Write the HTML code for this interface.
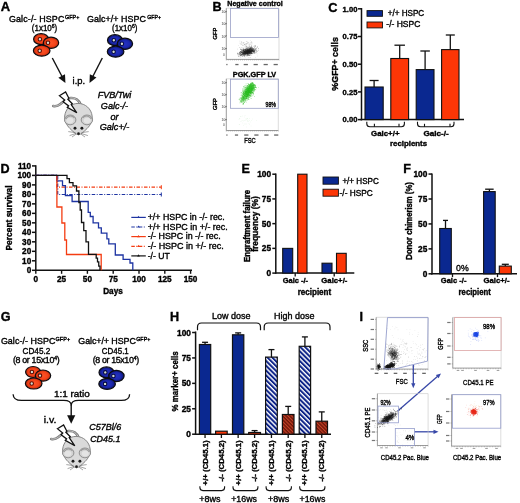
<!DOCTYPE html>
<html><head><meta charset="utf-8"><style>
html,body{margin:0;padding:0;background:#fff;}
svg{display:block;filter:blur(0.4px);}
text{font-family:"Liberation Sans", sans-serif;} text:not([fill]){fill:#000;} text:not([stroke]){stroke:#000;stroke-width:0.36px;}
</style></head><body>
<svg width="520" height="503" viewBox="0 0 520 503">
<rect width="520" height="503" fill="#fff"/>
<defs><radialGradient id="gr" cx="0.5" cy="0.5" r="0.5"><stop offset="0" stop-color="#fb5428"/><stop offset="0.6" stop-color="#f4441a"/><stop offset="1" stop-color="#c42c0c"/></radialGradient><radialGradient id="gb" cx="0.5" cy="0.5" r="0.5"><stop offset="0" stop-color="#2532c0"/><stop offset="0.6" stop-color="#1c28b0"/><stop offset="1" stop-color="#0c1468"/></radialGradient></defs>
<text x="0.8" y="10.6" font-size="13" font-weight="bold">A</text>
<text x="9" y="22" font-size="8.9" textLength="55.3">Galc-/- HSPC</text>
<text x="65.0" y="18.6" font-size="5.6" textLength="14.4" lengthAdjust="spacingAndGlyphs">GFP+</text>
<text x="31.8" y="31.4" font-size="8.9" textLength="25.5" lengthAdjust="spacingAndGlyphs">(1x10<tspan font-size="5.6" dy="-3">6</tspan><tspan dy="3">)</tspan></text>
<text x="87" y="22" font-size="8.9" textLength="59">Galc+/+ HSPC</text>
<text x="147.2" y="18.6" font-size="5.6" textLength="14" lengthAdjust="spacingAndGlyphs">GFP+</text>
<text x="112" y="31.4" font-size="8.9" textLength="25.4" lengthAdjust="spacingAndGlyphs">(1x10<tspan font-size="5.6" dy="-3">6</tspan><tspan dy="3">)</tspan></text>
<g><ellipse cx="41.1" cy="39.2" rx="7.5" ry="5.5" fill="url(#gr)" stroke="#0c0c10" stroke-width="1.2"/><circle cx="39.9" cy="39.2" r="1.75" fill="#d4dcd0" stroke="#5a0a00" stroke-width="1.1"/><ellipse cx="51.0" cy="42.8" rx="7.7" ry="5.6" fill="url(#gr)" stroke="#0c0c10" stroke-width="1.2"/><circle cx="48.0" cy="42.8" r="1.75" fill="#d4dcd0" stroke="#5a0a00" stroke-width="1.1"/><ellipse cx="41.7" cy="50.7" rx="8.3" ry="5.5" fill="url(#gr)" stroke="#0c0c10" stroke-width="1.2"/><circle cx="39.7" cy="50.7" r="1.75" fill="#d4dcd0" stroke="#5a0a00" stroke-width="1.1"/></g>
<g><ellipse cx="115.0" cy="40.2" rx="7.5" ry="5.5" fill="url(#gb)" stroke="#0c0c10" stroke-width="1.2"/><circle cx="113.8" cy="40.2" r="1.75" fill="#d4dcd0" stroke="#060a40" stroke-width="1.1"/><ellipse cx="124.9" cy="43.8" rx="7.7" ry="5.6" fill="url(#gb)" stroke="#0c0c10" stroke-width="1.2"/><circle cx="121.9" cy="43.8" r="1.75" fill="#d4dcd0" stroke="#060a40" stroke-width="1.1"/><ellipse cx="115.6" cy="51.7" rx="8.3" ry="5.5" fill="url(#gb)" stroke="#0c0c10" stroke-width="1.2"/><circle cx="113.6" cy="51.7" r="1.75" fill="#d4dcd0" stroke="#060a40" stroke-width="1.1"/></g>
<line x1="52.3" y1="58" x2="62.15" y2="76.80" stroke="#111" stroke-width="1.4"/>
<path d="M65.4,83 L58.37,77.65 L65.01,74.17 Z" fill="#111"/>
<line x1="102.3" y1="58" x2="92.69" y2="76.77" stroke="#111" stroke-width="1.4"/>
<path d="M89.5,83 L89.81,74.17 L96.48,77.59 Z" fill="#111"/>
<text x="72.6" y="83.9" font-size="9.8" textLength="12.5" lengthAdjust="spacingAndGlyphs">i.p.</text>
<g transform="translate(0 0)"><path d="M80.5,104.5 C79,100 75,97.5 70.5,98 C66.5,98.5 63.5,101.5 60.5,104 C58.5,105.6 56,106.6 53.2,106" fill="none" stroke="#7c7c7c" stroke-width="2.6" stroke-linecap="round"/><path d="M80.5,104.5 C79,100 75,97.5 70.5,98 C66.5,98.5 63.5,101.5 60.5,104 C58.5,105.6 56,106.6 53.2,106" fill="none" stroke="#c4c4c4" stroke-width="1.0" stroke-linecap="round"/><path d="M78,103.4 C85.5,103.4 91.4,109 92.1,116 C92.8,121 90.5,125 87,128.6 C84,131.6 81,134.4 78.5,134.9 C76,134.4 73,131.6 70,128.6 C66.5,125 64.2,121 64.7,116 C65.5,109 70.8,103.4 78,103.4 Z" fill="#dadada" stroke="#848484" stroke-width="1"/><ellipse cx="70.2" cy="119.9" rx="5.7" ry="4.9" fill="#d2d2d2" stroke="#888" stroke-width="0.9"/><path d="M74.5,117.8 Q70.2,113.6 65.6,119" fill="none" stroke="#9a9a9a" stroke-width="1.2"/><ellipse cx="69.9" cy="120.6" rx="3.5" ry="2.8" fill="#e4e4e4"/><ellipse cx="86.9" cy="119.9" rx="5.7" ry="4.9" fill="#d2d2d2" stroke="#888" stroke-width="0.9"/><path d="M82.6,117.8 Q86.9,113.6 91.5,119" fill="none" stroke="#9a9a9a" stroke-width="1.2"/><ellipse cx="87.2" cy="120.6" rx="3.5" ry="2.8" fill="#e4e4e4"/><circle cx="75" cy="128.3" r="1.45" fill="#1a1a1a"/><circle cx="81.9" cy="128.3" r="1.45" fill="#1a1a1a"/><circle cx="78.5" cy="133.6" r="1.3" fill="#1a1a1a"/><path d="M75.5,132.6 L68.3,131.6 M75.5,133.6 L69.6,135.6 M76,134.2 L72,137 M81.5,132.6 L88.7,131.6 M81.5,133.6 L87.9,135.6 M81,134.2 L85,137" stroke="#6a6a6a" stroke-width="0.6" fill="none"/><path d="M59.4,95.7 L65.6,91.9 L68.9,98.3 L67.9,99.2 L72.3,103.7 L71.2,104.7 L76.8,112.8 L67.3,107.3 L68.6,105.9 L63.1,101.7 L64.7,100.1 Z" fill="#fff" stroke="#111" stroke-width="1.3" stroke-linejoin="miter"/></g>
<text x="114.5" y="97.5" font-size="9.1" font-style="italic" text-anchor="middle">FVB/Twi</text>
<text x="114.5" y="108.6" font-size="9.1" font-style="italic" text-anchor="middle">Galc-/-</text>
<text x="114.5" y="119.6" font-size="9.1" font-style="italic" text-anchor="middle">or</text>
<text x="114.5" y="130.2" font-size="9.1" font-style="italic" text-anchor="middle">Galc+/-</text>
<text x="212.6" y="10.6" font-size="12.6" font-weight="bold">B</text>
<text x="227.3" y="6.0" font-size="7.4" font-weight="bold" textLength="55.4" lengthAdjust="spacingAndGlyphs">Negative control</text>
<path d="M226.3,8.2 H279 V59.4" fill="none" stroke="#c4c4c4" stroke-width="0.6"/>
<path d="M226.3,8.2 V59.4 H279" fill="none" stroke="#707070" stroke-width="0.7"/>
<path d="M226.3,59.4 v1.2 M228.3,59.4 v1.2 M230.4,59.4 v1.2 M232.4,59.4 v1.2 M234.4,59.4 v1.2 M236.4,59.4 v1.2 M238.5,59.4 v1.2 M240.5,59.4 v1.2 M242.5,59.4 v1.2 M244.5,59.4 v1.2 M246.6,59.4 v1.2 M248.6,59.4 v1.2 M250.6,59.4 v1.2 M252.7,59.4 v1.2 M254.7,59.4 v1.2 M256.7,59.4 v1.2 M258.7,59.4 v1.2 M260.8,59.4 v1.2 M262.8,59.4 v1.2 M264.8,59.4 v1.2 M266.8,59.4 v1.2 M268.9,59.4 v1.2 M270.9,59.4 v1.2 M272.9,59.4 v1.2 M274.9,59.4 v1.2 M277.0,59.4 v1.2 M279.0,59.4 v1.2 " stroke="#777" stroke-width="0.35"/>
<rect x="230.5" y="8.4" width="48" height="29.1" fill="none" stroke="#9aa0c6" stroke-width="0.8"/>
<text x="221.6" y="13.2" font-size="3.4" fill="#333" stroke="none">10<tspan font-size="2.4" dy="-1.3">5</tspan></text>
<line x1="224.7" y1="12" x2="226.29999999999998" y2="12" stroke="#555" stroke-width="0.5"/>
<text x="221.6" y="25.2" font-size="3.4" fill="#333" stroke="none">10<tspan font-size="2.4" dy="-1.3">5</tspan></text>
<line x1="224.7" y1="24" x2="226.29999999999998" y2="24" stroke="#555" stroke-width="0.5"/>
<text x="221.6" y="37.7" font-size="3.4" fill="#333" stroke="none">10<tspan font-size="2.4" dy="-1.3">5</tspan></text>
<line x1="224.7" y1="36.5" x2="226.29999999999998" y2="36.5" stroke="#555" stroke-width="0.5"/>
<text x="221.6" y="50.0" font-size="3.4" fill="#333" stroke="none">10<tspan font-size="2.4" dy="-1.3">5</tspan></text>
<line x1="224.7" y1="48.8" x2="226.29999999999998" y2="48.8" stroke="#555" stroke-width="0.5"/>
<text x="223" y="55.5" font-size="3.2" fill="#333" stroke="none">0</text>
<rect x="226.30" y="63.9" width="1.2" height="1.3" fill="#666"/>
<rect x="235.30" y="63.9" width="3.2" height="1.3" fill="#666"/>
<rect x="243.70" y="63.9" width="4.2" height="1.3" fill="#666"/>
<rect x="253.60" y="63.9" width="4.2" height="1.3" fill="#666"/>
<rect x="263.60" y="63.9" width="4.2" height="1.3" fill="#666"/>
<rect x="273.60" y="63.9" width="4.2" height="1.3" fill="#666"/>
<text x="217.4" y="33.5" font-size="5.9" text-anchor="middle" textLength="11.9" lengthAdjust="spacingAndGlyphs" transform="rotate(-90 217.4 33.5)">GFP</text>
<path fill="#1a1a1a" fill-opacity="0.55" d="M246.3 52.4h.6v.6h-.6zM241.1 50.0h.6v.6h-.6zM246.0 51.5h.6v.6h-.6zM246.8 50.2h.6v.6h-.6zM243.7 51.3h.6v.6h-.6zM248.1 51.9h.6v.6h-.6zM242.5 55.0h.6v.6h-.6zM242.2 52.3h.6v.6h-.6zM246.6 52.0h.6v.6h-.6zM243.2 52.7h.6v.6h-.6zM250.8 48.7h.6v.6h-.6zM247.8 53.2h.6v.6h-.6zM248.0 52.2h.6v.6h-.6zM244.0 54.6h.6v.6h-.6zM244.5 53.6h.6v.6h-.6zM247.0 53.1h.6v.6h-.6zM253.6 50.0h.6v.6h-.6zM241.6 51.6h.6v.6h-.6zM239.2 51.8h.6v.6h-.6zM254.2 47.0h.6v.6h-.6zM243.5 51.6h.6v.6h-.6zM240.2 54.6h.6v.6h-.6zM253.3 51.6h.6v.6h-.6zM246.0 52.9h.6v.6h-.6zM248.8 49.5h.6v.6h-.6zM252.5 51.3h.6v.6h-.6zM251.7 50.1h.6v.6h-.6zM247.9 51.3h.6v.6h-.6zM253.8 50.8h.6v.6h-.6zM247.3 51.8h.6v.6h-.6zM246.5 51.1h.6v.6h-.6zM246.3 51.1h.6v.6h-.6zM245.4 52.0h.6v.6h-.6zM250.0 52.3h.6v.6h-.6zM249.3 52.1h.6v.6h-.6zM244.8 53.2h.6v.6h-.6zM241.8 50.0h.6v.6h-.6zM245.5 54.3h.6v.6h-.6zM245.3 52.1h.6v.6h-.6zM249.9 51.3h.6v.6h-.6zM252.7 50.7h.6v.6h-.6zM252.6 49.3h.6v.6h-.6zM248.2 51.6h.6v.6h-.6zM252.7 49.6h.6v.6h-.6zM248.9 48.5h.6v.6h-.6zM242.7 49.0h.6v.6h-.6zM250.5 54.1h.6v.6h-.6zM243.0 54.7h.6v.6h-.6zM248.5 51.2h.6v.6h-.6zM251.6 49.3h.6v.6h-.6zM249.9 48.3h.6v.6h-.6zM255.2 46.5h.6v.6h-.6zM248.8 49.9h.6v.6h-.6zM249.1 48.8h.6v.6h-.6zM249.8 49.5h.6v.6h-.6zM250.4 50.8h.6v.6h-.6zM244.7 52.7h.6v.6h-.6zM241.3 54.1h.6v.6h-.6zM239.1 52.7h.6v.6h-.6zM248.2 50.3h.6v.6h-.6zM251.7 50.9h.6v.6h-.6zM252.1 50.6h.6v.6h-.6zM246.2 51.1h.6v.6h-.6zM238.2 53.6h.6v.6h-.6zM247.9 52.4h.6v.6h-.6zM250.4 49.2h.6v.6h-.6zM247.2 50.9h.6v.6h-.6zM248.9 51.9h.6v.6h-.6zM247.3 52.3h.6v.6h-.6zM247.3 54.8h.6v.6h-.6zM248.1 50.3h.6v.6h-.6zM247.3 51.8h.6v.6h-.6zM247.7 51.1h.6v.6h-.6zM240.4 53.5h.6v.6h-.6zM246.1 52.4h.6v.6h-.6zM254.6 47.8h.6v.6h-.6zM245.6 53.3h.6v.6h-.6zM244.0 54.2h.6v.6h-.6zM248.9 52.7h.6v.6h-.6zM244.9 50.8h.6v.6h-.6zM241.3 52.2h.6v.6h-.6zM249.2 50.2h.6v.6h-.6zM254.6 52.2h.6v.6h-.6zM245.7 50.0h.6v.6h-.6zM248.0 48.8h.6v.6h-.6zM244.5 50.9h.6v.6h-.6zM251.0 51.8h.6v.6h-.6zM246.4 52.0h.6v.6h-.6zM245.3 52.5h.6v.6h-.6zM245.4 51.5h.6v.6h-.6zM242.6 53.4h.6v.6h-.6zM245.7 50.7h.6v.6h-.6zM248.8 48.1h.6v.6h-.6zM243.0 52.4h.6v.6h-.6zM252.1 50.7h.6v.6h-.6zM241.1 52.3h.6v.6h-.6zM245.7 53.0h.6v.6h-.6zM243.7 49.8h.6v.6h-.6zM248.4 47.6h.6v.6h-.6zM249.0 51.2h.6v.6h-.6zM247.6 51.5h.6v.6h-.6zM245.6 48.7h.6v.6h-.6zM245.0 54.3h.6v.6h-.6zM242.4 54.3h.6v.6h-.6zM240.4 54.4h.6v.6h-.6zM249.9 47.8h.6v.6h-.6zM243.0 50.8h.6v.6h-.6zM242.4 52.8h.6v.6h-.6zM247.7 50.4h.6v.6h-.6zM251.1 46.8h.6v.6h-.6zM253.8 52.7h.6v.6h-.6zM253.6 48.0h.6v.6h-.6zM249.7 51.7h.6v.6h-.6zM252.3 47.8h.6v.6h-.6zM246.2 49.7h.6v.6h-.6zM254.4 51.0h.6v.6h-.6zM246.8 50.2h.6v.6h-.6zM249.8 53.3h.6v.6h-.6zM246.8 49.9h.6v.6h-.6zM245.8 52.4h.6v.6h-.6zM254.0 51.1h.6v.6h-.6zM246.5 50.6h.6v.6h-.6zM245.6 52.2h.6v.6h-.6zM247.8 49.8h.6v.6h-.6zM244.9 50.8h.6v.6h-.6z"/>
<path fill="#1a1a1a" fill-opacity="0.55" d="M246.4 51.1h.6v.6h-.6zM244.0 51.4h.6v.6h-.6zM249.5 51.3h.6v.6h-.6zM249.0 50.9h.6v.6h-.6zM251.8 47.1h.6v.6h-.6zM252.9 51.1h.6v.6h-.6zM249.2 50.7h.6v.6h-.6zM246.7 51.0h.6v.6h-.6zM249.3 50.9h.6v.6h-.6zM248.6 51.5h.6v.6h-.6zM247.0 53.0h.6v.6h-.6zM246.7 51.8h.6v.6h-.6zM241.7 50.2h.6v.6h-.6zM250.8 50.3h.6v.6h-.6zM247.6 51.5h.6v.6h-.6zM252.6 52.8h.6v.6h-.6zM249.1 52.6h.6v.6h-.6zM250.5 49.8h.6v.6h-.6zM248.2 50.4h.6v.6h-.6zM248.9 54.9h.6v.6h-.6zM250.4 50.8h.6v.6h-.6zM248.4 50.0h.6v.6h-.6zM253.8 51.2h.6v.6h-.6zM247.4 50.0h.6v.6h-.6zM240.4 53.0h.6v.6h-.6zM247.1 52.4h.6v.6h-.6zM247.5 55.5h.6v.6h-.6zM246.3 52.7h.6v.6h-.6zM251.1 49.1h.6v.6h-.6zM249.5 52.0h.6v.6h-.6zM247.0 50.2h.6v.6h-.6zM248.9 52.0h.6v.6h-.6zM249.1 50.3h.6v.6h-.6zM249.0 50.7h.6v.6h-.6zM244.4 54.8h.6v.6h-.6zM247.0 51.9h.6v.6h-.6zM251.4 49.7h.6v.6h-.6zM250.0 50.6h.6v.6h-.6zM247.8 51.9h.6v.6h-.6zM249.0 50.8h.6v.6h-.6zM250.4 49.6h.6v.6h-.6zM243.5 50.0h.6v.6h-.6zM242.5 52.1h.6v.6h-.6zM246.9 51.8h.6v.6h-.6zM244.8 51.9h.6v.6h-.6zM249.4 52.2h.6v.6h-.6zM247.2 51.0h.6v.6h-.6zM248.9 49.5h.6v.6h-.6zM249.6 50.3h.6v.6h-.6zM247.9 51.1h.6v.6h-.6zM244.7 51.1h.6v.6h-.6zM247.1 52.1h.6v.6h-.6zM244.0 51.5h.6v.6h-.6zM248.9 51.0h.6v.6h-.6zM246.8 54.3h.6v.6h-.6zM246.2 50.7h.6v.6h-.6zM244.0 55.8h.6v.6h-.6zM241.0 54.6h.6v.6h-.6zM250.4 51.9h.6v.6h-.6zM247.8 50.2h.6v.6h-.6zM247.2 50.9h.6v.6h-.6zM244.6 52.1h.6v.6h-.6zM246.6 48.8h.6v.6h-.6zM249.1 50.5h.6v.6h-.6zM244.0 52.0h.6v.6h-.6zM240.7 51.3h.6v.6h-.6zM248.4 50.0h.6v.6h-.6zM246.8 51.2h.6v.6h-.6zM251.4 51.8h.6v.6h-.6zM251.5 51.0h.6v.6h-.6zM246.1 52.9h.6v.6h-.6zM244.1 54.4h.6v.6h-.6zM247.0 52.6h.6v.6h-.6zM244.9 48.9h.6v.6h-.6zM248.2 51.3h.6v.6h-.6zM249.1 51.7h.6v.6h-.6zM249.9 51.0h.6v.6h-.6zM244.8 51.7h.6v.6h-.6zM243.3 54.7h.6v.6h-.6zM244.3 53.0h.6v.6h-.6zM247.3 49.1h.6v.6h-.6zM248.3 52.4h.6v.6h-.6zM250.0 51.7h.6v.6h-.6zM244.5 50.7h.6v.6h-.6zM250.5 48.7h.6v.6h-.6zM243.4 48.9h.6v.6h-.6zM241.7 52.0h.6v.6h-.6zM246.6 53.1h.6v.6h-.6zM251.5 52.5h.6v.6h-.6zM248.9 49.7h.6v.6h-.6zM245.4 50.5h.6v.6h-.6zM248.8 51.6h.6v.6h-.6zM249.0 53.3h.6v.6h-.6zM240.2 52.2h.6v.6h-.6zM243.8 48.8h.6v.6h-.6zM248.1 52.8h.6v.6h-.6zM245.7 53.7h.6v.6h-.6zM251.4 49.3h.6v.6h-.6zM245.3 50.6h.6v.6h-.6zM248.9 49.1h.6v.6h-.6zM252.7 50.3h.6v.6h-.6zM247.0 50.8h.6v.6h-.6zM250.8 53.3h.6v.6h-.6zM253.1 49.1h.6v.6h-.6zM243.3 54.0h.6v.6h-.6zM244.6 51.4h.6v.6h-.6zM244.8 52.2h.6v.6h-.6zM248.1 52.2h.6v.6h-.6zM244.5 51.2h.6v.6h-.6zM247.2 51.9h.6v.6h-.6zM247.0 53.5h.6v.6h-.6zM247.8 50.8h.6v.6h-.6zM247.1 52.2h.6v.6h-.6zM249.7 52.2h.6v.6h-.6zM251.7 53.0h.6v.6h-.6zM246.0 50.7h.6v.6h-.6zM247.8 51.2h.6v.6h-.6zM246.6 50.5h.6v.6h-.6zM247.0 50.9h.6v.6h-.6zM243.9 53.7h.6v.6h-.6zM251.2 50.0h.6v.6h-.6zM252.0 50.6h.6v.6h-.6zM241.2 51.0h.6v.6h-.6zM247.4 52.8h.6v.6h-.6zM245.9 51.6h.6v.6h-.6z"/>
<path fill="#1a1a1a" fill-opacity="0.55" d="M243.9 51.8h.6v.6h-.6zM248.3 51.1h.6v.6h-.6zM245.6 50.2h.6v.6h-.6zM241.9 53.9h.6v.6h-.6zM242.0 52.9h.6v.6h-.6zM249.1 51.9h.6v.6h-.6zM248.4 52.2h.6v.6h-.6zM252.3 48.6h.6v.6h-.6zM250.0 51.7h.6v.6h-.6zM245.6 52.8h.6v.6h-.6zM250.3 53.1h.6v.6h-.6zM250.1 51.0h.6v.6h-.6zM249.4 49.4h.6v.6h-.6zM240.1 55.2h.6v.6h-.6zM252.3 49.8h.6v.6h-.6zM244.8 53.3h.6v.6h-.6zM246.5 49.5h.6v.6h-.6zM244.0 50.9h.6v.6h-.6zM250.0 52.0h.6v.6h-.6zM243.9 53.2h.6v.6h-.6zM244.1 50.7h.6v.6h-.6zM252.0 53.2h.6v.6h-.6zM244.1 52.5h.6v.6h-.6zM244.9 51.9h.6v.6h-.6zM243.9 53.3h.6v.6h-.6zM253.2 51.6h.6v.6h-.6zM246.0 53.1h.6v.6h-.6zM243.4 51.2h.6v.6h-.6zM246.5 48.6h.6v.6h-.6zM252.6 52.1h.6v.6h-.6zM249.7 51.4h.6v.6h-.6zM247.1 50.1h.6v.6h-.6zM255.6 49.0h.6v.6h-.6zM249.0 49.3h.6v.6h-.6zM253.2 50.1h.6v.6h-.6zM252.7 52.0h.6v.6h-.6zM247.0 50.9h.6v.6h-.6zM245.5 50.7h.6v.6h-.6zM246.3 52.2h.6v.6h-.6zM242.1 52.5h.6v.6h-.6zM247.1 51.4h.6v.6h-.6zM242.8 52.9h.6v.6h-.6zM245.2 52.6h.6v.6h-.6zM241.8 52.6h.6v.6h-.6zM250.3 50.5h.6v.6h-.6zM249.4 55.1h.6v.6h-.6zM245.4 50.5h.6v.6h-.6zM251.1 51.1h.6v.6h-.6zM247.1 48.0h.6v.6h-.6zM247.6 53.1h.6v.6h-.6zM245.8 53.1h.6v.6h-.6zM250.7 51.7h.6v.6h-.6zM247.0 50.4h.6v.6h-.6zM240.6 53.3h.6v.6h-.6zM248.8 50.8h.6v.6h-.6zM246.3 52.6h.6v.6h-.6zM245.4 53.7h.6v.6h-.6zM245.1 52.1h.6v.6h-.6zM250.4 46.8h.6v.6h-.6zM241.4 54.4h.6v.6h-.6zM248.1 50.5h.6v.6h-.6zM247.7 48.5h.6v.6h-.6zM246.0 51.6h.6v.6h-.6zM249.2 47.4h.6v.6h-.6zM249.4 51.1h.6v.6h-.6zM256.2 52.5h.6v.6h-.6zM240.6 49.3h.6v.6h-.6zM250.6 50.7h.6v.6h-.6zM251.5 48.4h.6v.6h-.6zM245.0 52.5h.6v.6h-.6zM254.4 50.8h.6v.6h-.6zM244.8 49.0h.6v.6h-.6zM246.9 47.6h.6v.6h-.6zM241.9 53.6h.6v.6h-.6zM245.4 49.7h.6v.6h-.6zM247.9 51.5h.6v.6h-.6zM246.0 54.1h.6v.6h-.6zM248.2 50.6h.6v.6h-.6zM246.6 55.4h.6v.6h-.6zM248.4 50.7h.6v.6h-.6zM245.3 53.0h.6v.6h-.6zM245.2 48.9h.6v.6h-.6zM253.6 49.7h.6v.6h-.6zM250.3 52.4h.6v.6h-.6zM244.7 50.6h.6v.6h-.6zM249.3 53.1h.6v.6h-.6zM242.1 52.4h.6v.6h-.6zM250.9 50.7h.6v.6h-.6zM249.1 48.9h.6v.6h-.6zM248.9 50.0h.6v.6h-.6zM253.6 48.6h.6v.6h-.6zM247.8 54.0h.6v.6h-.6zM241.4 52.2h.6v.6h-.6zM254.1 50.0h.6v.6h-.6zM242.3 56.5h.6v.6h-.6zM243.2 53.3h.6v.6h-.6zM243.0 50.2h.6v.6h-.6zM243.4 50.7h.6v.6h-.6zM250.0 48.3h.6v.6h-.6zM250.6 49.8h.6v.6h-.6zM254.0 52.8h.6v.6h-.6zM243.3 50.5h.6v.6h-.6zM245.9 51.7h.6v.6h-.6zM244.5 51.5h.6v.6h-.6zM241.1 50.7h.6v.6h-.6zM251.1 48.2h.6v.6h-.6zM247.0 54.1h.6v.6h-.6zM249.6 53.1h.6v.6h-.6zM246.5 51.5h.6v.6h-.6zM247.9 52.2h.6v.6h-.6zM241.5 49.6h.6v.6h-.6zM248.5 48.7h.6v.6h-.6zM245.0 52.0h.6v.6h-.6zM254.0 52.0h.6v.6h-.6zM246.8 53.1h.6v.6h-.6zM244.3 52.2h.6v.6h-.6zM248.4 49.8h.6v.6h-.6zM248.6 51.4h.6v.6h-.6zM248.4 49.8h.6v.6h-.6zM251.6 50.5h.6v.6h-.6zM242.8 52.2h.6v.6h-.6zM243.3 51.4h.6v.6h-.6zM250.0 52.4h.6v.6h-.6zM237.9 55.2h.6v.6h-.6zM243.3 53.0h.6v.6h-.6z"/>
<path fill="#1a1a1a" fill-opacity="0.55" d="M251.2 51.2h.6v.6h-.6zM249.1 50.0h.6v.6h-.6zM245.3 53.8h.6v.6h-.6zM249.6 52.4h.6v.6h-.6zM252.4 51.2h.6v.6h-.6zM241.6 54.7h.6v.6h-.6zM247.6 53.1h.6v.6h-.6zM251.7 48.4h.6v.6h-.6zM254.4 50.3h.6v.6h-.6zM248.2 50.3h.6v.6h-.6zM241.1 52.2h.6v.6h-.6zM246.9 53.9h.6v.6h-.6zM243.5 49.9h.6v.6h-.6zM246.9 50.5h.6v.6h-.6zM238.9 52.6h.6v.6h-.6zM240.4 51.2h.6v.6h-.6zM245.2 53.6h.6v.6h-.6zM241.7 52.4h.6v.6h-.6zM249.6 51.4h.6v.6h-.6zM254.0 49.7h.6v.6h-.6zM256.8 51.1h.6v.6h-.6zM242.2 51.5h.6v.6h-.6zM239.4 51.9h.6v.6h-.6zM246.8 51.7h.6v.6h-.6zM243.3 48.1h.6v.6h-.6zM250.9 48.8h.6v.6h-.6zM250.7 50.6h.6v.6h-.6zM247.2 49.1h.6v.6h-.6zM250.0 52.3h.6v.6h-.6zM242.5 51.6h.6v.6h-.6zM246.9 50.4h.6v.6h-.6zM246.7 51.4h.6v.6h-.6zM251.2 50.7h.6v.6h-.6zM251.5 48.8h.6v.6h-.6zM248.2 50.5h.6v.6h-.6zM245.3 55.5h.6v.6h-.6zM246.8 49.8h.6v.6h-.6zM243.8 51.6h.6v.6h-.6zM247.4 52.6h.6v.6h-.6zM248.8 50.2h.6v.6h-.6zM240.8 55.1h.6v.6h-.6zM253.3 50.7h.6v.6h-.6zM246.8 51.4h.6v.6h-.6zM244.8 52.5h.6v.6h-.6zM248.3 50.1h.6v.6h-.6zM247.9 51.6h.6v.6h-.6zM244.9 52.9h.6v.6h-.6zM241.6 55.2h.6v.6h-.6zM245.7 52.8h.6v.6h-.6zM255.8 48.4h.6v.6h-.6zM247.5 50.7h.6v.6h-.6zM246.2 49.9h.6v.6h-.6zM247.2 52.6h.6v.6h-.6zM251.5 47.5h.6v.6h-.6zM243.1 51.1h.6v.6h-.6zM248.5 49.2h.6v.6h-.6zM244.9 53.2h.6v.6h-.6zM251.7 50.6h.6v.6h-.6zM247.8 52.1h.6v.6h-.6zM248.3 50.3h.6v.6h-.6zM243.5 51.0h.6v.6h-.6zM245.0 52.1h.6v.6h-.6zM243.7 52.1h.6v.6h-.6zM250.3 51.3h.6v.6h-.6zM251.7 53.6h.6v.6h-.6zM244.7 50.8h.6v.6h-.6zM242.6 51.2h.6v.6h-.6zM249.9 51.7h.6v.6h-.6zM244.9 52.6h.6v.6h-.6zM253.0 51.1h.6v.6h-.6zM248.4 48.7h.6v.6h-.6zM246.5 50.3h.6v.6h-.6zM247.1 50.0h.6v.6h-.6zM244.4 51.4h.6v.6h-.6zM245.3 49.4h.6v.6h-.6zM251.0 48.2h.6v.6h-.6zM245.1 52.9h.6v.6h-.6zM248.1 50.3h.6v.6h-.6zM246.7 52.6h.6v.6h-.6zM247.8 51.0h.6v.6h-.6zM251.1 53.1h.6v.6h-.6zM248.4 51.9h.6v.6h-.6zM246.8 49.8h.6v.6h-.6zM242.3 54.0h.6v.6h-.6zM245.2 53.9h.6v.6h-.6zM247.8 49.7h.6v.6h-.6zM249.3 49.2h.6v.6h-.6zM242.3 53.7h.6v.6h-.6zM242.7 52.8h.6v.6h-.6zM245.2 52.7h.6v.6h-.6zM253.5 51.0h.6v.6h-.6zM246.0 52.4h.6v.6h-.6zM240.3 54.2h.6v.6h-.6zM242.7 52.8h.6v.6h-.6zM243.1 52.2h.6v.6h-.6zM248.6 49.9h.6v.6h-.6zM252.8 50.8h.6v.6h-.6zM245.6 49.7h.6v.6h-.6zM244.6 51.5h.6v.6h-.6zM250.7 50.8h.6v.6h-.6zM253.4 51.7h.6v.6h-.6zM239.1 54.1h.6v.6h-.6zM244.0 53.7h.6v.6h-.6zM256.2 51.0h.6v.6h-.6zM248.2 49.9h.6v.6h-.6zM244.0 48.9h.6v.6h-.6zM248.2 49.5h.6v.6h-.6zM244.2 53.6h.6v.6h-.6zM257.9 50.0h.6v.6h-.6zM248.2 51.4h.6v.6h-.6zM245.5 50.4h.6v.6h-.6zM240.9 49.1h.6v.6h-.6zM247.3 52.3h.6v.6h-.6zM250.0 48.9h.6v.6h-.6zM248.8 52.1h.6v.6h-.6zM247.1 52.5h.6v.6h-.6zM247.3 51.4h.6v.6h-.6zM243.9 50.9h.6v.6h-.6zM251.1 47.8h.6v.6h-.6zM243.1 53.0h.6v.6h-.6zM246.5 51.5h.6v.6h-.6zM246.7 50.8h.6v.6h-.6zM247.2 50.5h.6v.6h-.6zM249.9 47.5h.6v.6h-.6zM249.2 51.1h.6v.6h-.6z"/>
<path fill="#1a1a1a" fill-opacity="0.55" d="M250.9 51.0h.6v.6h-.6zM248.3 51.8h.6v.6h-.6zM244.3 52.4h.6v.6h-.6zM252.4 50.8h.6v.6h-.6zM240.4 48.9h.6v.6h-.6zM250.6 51.5h.6v.6h-.6zM244.8 51.3h.6v.6h-.6zM244.4 53.0h.6v.6h-.6zM245.7 51.1h.6v.6h-.6zM255.9 50.0h.6v.6h-.6zM246.0 52.7h.6v.6h-.6zM251.0 50.1h.6v.6h-.6zM251.8 51.6h.6v.6h-.6zM248.6 51.7h.6v.6h-.6zM240.5 54.2h.6v.6h-.6zM240.1 54.7h.6v.6h-.6zM241.3 51.8h.6v.6h-.6zM243.0 52.9h.6v.6h-.6zM252.0 51.4h.6v.6h-.6zM249.2 52.4h.6v.6h-.6zM249.5 46.7h.6v.6h-.6zM248.2 51.5h.6v.6h-.6zM247.0 52.3h.6v.6h-.6zM247.2 51.7h.6v.6h-.6zM243.5 54.8h.6v.6h-.6zM246.7 52.7h.6v.6h-.6zM243.0 52.6h.6v.6h-.6zM245.6 48.5h.6v.6h-.6zM240.4 52.8h.6v.6h-.6zM243.4 50.5h.6v.6h-.6zM246.6 47.2h.6v.6h-.6zM249.8 51.3h.6v.6h-.6zM251.2 46.7h.6v.6h-.6zM248.1 54.6h.6v.6h-.6zM252.3 49.1h.6v.6h-.6zM247.2 52.7h.6v.6h-.6zM247.3 49.1h.6v.6h-.6zM248.3 52.0h.6v.6h-.6zM240.4 51.5h.6v.6h-.6zM246.8 52.7h.6v.6h-.6zM250.4 47.9h.6v.6h-.6zM248.1 54.8h.6v.6h-.6zM245.9 53.4h.6v.6h-.6zM243.1 49.1h.6v.6h-.6zM248.3 53.8h.6v.6h-.6zM250.5 51.2h.6v.6h-.6zM247.3 51.5h.6v.6h-.6zM248.4 52.6h.6v.6h-.6zM252.0 49.7h.6v.6h-.6zM245.1 52.7h.6v.6h-.6zM249.2 53.5h.6v.6h-.6zM247.6 53.0h.6v.6h-.6zM251.5 53.2h.6v.6h-.6zM250.1 51.1h.6v.6h-.6zM247.9 52.7h.6v.6h-.6zM248.7 51.3h.6v.6h-.6zM255.2 45.6h.6v.6h-.6zM242.2 49.8h.6v.6h-.6zM256.4 47.8h.6v.6h-.6zM247.9 52.8h.6v.6h-.6zM245.1 50.9h.6v.6h-.6zM245.5 51.9h.6v.6h-.6zM249.1 50.7h.6v.6h-.6zM247.3 50.4h.6v.6h-.6zM243.9 49.1h.6v.6h-.6zM248.0 50.0h.6v.6h-.6zM247.1 51.5h.6v.6h-.6zM248.0 53.3h.6v.6h-.6zM252.4 50.4h.6v.6h-.6zM251.7 50.5h.6v.6h-.6zM254.1 50.0h.6v.6h-.6zM243.6 51.6h.6v.6h-.6zM249.5 49.9h.6v.6h-.6zM248.4 53.3h.6v.6h-.6zM251.6 51.3h.6v.6h-.6zM242.7 50.2h.6v.6h-.6zM251.4 50.1h.6v.6h-.6zM249.6 50.9h.6v.6h-.6zM245.9 49.9h.6v.6h-.6zM248.0 52.4h.6v.6h-.6zM244.1 49.8h.6v.6h-.6zM247.2 52.8h.6v.6h-.6zM248.9 53.2h.6v.6h-.6zM250.4 49.8h.6v.6h-.6zM250.3 51.7h.6v.6h-.6zM237.5 53.8h.6v.6h-.6zM239.8 55.1h.6v.6h-.6zM245.5 52.8h.6v.6h-.6zM248.6 55.2h.6v.6h-.6zM245.1 52.3h.6v.6h-.6zM252.4 48.7h.6v.6h-.6zM252.5 48.6h.6v.6h-.6zM244.5 51.6h.6v.6h-.6zM243.7 49.5h.6v.6h-.6zM248.0 51.0h.6v.6h-.6zM248.9 49.6h.6v.6h-.6zM250.6 49.3h.6v.6h-.6zM246.2 50.6h.6v.6h-.6zM246.0 53.3h.6v.6h-.6zM240.1 50.9h.6v.6h-.6zM247.7 51.5h.6v.6h-.6zM247.0 55.6h.6v.6h-.6zM242.2 53.4h.6v.6h-.6zM245.2 49.0h.6v.6h-.6zM250.0 50.8h.6v.6h-.6zM246.3 52.1h.6v.6h-.6zM252.8 51.7h.6v.6h-.6zM243.6 53.3h.6v.6h-.6zM250.0 49.4h.6v.6h-.6zM240.4 51.8h.6v.6h-.6zM245.2 52.1h.6v.6h-.6zM249.1 51.3h.6v.6h-.6zM246.9 51.2h.6v.6h-.6zM244.1 52.5h.6v.6h-.6zM248.9 49.8h.6v.6h-.6zM239.9 56.7h.6v.6h-.6zM249.4 49.2h.6v.6h-.6zM246.8 52.6h.6v.6h-.6zM246.6 51.6h.6v.6h-.6zM251.3 52.2h.6v.6h-.6zM249.7 50.6h.6v.6h-.6zM251.1 48.7h.6v.6h-.6zM251.1 47.2h.6v.6h-.6zM250.0 47.9h.6v.6h-.6zM253.3 49.5h.6v.6h-.6z"/>
<path fill="#1a1a1a" fill-opacity="0.55" d="M248.6 51.4h.6v.6h-.6zM244.8 54.7h.6v.6h-.6zM248.7 48.7h.6v.6h-.6zM247.6 49.2h.6v.6h-.6zM248.5 49.9h.6v.6h-.6zM240.1 52.0h.6v.6h-.6zM251.0 50.6h.6v.6h-.6zM251.3 51.9h.6v.6h-.6zM247.2 52.9h.6v.6h-.6zM245.2 51.7h.6v.6h-.6zM251.1 46.2h.6v.6h-.6zM257.1 47.4h.6v.6h-.6zM252.5 48.7h.6v.6h-.6zM252.6 48.6h.6v.6h-.6zM248.3 50.2h.6v.6h-.6zM242.8 52.4h.6v.6h-.6zM250.8 51.9h.6v.6h-.6zM238.7 53.8h.6v.6h-.6zM248.8 47.7h.6v.6h-.6zM243.9 52.0h.6v.6h-.6zM249.4 51.7h.6v.6h-.6zM245.8 50.2h.6v.6h-.6zM244.6 51.8h.6v.6h-.6zM246.7 49.5h.6v.6h-.6zM245.8 49.5h.6v.6h-.6zM246.1 53.3h.6v.6h-.6zM248.5 52.9h.6v.6h-.6zM244.7 52.9h.6v.6h-.6zM249.5 48.1h.6v.6h-.6zM246.9 51.5h.6v.6h-.6zM243.7 52.2h.6v.6h-.6zM244.6 49.8h.6v.6h-.6zM244.5 52.4h.6v.6h-.6zM246.4 51.6h.6v.6h-.6zM249.6 50.1h.6v.6h-.6zM244.9 51.8h.6v.6h-.6zM246.9 52.0h.6v.6h-.6zM249.2 54.3h.6v.6h-.6zM247.2 49.8h.6v.6h-.6zM244.0 53.1h.6v.6h-.6zM249.9 50.6h.6v.6h-.6zM245.3 50.7h.6v.6h-.6zM252.2 49.7h.6v.6h-.6zM247.3 51.8h.6v.6h-.6zM244.7 55.7h.6v.6h-.6zM253.2 48.1h.6v.6h-.6zM246.6 53.0h.6v.6h-.6zM247.9 51.0h.6v.6h-.6zM246.8 54.0h.6v.6h-.6zM243.4 53.0h.6v.6h-.6zM247.2 52.0h.6v.6h-.6zM243.3 50.6h.6v.6h-.6zM244.4 51.4h.6v.6h-.6zM248.9 51.7h.6v.6h-.6zM248.7 51.9h.6v.6h-.6zM243.6 53.4h.6v.6h-.6zM245.6 52.5h.6v.6h-.6zM251.5 51.6h.6v.6h-.6zM246.0 51.7h.6v.6h-.6zM243.7 52.0h.6v.6h-.6zM243.0 53.3h.6v.6h-.6zM249.8 52.0h.6v.6h-.6zM254.7 45.6h.6v.6h-.6zM249.5 50.1h.6v.6h-.6zM250.3 53.2h.6v.6h-.6zM251.9 50.2h.6v.6h-.6zM249.2 51.1h.6v.6h-.6zM245.1 51.3h.6v.6h-.6zM244.1 51.5h.6v.6h-.6zM249.1 50.7h.6v.6h-.6zM247.1 49.6h.6v.6h-.6zM248.2 49.3h.6v.6h-.6zM247.7 54.8h.6v.6h-.6zM254.2 51.5h.6v.6h-.6zM242.9 54.6h.6v.6h-.6zM245.2 50.9h.6v.6h-.6zM250.2 49.0h.6v.6h-.6zM248.0 46.8h.6v.6h-.6zM251.1 52.0h.6v.6h-.6zM250.7 49.5h.6v.6h-.6zM249.1 52.5h.6v.6h-.6zM245.1 51.7h.6v.6h-.6zM249.1 51.7h.6v.6h-.6zM241.8 51.4h.6v.6h-.6zM248.3 48.7h.6v.6h-.6zM251.6 50.9h.6v.6h-.6zM248.6 53.5h.6v.6h-.6zM248.1 53.8h.6v.6h-.6zM244.1 53.9h.6v.6h-.6zM253.0 50.2h.6v.6h-.6zM251.5 52.8h.6v.6h-.6zM250.9 53.5h.6v.6h-.6zM247.4 52.2h.6v.6h-.6zM244.5 53.2h.6v.6h-.6zM246.2 49.4h.6v.6h-.6zM244.3 52.0h.6v.6h-.6zM250.1 51.2h.6v.6h-.6zM245.2 50.3h.6v.6h-.6zM245.6 53.3h.6v.6h-.6zM251.3 50.3h.6v.6h-.6zM246.7 50.3h.6v.6h-.6zM247.1 51.2h.6v.6h-.6zM251.1 52.8h.6v.6h-.6zM244.8 53.8h.6v.6h-.6zM243.0 53.3h.6v.6h-.6zM241.1 51.8h.6v.6h-.6zM247.6 50.2h.6v.6h-.6zM247.8 51.6h.6v.6h-.6zM244.6 51.5h.6v.6h-.6zM238.8 54.3h.6v.6h-.6zM258.1 47.9h.6v.6h-.6zM247.5 47.6h.6v.6h-.6zM246.7 50.5h.6v.6h-.6zM249.0 49.4h.6v.6h-.6zM249.3 52.6h.6v.6h-.6zM255.4 49.5h.6v.6h-.6zM248.7 52.6h.6v.6h-.6zM242.9 50.7h.6v.6h-.6zM250.7 49.7h.6v.6h-.6zM250.1 47.8h.6v.6h-.6zM247.9 51.9h.6v.6h-.6zM249.0 51.2h.6v.6h-.6zM244.3 53.1h.6v.6h-.6zM251.3 51.1h.6v.6h-.6zM251.9 49.5h.6v.6h-.6z"/>
<path fill="#1a1a1a" fill-opacity="0.55" d="M241.2 54.1h.6v.6h-.6zM249.2 52.9h.6v.6h-.6zM247.4 53.5h.6v.6h-.6zM249.4 49.9h.6v.6h-.6zM243.2 53.9h.6v.6h-.6zM250.2 47.8h.6v.6h-.6zM244.0 53.6h.6v.6h-.6zM248.4 51.4h.6v.6h-.6zM246.0 52.3h.6v.6h-.6zM246.4 51.5h.6v.6h-.6zM251.1 48.2h.6v.6h-.6zM250.5 50.2h.6v.6h-.6zM247.2 49.6h.6v.6h-.6zM251.3 52.9h.6v.6h-.6zM247.2 52.7h.6v.6h-.6zM246.5 51.5h.6v.6h-.6zM247.2 52.7h.6v.6h-.6zM244.9 48.8h.6v.6h-.6zM250.4 52.8h.6v.6h-.6zM248.3 52.5h.6v.6h-.6zM253.3 50.7h.6v.6h-.6zM254.8 51.4h.6v.6h-.6zM248.9 51.6h.6v.6h-.6zM248.7 52.7h.6v.6h-.6zM244.5 52.8h.6v.6h-.6zM249.3 52.4h.6v.6h-.6zM250.0 50.8h.6v.6h-.6zM249.2 50.9h.6v.6h-.6zM240.6 51.2h.6v.6h-.6zM249.0 48.5h.6v.6h-.6zM241.8 52.9h.6v.6h-.6zM245.9 50.5h.6v.6h-.6zM249.4 54.7h.6v.6h-.6zM251.4 50.5h.6v.6h-.6zM244.7 53.1h.6v.6h-.6zM240.9 55.7h.6v.6h-.6zM248.9 50.7h.6v.6h-.6zM244.7 52.0h.6v.6h-.6zM243.4 53.2h.6v.6h-.6zM253.9 49.0h.6v.6h-.6zM248.8 51.6h.6v.6h-.6zM249.1 51.9h.6v.6h-.6zM250.2 49.5h.6v.6h-.6zM245.2 53.3h.6v.6h-.6zM244.9 51.9h.6v.6h-.6zM245.8 46.2h.6v.6h-.6zM249.0 50.8h.6v.6h-.6zM241.6 54.2h.6v.6h-.6zM246.0 52.8h.6v.6h-.6zM249.3 50.5h.6v.6h-.6zM251.7 50.8h.6v.6h-.6zM247.1 48.3h.6v.6h-.6zM238.3 56.4h.6v.6h-.6zM251.9 50.0h.6v.6h-.6zM247.0 53.6h.6v.6h-.6zM246.2 51.1h.6v.6h-.6zM246.9 50.4h.6v.6h-.6zM244.3 53.4h.6v.6h-.6zM250.4 50.0h.6v.6h-.6zM249.1 51.8h.6v.6h-.6zM242.5 53.5h.6v.6h-.6zM250.5 51.6h.6v.6h-.6zM246.5 48.6h.6v.6h-.6zM248.0 50.4h.6v.6h-.6zM250.5 52.0h.6v.6h-.6zM243.3 54.4h.6v.6h-.6zM244.3 50.9h.6v.6h-.6zM244.3 50.8h.6v.6h-.6zM244.8 50.6h.6v.6h-.6zM248.7 53.1h.6v.6h-.6zM247.0 49.7h.6v.6h-.6zM246.7 53.8h.6v.6h-.6zM243.4 50.4h.6v.6h-.6zM247.7 51.6h.6v.6h-.6zM250.4 47.6h.6v.6h-.6zM248.5 51.5h.6v.6h-.6zM250.8 50.9h.6v.6h-.6zM251.4 50.5h.6v.6h-.6zM252.7 51.5h.6v.6h-.6zM241.8 54.9h.6v.6h-.6zM247.9 49.2h.6v.6h-.6zM246.1 52.6h.6v.6h-.6zM246.5 51.8h.6v.6h-.6zM244.9 52.5h.6v.6h-.6zM245.3 50.9h.6v.6h-.6zM250.5 53.0h.6v.6h-.6zM242.4 54.2h.6v.6h-.6zM251.3 49.8h.6v.6h-.6zM250.0 48.1h.6v.6h-.6zM246.7 52.7h.6v.6h-.6zM246.8 51.3h.6v.6h-.6zM242.3 50.7h.6v.6h-.6zM246.0 51.7h.6v.6h-.6zM248.6 50.9h.6v.6h-.6zM243.4 54.9h.6v.6h-.6zM237.4 53.4h.6v.6h-.6zM249.5 50.9h.6v.6h-.6zM247.3 50.6h.6v.6h-.6zM241.9 49.7h.6v.6h-.6zM245.8 52.1h.6v.6h-.6zM247.0 50.4h.6v.6h-.6zM252.4 50.5h.6v.6h-.6zM243.8 53.9h.6v.6h-.6zM253.9 49.5h.6v.6h-.6zM250.2 47.7h.6v.6h-.6zM249.0 53.5h.6v.6h-.6zM240.5 51.3h.6v.6h-.6zM250.7 50.6h.6v.6h-.6zM247.9 49.6h.6v.6h-.6zM248.3 50.8h.6v.6h-.6zM247.4 51.8h.6v.6h-.6zM245.9 50.5h.6v.6h-.6zM255.2 50.4h.6v.6h-.6zM245.8 51.1h.6v.6h-.6zM244.0 55.3h.6v.6h-.6zM249.6 51.6h.6v.6h-.6zM249.3 50.3h.6v.6h-.6zM249.0 49.0h.6v.6h-.6zM249.2 50.1h.6v.6h-.6zM244.8 54.2h.6v.6h-.6zM247.2 54.4h.6v.6h-.6zM243.0 52.4h.6v.6h-.6zM249.5 49.2h.6v.6h-.6zM255.3 48.6h.6v.6h-.6zM249.9 47.7h.6v.6h-.6z"/>
<path fill="#1a1a1a" fill-opacity="0.55" d="M249.0 51.8h.6v.6h-.6zM245.0 50.7h.6v.6h-.6zM239.9 52.5h.6v.6h-.6zM245.6 49.7h.6v.6h-.6zM251.2 50.8h.6v.6h-.6zM246.5 53.2h.6v.6h-.6zM252.5 49.5h.6v.6h-.6zM247.7 52.2h.6v.6h-.6zM253.8 45.8h.6v.6h-.6zM237.4 52.8h.6v.6h-.6zM249.7 48.5h.6v.6h-.6zM247.7 52.4h.6v.6h-.6zM250.0 53.3h.6v.6h-.6zM252.4 49.9h.6v.6h-.6zM247.5 53.5h.6v.6h-.6zM245.1 52.2h.6v.6h-.6zM247.8 49.4h.6v.6h-.6zM249.8 50.4h.6v.6h-.6zM246.1 50.9h.6v.6h-.6zM247.1 51.1h.6v.6h-.6zM247.0 52.3h.6v.6h-.6zM242.9 50.2h.6v.6h-.6zM249.5 51.2h.6v.6h-.6zM248.8 50.7h.6v.6h-.6zM249.0 51.3h.6v.6h-.6zM246.4 55.6h.6v.6h-.6zM250.3 51.6h.6v.6h-.6zM246.4 49.3h.6v.6h-.6zM244.9 49.7h.6v.6h-.6zM242.7 52.4h.6v.6h-.6zM247.7 49.1h.6v.6h-.6zM243.2 52.1h.6v.6h-.6zM248.4 53.2h.6v.6h-.6zM244.3 52.5h.6v.6h-.6zM252.0 50.3h.6v.6h-.6zM252.1 48.4h.6v.6h-.6zM243.9 52.4h.6v.6h-.6zM257.3 46.2h.6v.6h-.6zM244.9 52.9h.6v.6h-.6zM247.7 51.0h.6v.6h-.6zM241.8 52.3h.6v.6h-.6zM243.5 50.3h.6v.6h-.6zM247.5 52.5h.6v.6h-.6zM246.2 50.6h.6v.6h-.6zM247.8 52.9h.6v.6h-.6zM250.1 50.2h.6v.6h-.6zM249.6 50.6h.6v.6h-.6zM247.3 50.9h.6v.6h-.6zM253.2 50.1h.6v.6h-.6zM249.1 48.5h.6v.6h-.6zM242.6 56.4h.6v.6h-.6zM246.3 50.9h.6v.6h-.6zM244.6 51.9h.6v.6h-.6zM250.3 50.0h.6v.6h-.6zM245.8 50.8h.6v.6h-.6zM250.1 52.9h.6v.6h-.6zM254.9 49.8h.6v.6h-.6zM249.0 52.0h.6v.6h-.6zM251.3 49.2h.6v.6h-.6zM246.0 48.3h.6v.6h-.6zM243.5 52.8h.6v.6h-.6zM246.2 51.6h.6v.6h-.6zM250.7 54.9h.6v.6h-.6zM239.1 53.1h.6v.6h-.6zM245.0 50.8h.6v.6h-.6zM245.1 52.2h.6v.6h-.6zM239.6 52.8h.6v.6h-.6zM252.8 53.0h.6v.6h-.6zM252.6 49.2h.6v.6h-.6zM242.0 52.4h.6v.6h-.6zM247.5 52.1h.6v.6h-.6zM249.7 50.6h.6v.6h-.6zM242.1 48.7h.6v.6h-.6zM253.7 52.2h.6v.6h-.6zM253.8 51.2h.6v.6h-.6zM247.3 50.3h.6v.6h-.6zM241.5 53.7h.6v.6h-.6zM240.8 53.0h.6v.6h-.6zM245.1 49.2h.6v.6h-.6zM247.6 53.1h.6v.6h-.6zM250.0 52.0h.6v.6h-.6zM252.9 49.7h.6v.6h-.6zM242.1 54.2h.6v.6h-.6zM245.9 48.4h.6v.6h-.6zM243.7 53.0h.6v.6h-.6zM251.3 49.8h.6v.6h-.6zM254.7 53.0h.6v.6h-.6zM248.5 53.9h.6v.6h-.6zM244.3 52.3h.6v.6h-.6zM245.9 53.4h.6v.6h-.6zM256.0 49.7h.6v.6h-.6zM243.5 49.3h.6v.6h-.6zM245.2 52.0h.6v.6h-.6zM243.9 50.4h.6v.6h-.6zM244.5 53.4h.6v.6h-.6zM243.6 49.9h.6v.6h-.6zM251.5 49.4h.6v.6h-.6zM247.6 51.7h.6v.6h-.6zM251.6 51.1h.6v.6h-.6zM245.7 50.9h.6v.6h-.6zM253.1 50.9h.6v.6h-.6zM247.8 50.7h.6v.6h-.6zM244.6 50.8h.6v.6h-.6zM244.7 51.1h.6v.6h-.6zM253.8 50.7h.6v.6h-.6zM249.6 50.4h.6v.6h-.6zM250.5 49.4h.6v.6h-.6zM251.2 51.9h.6v.6h-.6zM253.0 49.2h.6v.6h-.6zM244.2 51.1h.6v.6h-.6zM247.1 52.9h.6v.6h-.6zM242.1 51.1h.6v.6h-.6zM248.7 54.7h.6v.6h-.6zM247.4 51.9h.6v.6h-.6zM254.7 52.6h.6v.6h-.6zM248.2 50.8h.6v.6h-.6zM245.4 51.4h.6v.6h-.6zM247.6 51.9h.6v.6h-.6zM249.9 53.6h.6v.6h-.6zM242.8 54.2h.6v.6h-.6zM248.8 51.2h.6v.6h-.6zM246.9 52.3h.6v.6h-.6zM240.4 55.2h.6v.6h-.6zM247.2 53.1h.6v.6h-.6zM247.9 51.0h.6v.6h-.6z"/>
<path fill="#1a1a1a" fill-opacity="0.2" d="M247.5 42.2h.6v.6h-.6zM251.5 43.8h.6v.6h-.6zM246.6 44.7h.6v.6h-.6zM250.3 42.1h.6v.6h-.6zM240.9 42.0h.6v.6h-.6zM249.3 45.1h.6v.6h-.6zM245.2 43.5h.6v.6h-.6zM246.8 41.1h.6v.6h-.6zM246.2 47.0h.6v.6h-.6zM246.7 46.2h.6v.6h-.6z"/>
<path fill="#1a1a1a" fill-opacity="0.2" d="M248.0 42.3h.6v.6h-.6zM242.9 43.5h.6v.6h-.6zM242.0 45.1h.6v.6h-.6zM246.5 43.7h.6v.6h-.6zM251.5 45.3h.6v.6h-.6zM250.9 41.3h.6v.6h-.6zM248.5 42.4h.6v.6h-.6zM251.0 42.6h.6v.6h-.6zM246.0 43.9h.6v.6h-.6zM251.6 43.7h.6v.6h-.6z"/>
<path fill="#1a1a1a" fill-opacity="0.2" d="M246.3 46.5h.6v.6h-.6zM246.2 41.5h.6v.6h-.6zM245.3 44.1h.6v.6h-.6zM243.1 46.9h.6v.6h-.6zM241.4 42.7h.6v.6h-.6zM250.4 40.5h.6v.6h-.6zM244.4 44.1h.6v.6h-.6zM250.0 45.9h.6v.6h-.6zM248.1 43.0h.6v.6h-.6zM245.0 44.6h.6v.6h-.6z"/>
<path fill="#1a1a1a" fill-opacity="0.2" d="M247.3 42.1h.6v.6h-.6zM241.0 41.4h.6v.6h-.6zM247.2 43.5h.6v.6h-.6zM243.2 45.5h.6v.6h-.6zM243.9 44.9h.6v.6h-.6zM249.1 44.3h.6v.6h-.6zM244.3 42.6h.6v.6h-.6zM251.5 41.8h.6v.6h-.6zM244.0 44.4h.6v.6h-.6zM252.0 42.7h.6v.6h-.6z"/>
<path fill="#1a1a1a" fill-opacity="0.2" d="M246.0 43.3h.6v.6h-.6zM243.2 43.1h.6v.6h-.6zM243.4 42.1h.6v.6h-.6zM241.5 40.9h.6v.6h-.6zM247.2 46.0h.6v.6h-.6zM245.7 46.8h.6v.6h-.6zM249.3 46.0h.6v.6h-.6zM244.8 46.4h.6v.6h-.6zM243.9 46.7h.6v.6h-.6zM246.1 45.8h.6v.6h-.6z"/>
<path fill="#1a1a1a" fill-opacity="0.2" d="M251.4 42.4h.6v.6h-.6zM243.1 42.1h.6v.6h-.6zM242.3 43.8h.6v.6h-.6zM250.4 43.4h.6v.6h-.6zM249.8 43.9h.6v.6h-.6zM246.6 43.2h.6v.6h-.6zM245.7 43.4h.6v.6h-.6zM239.6 40.8h.6v.6h-.6zM248.0 43.9h.6v.6h-.6zM241.6 42.6h.6v.6h-.6z"/>
<path fill="#1a1a1a" fill-opacity="0.2" d="M243.3 44.7h.6v.6h-.6zM240.6 44.1h.6v.6h-.6zM244.3 44.3h.6v.6h-.6zM240.3 43.0h.6v.6h-.6zM248.7 45.3h.6v.6h-.6zM249.3 46.2h.6v.6h-.6zM241.8 42.5h.6v.6h-.6zM246.6 43.7h.6v.6h-.6zM240.7 42.9h.6v.6h-.6zM251.7 45.9h.6v.6h-.6z"/>
<path fill="#1a1a1a" fill-opacity="0.2" d="M241.0 44.4h.6v.6h-.6zM250.0 44.5h.6v.6h-.6zM239.6 42.8h.6v.6h-.6zM245.0 45.3h.6v.6h-.6zM249.0 43.6h.6v.6h-.6zM247.1 43.0h.6v.6h-.6zM241.3 44.2h.6v.6h-.6zM251.0 45.5h.6v.6h-.6zM244.5 44.1h.6v.6h-.6zM245.9 41.2h.6v.6h-.6z"/>
<path fill="#1a1a1a" fill-opacity="0.22" d="M256.7 53.6h.6v.6h-.6zM251.0 45.5h.6v.6h-.6zM248.7 57.5h.6v.6h-.6zM254.0 49.0h.6v.6h-.6zM246.7 52.8h.6v.6h-.6zM252.8 47.8h.6v.6h-.6zM245.9 45.8h.6v.6h-.6z"/>
<path fill="#1a1a1a" fill-opacity="0.22" d="M255.1 57.4h.6v.6h-.6zM246.1 54.8h.6v.6h-.6zM249.6 50.1h.6v.6h-.6zM252.7 49.4h.6v.6h-.6zM242.5 45.5h.6v.6h-.6zM243.8 55.9h.6v.6h-.6zM239.7 55.3h.6v.6h-.6z"/>
<path fill="#1a1a1a" fill-opacity="0.22" d="M256.5 50.3h.6v.6h-.6zM243.7 53.6h.6v.6h-.6zM239.7 47.0h.6v.6h-.6zM240.7 48.3h.6v.6h-.6zM257.5 55.7h.6v.6h-.6zM247.7 54.9h.6v.6h-.6z"/>
<path fill="#1a1a1a" fill-opacity="0.22" d="M240.4 48.6h.6v.6h-.6zM237.1 48.8h.6v.6h-.6zM253.7 46.3h.6v.6h-.6zM239.2 56.3h.6v.6h-.6zM243.9 56.2h.6v.6h-.6zM242.4 47.2h.6v.6h-.6z"/>
<path fill="#1a1a1a" fill-opacity="0.22" d="M248.3 51.3h.6v.6h-.6zM255.5 52.3h.6v.6h-.6zM239.2 47.1h.6v.6h-.6zM249.8 49.4h.6v.6h-.6zM254.9 48.8h.6v.6h-.6zM244.9 47.3h.6v.6h-.6z"/>
<path fill="#1a1a1a" fill-opacity="0.22" d="M241.1 47.3h.6v.6h-.6zM251.7 47.5h.6v.6h-.6zM248.5 55.3h.6v.6h-.6zM246.9 49.8h.6v.6h-.6zM250.3 57.0h.6v.6h-.6zM258.4 48.6h.6v.6h-.6z"/>
<path fill="#1a1a1a" fill-opacity="0.22" d="M250.9 52.5h.6v.6h-.6zM248.0 51.9h.6v.6h-.6zM250.5 55.1h.6v.6h-.6zM238.2 56.1h.6v.6h-.6zM247.9 56.9h.6v.6h-.6zM249.4 46.4h.6v.6h-.6z"/>
<path fill="#1a1a1a" fill-opacity="0.22" d="M244.8 57.4h.6v.6h-.6zM242.9 53.1h.6v.6h-.6zM238.4 45.2h.6v.6h-.6zM249.8 57.0h.6v.6h-.6zM242.3 49.9h.6v.6h-.6zM248.7 49.8h.6v.6h-.6z"/>
<text x="232.8" y="77.3" font-size="7.4" font-weight="bold" textLength="43.4" lengthAdjust="spacingAndGlyphs">PGK.GFP LV</text>
<path d="M226.3,78.8 H278.3 V130.5" fill="none" stroke="#c4c4c4" stroke-width="0.6"/>
<path d="M226.3,78.8 V130.5 H278.3" fill="none" stroke="#707070" stroke-width="0.7"/>
<path d="M226.3,130.5 v1.2 M228.3,130.5 v1.2 M230.3,130.5 v1.2 M232.3,130.5 v1.2 M234.3,130.5 v1.2 M236.3,130.5 v1.2 M238.3,130.5 v1.2 M240.3,130.5 v1.2 M242.3,130.5 v1.2 M244.3,130.5 v1.2 M246.3,130.5 v1.2 M248.3,130.5 v1.2 M250.3,130.5 v1.2 M252.3,130.5 v1.2 M254.3,130.5 v1.2 M256.3,130.5 v1.2 M258.3,130.5 v1.2 M260.3,130.5 v1.2 M262.3,130.5 v1.2 M264.3,130.5 v1.2 M266.3,130.5 v1.2 M268.3,130.5 v1.2 M270.3,130.5 v1.2 M272.3,130.5 v1.2 M274.3,130.5 v1.2 M276.3,130.5 v1.2 M278.3,130.5 v1.2 " stroke="#777" stroke-width="0.35"/>
<rect x="230.5" y="79.2" width="47.8" height="29.1" fill="none" stroke="#9aa0c6" stroke-width="0.8"/>
<text x="221.6" y="84.2" font-size="3.4" fill="#333" stroke="none">10<tspan font-size="2.4" dy="-1.3">5</tspan></text>
<line x1="224.7" y1="83" x2="226.29999999999998" y2="83" stroke="#555" stroke-width="0.5"/>
<text x="221.6" y="96.2" font-size="3.4" fill="#333" stroke="none">10<tspan font-size="2.4" dy="-1.3">5</tspan></text>
<line x1="224.7" y1="95" x2="226.29999999999998" y2="95" stroke="#555" stroke-width="0.5"/>
<text x="221.6" y="108.2" font-size="3.4" fill="#333" stroke="none">10<tspan font-size="2.4" dy="-1.3">5</tspan></text>
<line x1="224.7" y1="107" x2="226.29999999999998" y2="107" stroke="#555" stroke-width="0.5"/>
<text x="221.6" y="121.0" font-size="3.4" fill="#333" stroke="none">10<tspan font-size="2.4" dy="-1.3">5</tspan></text>
<line x1="224.7" y1="119.8" x2="226.29999999999998" y2="119.8" stroke="#555" stroke-width="0.5"/>
<text x="223" y="126" font-size="3.2" fill="#333" stroke="none">0</text>
<rect x="226.30" y="134.4" width="1.2" height="1.3" fill="#666"/>
<rect x="234.90" y="134.4" width="3.2" height="1.3" fill="#666"/>
<rect x="244.20" y="134.4" width="4.2" height="1.3" fill="#666"/>
<rect x="254.30" y="134.4" width="4.2" height="1.3" fill="#666"/>
<rect x="264.30" y="134.4" width="4.2" height="1.3" fill="#666"/>
<rect x="274.10" y="134.4" width="4.2" height="1.3" fill="#666"/>
<text x="217.4" y="104" font-size="5.9" text-anchor="middle" textLength="11.9" lengthAdjust="spacingAndGlyphs" transform="rotate(-90 217.4 104)">GFP</text>
<text x="265.5" y="107.2" font-size="6.4" textLength="10.5" lengthAdjust="spacingAndGlyphs">98%</text>
<path fill="#22bb18" fill-opacity="0.5" d="M250.8 89.9h.65v.65h-.65zM245.3 93.1h.65v.65h-.65zM252.9 88.4h.65v.65h-.65zM251.0 84.9h.65v.65h-.65zM250.0 86.7h.65v.65h-.65zM254.0 90.7h.65v.65h-.65zM245.7 98.1h.65v.65h-.65zM251.8 88.6h.65v.65h-.65zM251.0 86.4h.65v.65h-.65zM254.9 87.4h.65v.65h-.65zM248.7 90.0h.65v.65h-.65zM241.7 99.0h.65v.65h-.65zM243.1 97.9h.65v.65h-.65zM243.6 93.0h.65v.65h-.65zM242.7 97.7h.65v.65h-.65zM245.6 94.2h.65v.65h-.65zM250.2 90.7h.65v.65h-.65zM248.1 92.7h.65v.65h-.65zM247.6 90.5h.65v.65h-.65zM244.2 97.6h.65v.65h-.65zM253.1 86.3h.65v.65h-.65zM251.4 89.3h.65v.65h-.65zM248.4 89.9h.65v.65h-.65zM249.0 85.6h.65v.65h-.65zM248.1 94.1h.65v.65h-.65zM246.8 89.9h.65v.65h-.65zM253.4 85.6h.65v.65h-.65zM248.1 85.7h.65v.65h-.65zM249.9 91.7h.65v.65h-.65zM252.0 92.6h.65v.65h-.65zM253.3 86.8h.65v.65h-.65zM248.2 89.1h.65v.65h-.65zM246.1 95.8h.65v.65h-.65zM247.0 88.2h.65v.65h-.65zM247.7 88.2h.65v.65h-.65zM242.9 103.0h.65v.65h-.65zM252.0 89.6h.65v.65h-.65zM249.0 91.9h.65v.65h-.65zM247.7 95.9h.65v.65h-.65zM250.3 90.2h.65v.65h-.65zM249.0 89.7h.65v.65h-.65zM245.6 92.7h.65v.65h-.65zM248.1 95.7h.65v.65h-.65zM246.5 89.4h.65v.65h-.65zM245.6 91.1h.65v.65h-.65zM245.0 89.9h.65v.65h-.65zM243.1 93.6h.65v.65h-.65zM248.7 94.3h.65v.65h-.65zM245.6 94.3h.65v.65h-.65zM248.8 90.8h.65v.65h-.65zM248.7 95.6h.65v.65h-.65zM245.7 92.4h.65v.65h-.65zM247.8 98.3h.65v.65h-.65zM251.8 90.3h.65v.65h-.65zM242.7 96.8h.65v.65h-.65zM242.3 94.2h.65v.65h-.65zM251.4 93.7h.65v.65h-.65zM244.1 96.1h.65v.65h-.65zM249.2 86.6h.65v.65h-.65zM248.4 90.8h.65v.65h-.65zM243.4 98.8h.65v.65h-.65zM252.4 86.5h.65v.65h-.65zM250.3 89.2h.65v.65h-.65zM247.7 86.5h.65v.65h-.65zM245.1 100.6h.65v.65h-.65zM246.2 97.6h.65v.65h-.65zM248.2 92.5h.65v.65h-.65zM247.9 89.1h.65v.65h-.65zM247.1 90.6h.65v.65h-.65zM246.7 94.2h.65v.65h-.65zM247.4 95.9h.65v.65h-.65zM243.5 90.9h.65v.65h-.65zM244.1 95.1h.65v.65h-.65zM248.0 94.6h.65v.65h-.65zM252.2 86.6h.65v.65h-.65zM253.4 88.7h.65v.65h-.65zM253.8 87.8h.65v.65h-.65zM251.4 86.4h.65v.65h-.65zM246.8 87.5h.65v.65h-.65zM251.1 97.9h.65v.65h-.65zM254.7 86.6h.65v.65h-.65zM252.8 87.7h.65v.65h-.65zM250.6 80.7h.65v.65h-.65zM246.8 93.7h.65v.65h-.65zM242.5 96.1h.65v.65h-.65zM240.7 99.4h.65v.65h-.65zM252.0 82.6h.65v.65h-.65zM243.2 98.9h.65v.65h-.65zM248.7 92.3h.65v.65h-.65zM250.5 86.3h.65v.65h-.65zM249.6 86.6h.65v.65h-.65zM248.3 87.5h.65v.65h-.65zM248.3 90.5h.65v.65h-.65zM245.7 88.2h.65v.65h-.65zM244.9 99.9h.65v.65h-.65zM247.3 94.3h.65v.65h-.65zM246.4 97.3h.65v.65h-.65zM247.9 88.7h.65v.65h-.65zM248.5 87.9h.65v.65h-.65zM251.0 87.9h.65v.65h-.65zM250.2 88.0h.65v.65h-.65zM245.5 92.1h.65v.65h-.65zM252.0 87.9h.65v.65h-.65zM246.1 90.3h.65v.65h-.65zM249.4 89.5h.65v.65h-.65zM243.7 97.7h.65v.65h-.65zM246.8 91.1h.65v.65h-.65zM251.5 87.1h.65v.65h-.65zM248.7 90.1h.65v.65h-.65zM253.3 92.2h.65v.65h-.65zM245.1 92.0h.65v.65h-.65zM248.8 89.7h.65v.65h-.65zM251.9 92.7h.65v.65h-.65zM252.1 86.0h.65v.65h-.65zM243.9 93.4h.65v.65h-.65zM247.5 95.6h.65v.65h-.65zM248.9 84.9h.65v.65h-.65zM244.7 94.8h.65v.65h-.65zM250.4 83.5h.65v.65h-.65zM246.9 92.8h.65v.65h-.65zM239.6 99.9h.65v.65h-.65zM243.6 95.8h.65v.65h-.65zM244.5 96.0h.65v.65h-.65zM252.8 88.4h.65v.65h-.65zM243.7 101.5h.65v.65h-.65zM250.3 87.6h.65v.65h-.65zM248.4 89.1h.65v.65h-.65zM242.2 99.5h.65v.65h-.65zM246.3 87.4h.65v.65h-.65zM253.3 86.0h.65v.65h-.65zM249.4 91.8h.65v.65h-.65zM252.1 85.2h.65v.65h-.65zM248.6 84.5h.65v.65h-.65zM244.7 96.6h.65v.65h-.65zM252.5 93.6h.65v.65h-.65zM243.7 98.4h.65v.65h-.65zM244.0 96.8h.65v.65h-.65zM245.8 94.2h.65v.65h-.65zM247.8 93.3h.65v.65h-.65zM250.7 85.8h.65v.65h-.65zM246.3 91.6h.65v.65h-.65zM252.3 85.7h.65v.65h-.65zM253.5 91.1h.65v.65h-.65zM250.8 90.4h.65v.65h-.65zM251.9 83.3h.65v.65h-.65zM247.2 87.6h.65v.65h-.65zM243.3 86.6h.65v.65h-.65zM252.3 84.1h.65v.65h-.65zM244.6 94.9h.65v.65h-.65zM243.2 96.6h.65v.65h-.65zM247.1 98.3h.65v.65h-.65zM252.0 83.0h.65v.65h-.65zM243.5 93.9h.65v.65h-.65zM250.5 90.6h.65v.65h-.65zM246.6 89.1h.65v.65h-.65zM243.7 98.1h.65v.65h-.65zM253.0 90.1h.65v.65h-.65zM249.0 87.3h.65v.65h-.65zM244.3 94.9h.65v.65h-.65zM246.5 93.6h.65v.65h-.65zM247.2 94.7h.65v.65h-.65zM246.1 94.4h.65v.65h-.65zM242.2 100.4h.65v.65h-.65zM248.6 89.6h.65v.65h-.65zM250.2 86.9h.65v.65h-.65zM247.6 92.3h.65v.65h-.65zM254.4 85.3h.65v.65h-.65zM252.1 90.0h.65v.65h-.65zM247.9 89.9h.65v.65h-.65zM242.5 94.9h.65v.65h-.65zM242.8 97.3h.65v.65h-.65zM242.4 92.4h.65v.65h-.65zM243.1 102.7h.65v.65h-.65zM246.8 89.1h.65v.65h-.65zM248.6 88.2h.65v.65h-.65zM251.4 91.7h.65v.65h-.65zM251.3 90.6h.65v.65h-.65zM250.4 94.8h.65v.65h-.65zM245.8 99.9h.65v.65h-.65zM245.7 92.7h.65v.65h-.65zM251.0 88.7h.65v.65h-.65zM248.9 92.8h.65v.65h-.65zM249.6 88.4h.65v.65h-.65zM251.5 89.5h.65v.65h-.65zM245.4 88.8h.65v.65h-.65zM248.4 89.4h.65v.65h-.65zM244.6 89.2h.65v.65h-.65zM252.1 84.2h.65v.65h-.65zM242.8 91.5h.65v.65h-.65zM251.1 91.4h.65v.65h-.65zM243.7 98.6h.65v.65h-.65zM243.1 97.2h.65v.65h-.65zM246.0 91.2h.65v.65h-.65zM248.2 89.3h.65v.65h-.65zM250.7 87.8h.65v.65h-.65zM249.1 85.8h.65v.65h-.65zM247.9 86.9h.65v.65h-.65zM248.7 90.3h.65v.65h-.65zM243.9 96.9h.65v.65h-.65zM247.1 92.6h.65v.65h-.65zM247.4 92.2h.65v.65h-.65zM251.0 88.3h.65v.65h-.65z"/>
<path fill="#22bb18" fill-opacity="0.5" d="M248.4 91.0h.65v.65h-.65zM247.0 87.6h.65v.65h-.65zM249.1 95.2h.65v.65h-.65zM246.3 94.2h.65v.65h-.65zM252.6 86.3h.65v.65h-.65zM252.9 88.1h.65v.65h-.65zM246.3 96.1h.65v.65h-.65zM248.0 91.1h.65v.65h-.65zM248.7 84.6h.65v.65h-.65zM248.6 87.9h.65v.65h-.65zM252.2 83.1h.65v.65h-.65zM253.0 87.3h.65v.65h-.65zM249.0 86.1h.65v.65h-.65zM248.6 95.2h.65v.65h-.65zM245.9 88.7h.65v.65h-.65zM245.7 93.1h.65v.65h-.65zM243.7 94.4h.65v.65h-.65zM244.5 91.5h.65v.65h-.65zM245.2 96.4h.65v.65h-.65zM243.4 97.0h.65v.65h-.65zM244.4 98.7h.65v.65h-.65zM254.4 89.5h.65v.65h-.65zM250.9 83.5h.65v.65h-.65zM242.6 104.1h.65v.65h-.65zM249.0 90.8h.65v.65h-.65zM250.0 87.7h.65v.65h-.65zM253.0 87.1h.65v.65h-.65zM248.0 86.2h.65v.65h-.65zM243.5 93.6h.65v.65h-.65zM243.4 91.8h.65v.65h-.65zM248.6 89.5h.65v.65h-.65zM254.5 84.6h.65v.65h-.65zM243.2 98.1h.65v.65h-.65zM247.4 94.7h.65v.65h-.65zM251.0 86.2h.65v.65h-.65zM247.4 92.1h.65v.65h-.65zM251.7 92.3h.65v.65h-.65zM249.4 85.3h.65v.65h-.65zM248.6 91.0h.65v.65h-.65zM244.4 101.9h.65v.65h-.65zM241.4 98.7h.65v.65h-.65zM251.0 89.9h.65v.65h-.65zM251.1 82.6h.65v.65h-.65zM246.3 94.3h.65v.65h-.65zM246.1 92.2h.65v.65h-.65zM247.4 87.1h.65v.65h-.65zM252.6 92.0h.65v.65h-.65zM248.1 92.1h.65v.65h-.65zM253.0 84.7h.65v.65h-.65zM249.8 91.9h.65v.65h-.65zM241.8 97.6h.65v.65h-.65zM248.7 88.5h.65v.65h-.65zM249.6 92.3h.65v.65h-.65zM245.4 93.3h.65v.65h-.65zM250.7 84.3h.65v.65h-.65zM246.5 93.8h.65v.65h-.65zM246.8 90.7h.65v.65h-.65zM246.8 88.1h.65v.65h-.65zM246.1 89.6h.65v.65h-.65zM243.1 86.0h.65v.65h-.65zM249.1 90.4h.65v.65h-.65zM251.7 86.7h.65v.65h-.65zM245.4 87.7h.65v.65h-.65zM248.8 84.3h.65v.65h-.65zM251.7 89.7h.65v.65h-.65zM243.5 92.0h.65v.65h-.65zM245.6 85.1h.65v.65h-.65zM246.1 87.4h.65v.65h-.65zM248.2 94.8h.65v.65h-.65zM249.0 91.8h.65v.65h-.65zM241.0 102.2h.65v.65h-.65zM249.0 91.6h.65v.65h-.65zM248.3 96.8h.65v.65h-.65zM246.8 100.1h.65v.65h-.65zM245.2 94.4h.65v.65h-.65zM247.7 94.2h.65v.65h-.65zM249.5 91.4h.65v.65h-.65zM252.8 88.3h.65v.65h-.65zM254.3 89.5h.65v.65h-.65zM250.7 87.9h.65v.65h-.65zM243.0 91.8h.65v.65h-.65zM249.5 85.6h.65v.65h-.65zM243.0 97.1h.65v.65h-.65zM244.6 96.2h.65v.65h-.65zM244.8 91.7h.65v.65h-.65zM250.9 84.3h.65v.65h-.65zM249.4 97.3h.65v.65h-.65zM243.5 91.7h.65v.65h-.65zM245.2 97.7h.65v.65h-.65zM249.2 91.0h.65v.65h-.65zM246.2 89.2h.65v.65h-.65zM246.6 89.8h.65v.65h-.65zM253.1 84.9h.65v.65h-.65zM250.1 87.7h.65v.65h-.65zM249.9 87.5h.65v.65h-.65zM256.2 86.9h.65v.65h-.65zM248.8 91.3h.65v.65h-.65zM246.8 95.8h.65v.65h-.65zM247.3 89.3h.65v.65h-.65zM255.0 87.2h.65v.65h-.65zM242.1 95.6h.65v.65h-.65zM249.9 86.8h.65v.65h-.65zM253.7 84.9h.65v.65h-.65zM250.9 84.6h.65v.65h-.65zM246.8 94.3h.65v.65h-.65zM251.9 87.1h.65v.65h-.65zM245.3 93.4h.65v.65h-.65zM244.2 88.7h.65v.65h-.65zM245.8 87.5h.65v.65h-.65zM249.4 89.9h.65v.65h-.65zM248.7 86.3h.65v.65h-.65zM245.5 96.9h.65v.65h-.65zM247.9 91.7h.65v.65h-.65zM246.4 96.5h.65v.65h-.65zM250.8 86.2h.65v.65h-.65zM248.1 90.1h.65v.65h-.65zM245.7 95.0h.65v.65h-.65zM247.2 97.7h.65v.65h-.65zM241.3 94.9h.65v.65h-.65zM245.9 97.8h.65v.65h-.65zM245.6 92.8h.65v.65h-.65zM248.0 91.2h.65v.65h-.65zM247.5 98.0h.65v.65h-.65zM252.1 90.2h.65v.65h-.65zM251.5 84.8h.65v.65h-.65zM243.0 97.2h.65v.65h-.65zM253.1 92.9h.65v.65h-.65zM251.1 93.1h.65v.65h-.65zM246.3 93.8h.65v.65h-.65zM252.1 90.6h.65v.65h-.65zM248.1 89.1h.65v.65h-.65zM245.5 95.4h.65v.65h-.65zM242.8 95.6h.65v.65h-.65zM252.4 85.1h.65v.65h-.65zM249.1 92.4h.65v.65h-.65zM246.5 95.4h.65v.65h-.65zM252.7 87.0h.65v.65h-.65zM248.8 87.2h.65v.65h-.65zM252.6 82.9h.65v.65h-.65zM255.7 87.0h.65v.65h-.65zM249.6 90.9h.65v.65h-.65zM250.0 91.2h.65v.65h-.65zM252.0 85.5h.65v.65h-.65zM249.0 96.9h.65v.65h-.65zM243.8 99.5h.65v.65h-.65zM254.4 87.8h.65v.65h-.65zM253.2 83.6h.65v.65h-.65zM242.1 89.5h.65v.65h-.65zM245.6 91.4h.65v.65h-.65zM245.9 96.1h.65v.65h-.65zM253.4 84.2h.65v.65h-.65zM249.4 89.5h.65v.65h-.65zM241.7 98.8h.65v.65h-.65zM250.3 83.9h.65v.65h-.65zM244.6 95.3h.65v.65h-.65zM249.8 87.6h.65v.65h-.65zM242.6 96.7h.65v.65h-.65zM249.3 88.3h.65v.65h-.65zM244.1 86.6h.65v.65h-.65zM250.7 89.7h.65v.65h-.65zM243.5 93.9h.65v.65h-.65zM248.6 89.9h.65v.65h-.65zM246.5 89.9h.65v.65h-.65zM244.1 92.2h.65v.65h-.65zM251.3 88.5h.65v.65h-.65zM251.3 90.1h.65v.65h-.65zM253.7 88.3h.65v.65h-.65zM249.8 86.8h.65v.65h-.65zM240.7 98.3h.65v.65h-.65zM246.4 92.5h.65v.65h-.65zM250.6 84.8h.65v.65h-.65zM248.0 94.6h.65v.65h-.65zM244.7 98.2h.65v.65h-.65zM246.3 87.9h.65v.65h-.65zM251.1 88.5h.65v.65h-.65zM249.1 94.2h.65v.65h-.65zM244.6 92.1h.65v.65h-.65zM250.6 84.2h.65v.65h-.65zM248.9 91.2h.65v.65h-.65zM246.4 89.8h.65v.65h-.65zM245.1 93.9h.65v.65h-.65zM246.1 101.8h.65v.65h-.65zM250.1 89.7h.65v.65h-.65zM247.9 99.1h.65v.65h-.65zM250.2 88.6h.65v.65h-.65zM245.3 100.2h.65v.65h-.65zM242.7 98.2h.65v.65h-.65zM250.4 91.9h.65v.65h-.65zM248.1 91.6h.65v.65h-.65zM248.4 88.9h.65v.65h-.65zM242.8 96.0h.65v.65h-.65zM251.0 91.1h.65v.65h-.65zM246.7 88.2h.65v.65h-.65zM248.6 89.0h.65v.65h-.65zM252.1 82.4h.65v.65h-.65zM249.2 91.7h.65v.65h-.65zM247.1 96.6h.65v.65h-.65zM252.1 88.9h.65v.65h-.65zM246.5 90.7h.65v.65h-.65zM242.9 98.2h.65v.65h-.65zM246.4 94.3h.65v.65h-.65zM242.2 96.2h.65v.65h-.65z"/>
<path fill="#22bb18" fill-opacity="0.5" d="M248.0 96.7h.65v.65h-.65zM241.8 97.5h.65v.65h-.65zM249.0 85.7h.65v.65h-.65zM252.9 84.2h.65v.65h-.65zM247.3 89.8h.65v.65h-.65zM247.7 95.4h.65v.65h-.65zM249.1 89.9h.65v.65h-.65zM244.7 91.7h.65v.65h-.65zM250.6 90.5h.65v.65h-.65zM252.1 88.0h.65v.65h-.65zM243.8 98.9h.65v.65h-.65zM247.1 93.7h.65v.65h-.65zM248.0 89.3h.65v.65h-.65zM242.7 88.5h.65v.65h-.65zM251.1 86.2h.65v.65h-.65zM252.8 87.7h.65v.65h-.65zM252.8 88.5h.65v.65h-.65zM251.4 83.7h.65v.65h-.65zM245.0 94.9h.65v.65h-.65zM250.5 92.2h.65v.65h-.65zM249.8 91.7h.65v.65h-.65zM247.7 95.8h.65v.65h-.65zM242.5 95.2h.65v.65h-.65zM245.8 83.6h.65v.65h-.65zM241.2 97.8h.65v.65h-.65zM249.1 91.0h.65v.65h-.65zM242.4 98.5h.65v.65h-.65zM248.2 94.3h.65v.65h-.65zM246.7 94.3h.65v.65h-.65zM247.9 95.2h.65v.65h-.65zM243.0 100.3h.65v.65h-.65zM244.8 95.3h.65v.65h-.65zM245.3 87.6h.65v.65h-.65zM249.4 91.2h.65v.65h-.65zM244.4 97.0h.65v.65h-.65zM254.0 85.2h.65v.65h-.65zM242.6 99.6h.65v.65h-.65zM245.1 92.1h.65v.65h-.65zM251.4 91.4h.65v.65h-.65zM249.6 84.4h.65v.65h-.65zM243.0 91.9h.65v.65h-.65zM243.7 92.2h.65v.65h-.65zM242.6 91.1h.65v.65h-.65zM247.5 95.7h.65v.65h-.65zM248.2 94.3h.65v.65h-.65zM244.4 102.3h.65v.65h-.65zM254.2 85.1h.65v.65h-.65zM250.4 90.1h.65v.65h-.65zM245.3 94.5h.65v.65h-.65zM249.9 84.5h.65v.65h-.65zM247.8 85.6h.65v.65h-.65zM245.3 85.7h.65v.65h-.65zM247.1 95.7h.65v.65h-.65zM247.3 85.6h.65v.65h-.65zM247.7 91.9h.65v.65h-.65zM248.4 86.0h.65v.65h-.65zM251.1 87.8h.65v.65h-.65zM247.1 91.7h.65v.65h-.65zM250.9 85.3h.65v.65h-.65zM250.0 89.6h.65v.65h-.65zM244.4 91.8h.65v.65h-.65zM252.7 92.2h.65v.65h-.65zM248.9 88.4h.65v.65h-.65zM249.1 95.8h.65v.65h-.65zM251.0 87.5h.65v.65h-.65zM248.6 86.8h.65v.65h-.65zM253.4 89.8h.65v.65h-.65zM240.1 99.7h.65v.65h-.65zM247.9 96.5h.65v.65h-.65zM243.4 96.6h.65v.65h-.65zM245.7 91.0h.65v.65h-.65zM246.4 91.1h.65v.65h-.65zM245.3 98.8h.65v.65h-.65zM247.0 90.7h.65v.65h-.65zM249.1 92.1h.65v.65h-.65zM248.4 93.5h.65v.65h-.65zM245.9 96.7h.65v.65h-.65zM250.7 87.3h.65v.65h-.65zM246.3 92.0h.65v.65h-.65zM246.1 98.2h.65v.65h-.65zM246.9 99.3h.65v.65h-.65zM248.7 90.2h.65v.65h-.65zM249.5 88.7h.65v.65h-.65zM249.6 89.1h.65v.65h-.65zM242.3 93.4h.65v.65h-.65zM253.0 94.7h.65v.65h-.65zM252.2 92.3h.65v.65h-.65zM242.9 93.8h.65v.65h-.65zM249.1 89.9h.65v.65h-.65zM243.3 91.2h.65v.65h-.65zM254.8 86.5h.65v.65h-.65zM250.6 93.1h.65v.65h-.65zM248.4 90.0h.65v.65h-.65zM251.7 82.5h.65v.65h-.65zM248.1 91.1h.65v.65h-.65zM251.5 94.6h.65v.65h-.65zM244.3 93.5h.65v.65h-.65zM245.1 91.1h.65v.65h-.65zM249.1 92.0h.65v.65h-.65zM244.7 93.9h.65v.65h-.65zM248.4 88.6h.65v.65h-.65zM246.8 86.5h.65v.65h-.65zM246.3 95.5h.65v.65h-.65zM244.8 97.4h.65v.65h-.65zM243.6 97.0h.65v.65h-.65zM244.8 93.6h.65v.65h-.65zM250.3 91.2h.65v.65h-.65zM243.9 96.9h.65v.65h-.65zM246.0 91.3h.65v.65h-.65zM252.1 90.8h.65v.65h-.65zM243.1 103.5h.65v.65h-.65zM242.8 98.6h.65v.65h-.65zM251.7 89.0h.65v.65h-.65zM247.8 85.0h.65v.65h-.65zM248.2 90.9h.65v.65h-.65zM253.8 90.9h.65v.65h-.65zM247.0 90.2h.65v.65h-.65zM246.7 92.5h.65v.65h-.65zM247.3 85.1h.65v.65h-.65zM248.2 84.4h.65v.65h-.65zM249.8 92.1h.65v.65h-.65zM254.6 86.9h.65v.65h-.65zM250.7 88.7h.65v.65h-.65zM245.8 91.5h.65v.65h-.65zM243.4 97.2h.65v.65h-.65zM245.5 92.5h.65v.65h-.65zM247.7 89.9h.65v.65h-.65zM252.0 92.6h.65v.65h-.65zM246.5 86.0h.65v.65h-.65zM243.8 99.5h.65v.65h-.65zM246.6 96.4h.65v.65h-.65zM249.7 89.7h.65v.65h-.65zM247.0 90.2h.65v.65h-.65zM251.6 87.4h.65v.65h-.65zM247.9 94.3h.65v.65h-.65zM246.2 92.8h.65v.65h-.65zM241.2 98.6h.65v.65h-.65zM247.7 92.6h.65v.65h-.65zM243.6 100.0h.65v.65h-.65zM245.7 89.3h.65v.65h-.65zM252.3 87.2h.65v.65h-.65zM246.9 86.6h.65v.65h-.65zM244.2 98.4h.65v.65h-.65zM248.9 90.1h.65v.65h-.65zM247.1 90.8h.65v.65h-.65zM243.9 100.9h.65v.65h-.65zM252.4 88.9h.65v.65h-.65zM246.5 92.6h.65v.65h-.65zM241.4 94.2h.65v.65h-.65zM249.0 87.8h.65v.65h-.65zM251.1 84.1h.65v.65h-.65zM248.1 89.4h.65v.65h-.65zM246.8 94.6h.65v.65h-.65zM249.2 90.7h.65v.65h-.65zM245.7 92.4h.65v.65h-.65zM251.3 88.2h.65v.65h-.65zM247.5 88.8h.65v.65h-.65zM247.4 91.6h.65v.65h-.65zM251.8 87.7h.65v.65h-.65zM252.5 87.0h.65v.65h-.65zM246.8 90.7h.65v.65h-.65zM249.9 90.2h.65v.65h-.65zM247.9 94.4h.65v.65h-.65zM248.7 87.1h.65v.65h-.65zM246.2 94.2h.65v.65h-.65zM242.3 96.7h.65v.65h-.65zM251.0 92.5h.65v.65h-.65zM251.8 85.6h.65v.65h-.65zM250.6 85.1h.65v.65h-.65zM251.4 85.6h.65v.65h-.65zM248.7 90.1h.65v.65h-.65zM246.3 90.7h.65v.65h-.65zM253.5 85.0h.65v.65h-.65zM247.6 93.7h.65v.65h-.65zM248.5 91.6h.65v.65h-.65zM245.0 96.1h.65v.65h-.65zM248.4 91.3h.65v.65h-.65zM248.6 87.3h.65v.65h-.65zM251.7 85.9h.65v.65h-.65zM251.9 88.4h.65v.65h-.65zM248.2 90.2h.65v.65h-.65zM247.2 92.2h.65v.65h-.65zM248.8 87.8h.65v.65h-.65zM247.1 87.6h.65v.65h-.65zM243.1 93.1h.65v.65h-.65zM247.9 88.4h.65v.65h-.65zM253.1 93.8h.65v.65h-.65zM245.6 93.6h.65v.65h-.65zM250.9 95.2h.65v.65h-.65zM246.3 88.6h.65v.65h-.65zM249.5 94.8h.65v.65h-.65zM249.7 88.9h.65v.65h-.65zM250.3 90.5h.65v.65h-.65zM244.4 93.9h.65v.65h-.65zM244.3 90.6h.65v.65h-.65zM249.5 88.2h.65v.65h-.65zM245.3 88.7h.65v.65h-.65zM252.7 87.5h.65v.65h-.65zM252.1 89.7h.65v.65h-.65zM248.4 90.9h.65v.65h-.65zM255.4 87.4h.65v.65h-.65zM251.8 84.7h.65v.65h-.65z"/>
<path fill="#22bb18" fill-opacity="0.5" d="M245.6 91.9h.65v.65h-.65zM248.9 89.3h.65v.65h-.65zM251.0 87.9h.65v.65h-.65zM252.8 87.3h.65v.65h-.65zM251.5 91.9h.65v.65h-.65zM244.4 89.8h.65v.65h-.65zM248.5 88.4h.65v.65h-.65zM252.2 85.8h.65v.65h-.65zM248.2 92.6h.65v.65h-.65zM250.7 86.4h.65v.65h-.65zM251.0 89.0h.65v.65h-.65zM247.6 90.2h.65v.65h-.65zM248.3 91.3h.65v.65h-.65zM246.6 91.1h.65v.65h-.65zM256.0 87.5h.65v.65h-.65zM246.0 96.1h.65v.65h-.65zM248.4 88.3h.65v.65h-.65zM246.7 88.9h.65v.65h-.65zM244.6 87.4h.65v.65h-.65zM244.8 91.0h.65v.65h-.65zM241.9 102.0h.65v.65h-.65zM247.0 96.9h.65v.65h-.65zM243.3 96.1h.65v.65h-.65zM243.2 97.3h.65v.65h-.65zM246.5 92.2h.65v.65h-.65zM246.7 93.5h.65v.65h-.65zM249.4 90.0h.65v.65h-.65zM247.6 92.2h.65v.65h-.65zM245.7 92.6h.65v.65h-.65zM249.3 89.8h.65v.65h-.65zM249.6 86.7h.65v.65h-.65zM245.2 87.1h.65v.65h-.65zM252.3 89.9h.65v.65h-.65zM247.9 92.4h.65v.65h-.65zM251.6 86.6h.65v.65h-.65zM255.2 85.2h.65v.65h-.65zM243.6 88.8h.65v.65h-.65zM251.4 88.9h.65v.65h-.65zM247.0 93.8h.65v.65h-.65zM251.3 86.0h.65v.65h-.65zM252.7 87.8h.65v.65h-.65zM246.1 92.8h.65v.65h-.65zM251.5 86.5h.65v.65h-.65zM241.0 96.9h.65v.65h-.65zM253.5 90.4h.65v.65h-.65zM249.6 90.1h.65v.65h-.65zM246.5 91.3h.65v.65h-.65zM245.0 92.1h.65v.65h-.65zM246.9 93.9h.65v.65h-.65zM242.4 99.1h.65v.65h-.65zM251.9 86.1h.65v.65h-.65zM249.5 90.7h.65v.65h-.65zM243.2 96.1h.65v.65h-.65zM246.8 95.1h.65v.65h-.65zM247.4 95.8h.65v.65h-.65zM248.5 92.6h.65v.65h-.65zM246.6 90.8h.65v.65h-.65zM249.5 91.6h.65v.65h-.65zM242.8 97.3h.65v.65h-.65zM250.2 91.2h.65v.65h-.65zM242.1 95.5h.65v.65h-.65zM248.2 89.3h.65v.65h-.65zM253.8 84.6h.65v.65h-.65zM244.8 91.4h.65v.65h-.65zM247.6 91.9h.65v.65h-.65zM248.8 88.4h.65v.65h-.65zM247.4 92.4h.65v.65h-.65zM253.0 85.0h.65v.65h-.65zM247.7 94.0h.65v.65h-.65zM246.3 97.0h.65v.65h-.65zM246.0 91.6h.65v.65h-.65zM246.6 90.0h.65v.65h-.65zM245.5 92.6h.65v.65h-.65zM243.3 89.8h.65v.65h-.65zM253.5 85.0h.65v.65h-.65zM251.8 90.5h.65v.65h-.65zM244.3 90.8h.65v.65h-.65zM245.9 91.2h.65v.65h-.65zM248.8 92.6h.65v.65h-.65zM246.2 87.3h.65v.65h-.65zM249.3 88.3h.65v.65h-.65zM247.6 94.0h.65v.65h-.65zM248.2 90.1h.65v.65h-.65zM251.0 91.4h.65v.65h-.65zM250.2 91.7h.65v.65h-.65zM249.6 87.6h.65v.65h-.65zM244.7 95.2h.65v.65h-.65zM246.8 94.0h.65v.65h-.65zM247.4 96.0h.65v.65h-.65zM245.2 93.1h.65v.65h-.65zM249.5 87.9h.65v.65h-.65zM253.5 88.4h.65v.65h-.65zM248.6 91.8h.65v.65h-.65zM242.8 96.4h.65v.65h-.65zM252.5 88.6h.65v.65h-.65zM249.4 89.3h.65v.65h-.65zM252.7 85.6h.65v.65h-.65zM248.4 91.8h.65v.65h-.65zM249.1 83.9h.65v.65h-.65zM250.8 89.8h.65v.65h-.65zM254.1 86.6h.65v.65h-.65zM242.5 97.3h.65v.65h-.65zM250.4 95.2h.65v.65h-.65zM253.0 83.7h.65v.65h-.65zM243.1 94.0h.65v.65h-.65zM242.0 97.1h.65v.65h-.65zM248.8 92.7h.65v.65h-.65zM248.7 89.7h.65v.65h-.65zM249.6 86.1h.65v.65h-.65zM255.1 87.3h.65v.65h-.65zM248.8 91.1h.65v.65h-.65zM246.4 91.2h.65v.65h-.65zM246.7 95.5h.65v.65h-.65zM252.7 86.2h.65v.65h-.65zM244.9 89.3h.65v.65h-.65zM250.3 93.0h.65v.65h-.65zM249.9 93.3h.65v.65h-.65zM247.3 93.7h.65v.65h-.65zM251.3 93.2h.65v.65h-.65zM245.7 96.2h.65v.65h-.65zM246.4 89.2h.65v.65h-.65zM252.0 87.2h.65v.65h-.65zM244.1 94.8h.65v.65h-.65zM248.2 92.6h.65v.65h-.65zM241.0 96.2h.65v.65h-.65zM248.6 89.2h.65v.65h-.65zM248.6 97.2h.65v.65h-.65zM248.0 92.8h.65v.65h-.65zM241.9 100.4h.65v.65h-.65zM240.4 101.8h.65v.65h-.65zM244.5 100.8h.65v.65h-.65zM242.9 94.2h.65v.65h-.65zM244.9 91.4h.65v.65h-.65zM242.3 95.9h.65v.65h-.65zM242.6 101.3h.65v.65h-.65zM249.8 85.2h.65v.65h-.65zM245.8 94.8h.65v.65h-.65zM249.1 85.6h.65v.65h-.65zM247.4 95.8h.65v.65h-.65zM248.2 94.8h.65v.65h-.65zM249.7 89.2h.65v.65h-.65zM246.7 96.7h.65v.65h-.65zM249.4 91.9h.65v.65h-.65zM245.6 91.2h.65v.65h-.65zM243.4 95.4h.65v.65h-.65zM247.9 88.7h.65v.65h-.65zM246.5 91.7h.65v.65h-.65zM246.3 96.6h.65v.65h-.65zM248.0 89.7h.65v.65h-.65zM244.5 94.5h.65v.65h-.65zM240.9 101.0h.65v.65h-.65zM252.1 84.7h.65v.65h-.65zM249.6 94.8h.65v.65h-.65zM247.9 93.7h.65v.65h-.65zM246.6 94.1h.65v.65h-.65zM248.4 83.7h.65v.65h-.65zM245.3 89.4h.65v.65h-.65zM249.5 91.4h.65v.65h-.65zM244.0 92.8h.65v.65h-.65zM245.8 93.7h.65v.65h-.65zM245.2 101.4h.65v.65h-.65zM249.7 93.1h.65v.65h-.65zM250.6 82.9h.65v.65h-.65zM250.5 87.7h.65v.65h-.65zM242.3 99.9h.65v.65h-.65zM251.0 87.4h.65v.65h-.65zM249.9 89.2h.65v.65h-.65zM252.0 88.2h.65v.65h-.65zM254.2 96.1h.65v.65h-.65zM249.1 87.5h.65v.65h-.65zM249.2 90.0h.65v.65h-.65zM247.3 95.7h.65v.65h-.65zM252.2 88.2h.65v.65h-.65zM248.6 87.5h.65v.65h-.65zM240.5 101.1h.65v.65h-.65zM248.4 93.4h.65v.65h-.65zM248.9 90.1h.65v.65h-.65zM245.2 90.9h.65v.65h-.65zM251.5 85.1h.65v.65h-.65zM247.0 88.1h.65v.65h-.65zM251.2 87.5h.65v.65h-.65zM250.1 91.7h.65v.65h-.65zM253.4 85.3h.65v.65h-.65zM252.1 89.7h.65v.65h-.65zM251.9 84.0h.65v.65h-.65zM249.7 88.2h.65v.65h-.65zM252.9 89.2h.65v.65h-.65zM240.0 97.5h.65v.65h-.65zM246.2 98.0h.65v.65h-.65zM249.7 91.8h.65v.65h-.65zM250.0 88.1h.65v.65h-.65zM243.7 92.5h.65v.65h-.65zM248.1 96.8h.65v.65h-.65zM248.5 94.3h.65v.65h-.65zM247.7 96.6h.65v.65h-.65zM251.0 92.0h.65v.65h-.65zM251.7 82.9h.65v.65h-.65zM249.5 91.3h.65v.65h-.65zM248.0 86.6h.65v.65h-.65zM254.4 87.0h.65v.65h-.65zM254.1 90.1h.65v.65h-.65zM247.5 89.7h.65v.65h-.65z"/>
<path fill="#22bb18" fill-opacity="0.5" d="M246.1 91.8h.65v.65h-.65zM242.5 99.0h.65v.65h-.65zM253.3 90.6h.65v.65h-.65zM246.6 96.8h.65v.65h-.65zM250.6 87.4h.65v.65h-.65zM250.9 89.6h.65v.65h-.65zM243.5 98.8h.65v.65h-.65zM248.8 88.7h.65v.65h-.65zM241.8 99.7h.65v.65h-.65zM244.6 95.2h.65v.65h-.65zM246.9 90.5h.65v.65h-.65zM253.7 90.2h.65v.65h-.65zM241.9 98.1h.65v.65h-.65zM245.0 95.0h.65v.65h-.65zM249.3 92.2h.65v.65h-.65zM248.8 91.5h.65v.65h-.65zM244.3 98.1h.65v.65h-.65zM246.4 89.2h.65v.65h-.65zM247.0 90.6h.65v.65h-.65zM250.2 94.6h.65v.65h-.65zM247.2 93.5h.65v.65h-.65zM252.4 88.4h.65v.65h-.65zM247.4 91.5h.65v.65h-.65zM248.9 84.7h.65v.65h-.65zM246.9 91.6h.65v.65h-.65zM250.6 90.0h.65v.65h-.65zM252.2 84.8h.65v.65h-.65zM244.4 97.5h.65v.65h-.65zM250.2 86.4h.65v.65h-.65zM251.1 90.8h.65v.65h-.65zM245.2 93.7h.65v.65h-.65zM251.4 87.9h.65v.65h-.65zM247.6 95.5h.65v.65h-.65zM252.9 92.9h.65v.65h-.65zM251.6 86.7h.65v.65h-.65zM249.1 94.9h.65v.65h-.65zM251.2 83.0h.65v.65h-.65zM249.1 85.6h.65v.65h-.65zM246.7 94.5h.65v.65h-.65zM249.9 96.0h.65v.65h-.65zM249.1 88.8h.65v.65h-.65zM249.5 87.7h.65v.65h-.65zM249.6 87.6h.65v.65h-.65zM250.0 84.0h.65v.65h-.65zM245.3 92.0h.65v.65h-.65zM245.4 89.3h.65v.65h-.65zM247.1 96.5h.65v.65h-.65zM247.9 90.5h.65v.65h-.65zM249.3 84.9h.65v.65h-.65zM252.2 95.2h.65v.65h-.65zM248.8 89.7h.65v.65h-.65zM250.4 83.3h.65v.65h-.65zM246.6 90.5h.65v.65h-.65zM245.6 93.1h.65v.65h-.65zM252.2 92.0h.65v.65h-.65zM248.8 86.4h.65v.65h-.65zM248.4 91.4h.65v.65h-.65zM247.2 94.3h.65v.65h-.65zM246.0 93.6h.65v.65h-.65zM244.6 94.8h.65v.65h-.65zM250.4 92.1h.65v.65h-.65zM242.7 94.5h.65v.65h-.65zM246.7 94.7h.65v.65h-.65zM250.0 87.9h.65v.65h-.65zM251.9 92.0h.65v.65h-.65zM249.6 91.8h.65v.65h-.65zM240.9 99.0h.65v.65h-.65zM241.4 101.3h.65v.65h-.65zM252.4 91.8h.65v.65h-.65zM244.0 89.8h.65v.65h-.65zM246.0 91.0h.65v.65h-.65zM241.5 92.7h.65v.65h-.65zM249.0 90.0h.65v.65h-.65zM247.3 91.4h.65v.65h-.65zM246.5 88.3h.65v.65h-.65zM241.3 92.7h.65v.65h-.65zM248.2 93.8h.65v.65h-.65zM254.8 85.7h.65v.65h-.65zM253.6 83.9h.65v.65h-.65zM251.1 89.5h.65v.65h-.65zM251.2 87.4h.65v.65h-.65zM249.6 87.6h.65v.65h-.65zM251.4 88.0h.65v.65h-.65zM247.2 88.8h.65v.65h-.65zM252.4 89.0h.65v.65h-.65zM243.2 92.1h.65v.65h-.65zM240.8 95.4h.65v.65h-.65zM246.8 92.7h.65v.65h-.65zM248.3 93.1h.65v.65h-.65zM244.6 95.1h.65v.65h-.65zM249.8 85.6h.65v.65h-.65zM250.8 89.0h.65v.65h-.65zM244.9 92.8h.65v.65h-.65zM251.3 88.0h.65v.65h-.65zM243.5 97.8h.65v.65h-.65zM250.6 92.2h.65v.65h-.65zM246.6 89.1h.65v.65h-.65zM245.2 92.3h.65v.65h-.65zM246.3 86.6h.65v.65h-.65zM248.5 91.9h.65v.65h-.65zM243.3 98.7h.65v.65h-.65zM245.0 91.7h.65v.65h-.65zM248.8 95.4h.65v.65h-.65zM247.1 91.9h.65v.65h-.65zM246.6 94.9h.65v.65h-.65zM247.2 90.7h.65v.65h-.65zM251.5 82.5h.65v.65h-.65zM249.7 92.7h.65v.65h-.65zM245.7 91.4h.65v.65h-.65zM245.0 92.8h.65v.65h-.65zM255.4 85.5h.65v.65h-.65zM247.7 92.0h.65v.65h-.65zM248.5 87.0h.65v.65h-.65zM245.4 93.5h.65v.65h-.65zM244.0 92.8h.65v.65h-.65zM245.0 90.2h.65v.65h-.65zM251.7 85.0h.65v.65h-.65zM245.8 98.3h.65v.65h-.65zM245.3 92.3h.65v.65h-.65zM245.6 86.9h.65v.65h-.65zM252.4 89.1h.65v.65h-.65zM247.9 90.1h.65v.65h-.65zM246.5 90.9h.65v.65h-.65zM250.6 86.2h.65v.65h-.65zM248.7 90.8h.65v.65h-.65zM247.1 95.7h.65v.65h-.65zM248.7 92.5h.65v.65h-.65zM248.2 85.7h.65v.65h-.65zM253.4 89.5h.65v.65h-.65zM246.8 86.9h.65v.65h-.65zM243.6 98.3h.65v.65h-.65zM252.7 90.9h.65v.65h-.65zM244.6 93.7h.65v.65h-.65zM242.8 98.3h.65v.65h-.65zM247.3 87.8h.65v.65h-.65zM246.4 94.9h.65v.65h-.65zM246.7 85.3h.65v.65h-.65zM242.9 103.9h.65v.65h-.65zM253.1 90.4h.65v.65h-.65zM251.0 89.8h.65v.65h-.65zM251.8 87.9h.65v.65h-.65zM246.5 93.8h.65v.65h-.65zM246.1 93.1h.65v.65h-.65zM250.4 84.8h.65v.65h-.65zM249.0 95.0h.65v.65h-.65zM242.7 98.2h.65v.65h-.65zM251.0 88.6h.65v.65h-.65zM246.2 96.2h.65v.65h-.65zM252.7 85.8h.65v.65h-.65zM252.3 92.4h.65v.65h-.65zM250.6 98.1h.65v.65h-.65zM248.1 90.3h.65v.65h-.65zM253.9 85.2h.65v.65h-.65zM248.0 91.7h.65v.65h-.65zM249.4 85.4h.65v.65h-.65zM249.3 87.0h.65v.65h-.65zM250.0 87.3h.65v.65h-.65zM243.5 94.4h.65v.65h-.65zM244.9 92.7h.65v.65h-.65zM239.8 97.8h.65v.65h-.65zM247.1 89.7h.65v.65h-.65zM248.5 89.5h.65v.65h-.65zM245.5 95.4h.65v.65h-.65zM248.2 88.2h.65v.65h-.65zM253.7 85.2h.65v.65h-.65zM250.7 84.7h.65v.65h-.65zM248.8 89.1h.65v.65h-.65zM249.8 88.9h.65v.65h-.65zM253.3 88.2h.65v.65h-.65zM245.2 94.4h.65v.65h-.65zM252.3 88.3h.65v.65h-.65zM251.9 88.4h.65v.65h-.65zM248.1 92.3h.65v.65h-.65zM249.8 92.4h.65v.65h-.65zM248.4 92.2h.65v.65h-.65zM250.5 93.4h.65v.65h-.65zM249.5 85.9h.65v.65h-.65zM239.6 102.6h.65v.65h-.65zM247.5 88.4h.65v.65h-.65zM247.7 91.8h.65v.65h-.65zM245.7 96.4h.65v.65h-.65zM245.5 91.2h.65v.65h-.65zM246.7 88.9h.65v.65h-.65zM246.4 95.2h.65v.65h-.65zM245.7 93.9h.65v.65h-.65zM251.1 84.1h.65v.65h-.65zM248.4 99.1h.65v.65h-.65zM246.5 94.5h.65v.65h-.65zM247.8 88.6h.65v.65h-.65zM253.9 84.4h.65v.65h-.65zM246.8 96.0h.65v.65h-.65zM245.1 97.2h.65v.65h-.65zM251.5 91.9h.65v.65h-.65zM251.0 89.0h.65v.65h-.65zM246.4 89.0h.65v.65h-.65zM245.7 91.1h.65v.65h-.65zM245.1 98.0h.65v.65h-.65zM249.8 85.5h.65v.65h-.65zM240.6 97.8h.65v.65h-.65zM252.1 85.2h.65v.65h-.65zM239.5 98.8h.65v.65h-.65zM252.2 87.4h.65v.65h-.65z"/>
<path fill="#22bb18" fill-opacity="0.5" d="M244.8 99.4h.65v.65h-.65zM244.8 93.8h.65v.65h-.65zM253.6 84.0h.65v.65h-.65zM248.4 88.5h.65v.65h-.65zM250.5 88.9h.65v.65h-.65zM249.0 95.1h.65v.65h-.65zM249.4 94.1h.65v.65h-.65zM245.8 95.2h.65v.65h-.65zM243.5 96.8h.65v.65h-.65zM248.7 91.4h.65v.65h-.65zM250.4 92.6h.65v.65h-.65zM251.5 88.5h.65v.65h-.65zM248.6 92.5h.65v.65h-.65zM250.0 88.4h.65v.65h-.65zM241.5 100.6h.65v.65h-.65zM247.3 89.4h.65v.65h-.65zM249.3 87.5h.65v.65h-.65zM249.8 87.4h.65v.65h-.65zM249.0 86.8h.65v.65h-.65zM245.5 91.8h.65v.65h-.65zM254.7 86.3h.65v.65h-.65zM251.5 96.0h.65v.65h-.65zM253.3 83.9h.65v.65h-.65zM248.8 86.3h.65v.65h-.65zM247.0 94.5h.65v.65h-.65zM250.1 83.8h.65v.65h-.65zM243.8 97.5h.65v.65h-.65zM243.9 98.5h.65v.65h-.65zM250.1 86.2h.65v.65h-.65zM249.9 84.8h.65v.65h-.65zM241.0 92.1h.65v.65h-.65zM241.9 101.2h.65v.65h-.65zM245.0 94.8h.65v.65h-.65zM244.9 89.9h.65v.65h-.65zM248.8 88.7h.65v.65h-.65zM250.8 90.4h.65v.65h-.65zM255.0 85.6h.65v.65h-.65zM248.1 97.9h.65v.65h-.65zM244.4 100.2h.65v.65h-.65zM244.4 94.9h.65v.65h-.65zM247.2 93.3h.65v.65h-.65zM241.6 97.8h.65v.65h-.65zM253.2 87.1h.65v.65h-.65zM247.0 87.7h.65v.65h-.65zM246.1 96.8h.65v.65h-.65zM251.2 85.2h.65v.65h-.65zM249.6 90.8h.65v.65h-.65zM248.2 92.2h.65v.65h-.65zM247.2 90.3h.65v.65h-.65zM243.6 96.2h.65v.65h-.65zM249.7 90.7h.65v.65h-.65zM242.7 92.9h.65v.65h-.65zM247.0 93.7h.65v.65h-.65zM248.1 93.6h.65v.65h-.65zM250.8 90.0h.65v.65h-.65zM243.2 101.2h.65v.65h-.65zM253.8 84.3h.65v.65h-.65zM247.2 90.3h.65v.65h-.65zM246.7 92.3h.65v.65h-.65zM250.4 93.5h.65v.65h-.65zM246.3 94.3h.65v.65h-.65zM244.1 93.0h.65v.65h-.65zM248.7 95.6h.65v.65h-.65zM247.1 89.4h.65v.65h-.65zM250.8 87.6h.65v.65h-.65zM243.8 99.0h.65v.65h-.65zM246.3 95.8h.65v.65h-.65zM249.9 87.7h.65v.65h-.65zM245.4 91.4h.65v.65h-.65zM250.2 90.9h.65v.65h-.65zM247.0 92.0h.65v.65h-.65zM244.9 93.9h.65v.65h-.65zM243.1 99.9h.65v.65h-.65zM238.8 99.0h.65v.65h-.65zM247.5 91.9h.65v.65h-.65zM246.8 91.0h.65v.65h-.65zM250.3 85.1h.65v.65h-.65zM254.1 89.0h.65v.65h-.65zM246.4 91.4h.65v.65h-.65zM248.3 97.5h.65v.65h-.65zM247.9 89.6h.65v.65h-.65zM245.5 93.7h.65v.65h-.65zM251.0 94.2h.65v.65h-.65zM254.5 89.1h.65v.65h-.65zM247.2 89.3h.65v.65h-.65zM243.4 97.9h.65v.65h-.65zM249.0 91.8h.65v.65h-.65zM252.2 88.5h.65v.65h-.65zM253.7 86.7h.65v.65h-.65zM250.4 96.5h.65v.65h-.65zM245.1 95.9h.65v.65h-.65zM246.7 90.0h.65v.65h-.65zM251.5 87.5h.65v.65h-.65zM248.2 93.8h.65v.65h-.65zM249.9 95.7h.65v.65h-.65zM245.9 96.3h.65v.65h-.65zM241.6 99.2h.65v.65h-.65zM250.4 93.1h.65v.65h-.65zM249.5 87.8h.65v.65h-.65zM250.5 89.6h.65v.65h-.65zM251.7 87.1h.65v.65h-.65zM246.2 96.4h.65v.65h-.65zM250.1 85.7h.65v.65h-.65zM248.6 91.4h.65v.65h-.65zM246.3 95.8h.65v.65h-.65zM245.7 92.7h.65v.65h-.65zM248.7 94.6h.65v.65h-.65zM248.4 91.5h.65v.65h-.65zM246.5 98.8h.65v.65h-.65zM249.6 94.5h.65v.65h-.65zM249.8 88.5h.65v.65h-.65zM248.9 90.7h.65v.65h-.65zM249.4 86.4h.65v.65h-.65zM250.6 92.2h.65v.65h-.65zM250.8 88.7h.65v.65h-.65zM244.2 95.5h.65v.65h-.65zM242.6 98.2h.65v.65h-.65zM243.1 93.9h.65v.65h-.65zM246.2 97.6h.65v.65h-.65zM247.1 95.3h.65v.65h-.65zM247.9 87.9h.65v.65h-.65zM250.8 87.8h.65v.65h-.65zM249.5 88.3h.65v.65h-.65zM250.9 84.1h.65v.65h-.65zM246.8 89.0h.65v.65h-.65zM254.2 86.2h.65v.65h-.65zM246.3 93.0h.65v.65h-.65zM240.8 94.8h.65v.65h-.65zM249.1 88.8h.65v.65h-.65zM243.6 94.3h.65v.65h-.65zM247.6 95.2h.65v.65h-.65zM251.4 83.6h.65v.65h-.65zM251.5 92.1h.65v.65h-.65zM245.2 99.0h.65v.65h-.65zM251.3 87.9h.65v.65h-.65zM248.1 89.8h.65v.65h-.65zM246.6 94.4h.65v.65h-.65zM249.2 90.2h.65v.65h-.65zM247.3 86.0h.65v.65h-.65zM247.0 85.6h.65v.65h-.65zM248.7 90.6h.65v.65h-.65zM252.8 82.5h.65v.65h-.65zM250.3 93.0h.65v.65h-.65zM252.0 83.1h.65v.65h-.65zM253.4 87.3h.65v.65h-.65zM247.8 89.8h.65v.65h-.65zM250.8 88.7h.65v.65h-.65zM250.8 87.7h.65v.65h-.65zM249.9 91.6h.65v.65h-.65zM253.9 88.8h.65v.65h-.65zM253.2 87.7h.65v.65h-.65zM246.2 94.9h.65v.65h-.65zM253.0 85.0h.65v.65h-.65zM250.2 91.9h.65v.65h-.65zM243.2 99.2h.65v.65h-.65zM248.1 95.1h.65v.65h-.65zM250.8 89.2h.65v.65h-.65zM242.6 88.4h.65v.65h-.65zM240.9 101.0h.65v.65h-.65zM244.6 94.7h.65v.65h-.65zM243.5 97.8h.65v.65h-.65zM251.0 91.2h.65v.65h-.65zM246.2 98.1h.65v.65h-.65zM254.0 83.9h.65v.65h-.65zM244.2 90.7h.65v.65h-.65zM248.1 93.2h.65v.65h-.65zM245.9 90.9h.65v.65h-.65zM242.8 97.8h.65v.65h-.65zM241.0 98.5h.65v.65h-.65zM248.3 90.1h.65v.65h-.65zM247.7 89.2h.65v.65h-.65zM247.9 86.9h.65v.65h-.65zM247.6 89.9h.65v.65h-.65zM250.0 86.7h.65v.65h-.65zM243.2 94.0h.65v.65h-.65zM247.5 88.5h.65v.65h-.65zM249.2 90.0h.65v.65h-.65zM248.1 84.6h.65v.65h-.65zM245.4 89.9h.65v.65h-.65zM250.0 91.4h.65v.65h-.65zM243.8 93.2h.65v.65h-.65zM248.2 92.8h.65v.65h-.65zM249.1 85.6h.65v.65h-.65zM247.0 91.6h.65v.65h-.65zM252.8 93.2h.65v.65h-.65zM252.8 88.9h.65v.65h-.65zM245.9 91.2h.65v.65h-.65zM250.3 92.0h.65v.65h-.65zM243.2 93.7h.65v.65h-.65zM244.1 94.9h.65v.65h-.65zM244.0 95.1h.65v.65h-.65zM248.3 97.5h.65v.65h-.65zM247.9 91.1h.65v.65h-.65zM249.0 88.0h.65v.65h-.65zM245.8 88.2h.65v.65h-.65zM248.7 89.9h.65v.65h-.65zM245.5 95.0h.65v.65h-.65zM247.4 92.5h.65v.65h-.65zM248.9 87.7h.65v.65h-.65zM247.9 91.3h.65v.65h-.65zM250.8 88.0h.65v.65h-.65z"/>
<path fill="#22bb18" fill-opacity="0.5" d="M247.4 90.1h.65v.65h-.65zM246.9 92.8h.65v.65h-.65zM246.3 93.6h.65v.65h-.65zM249.8 90.9h.65v.65h-.65zM246.9 87.7h.65v.65h-.65zM251.4 89.9h.65v.65h-.65zM248.4 95.9h.65v.65h-.65zM247.4 92.6h.65v.65h-.65zM247.8 87.3h.65v.65h-.65zM252.4 85.7h.65v.65h-.65zM249.0 92.3h.65v.65h-.65zM252.0 86.5h.65v.65h-.65zM252.8 87.4h.65v.65h-.65zM251.6 88.8h.65v.65h-.65zM250.1 87.1h.65v.65h-.65zM251.1 84.7h.65v.65h-.65zM243.8 95.7h.65v.65h-.65zM247.4 91.6h.65v.65h-.65zM255.0 89.0h.65v.65h-.65zM249.3 91.2h.65v.65h-.65zM247.4 93.0h.65v.65h-.65zM249.6 91.4h.65v.65h-.65zM247.1 94.0h.65v.65h-.65zM244.7 96.3h.65v.65h-.65zM248.4 90.2h.65v.65h-.65zM244.5 91.1h.65v.65h-.65zM243.9 92.7h.65v.65h-.65zM242.6 99.3h.65v.65h-.65zM244.1 95.6h.65v.65h-.65zM246.4 94.7h.65v.65h-.65zM253.1 87.7h.65v.65h-.65zM243.8 87.0h.65v.65h-.65zM241.3 100.3h.65v.65h-.65zM244.0 99.6h.65v.65h-.65zM242.5 98.2h.65v.65h-.65zM251.8 87.1h.65v.65h-.65zM244.7 90.3h.65v.65h-.65zM247.3 95.5h.65v.65h-.65zM242.5 90.7h.65v.65h-.65zM243.8 95.3h.65v.65h-.65zM250.8 89.1h.65v.65h-.65zM249.9 88.6h.65v.65h-.65zM246.1 88.8h.65v.65h-.65zM251.1 83.2h.65v.65h-.65zM242.4 100.9h.65v.65h-.65zM248.5 93.2h.65v.65h-.65zM242.9 99.4h.65v.65h-.65zM249.1 89.8h.65v.65h-.65zM248.2 86.6h.65v.65h-.65zM248.2 91.4h.65v.65h-.65zM246.8 90.8h.65v.65h-.65zM241.6 97.5h.65v.65h-.65zM253.4 87.7h.65v.65h-.65zM245.2 89.0h.65v.65h-.65zM248.0 89.9h.65v.65h-.65zM254.0 88.0h.65v.65h-.65zM250.3 88.7h.65v.65h-.65zM249.3 94.7h.65v.65h-.65zM250.5 89.5h.65v.65h-.65zM248.6 90.1h.65v.65h-.65zM248.8 96.3h.65v.65h-.65zM254.8 84.2h.65v.65h-.65zM248.6 87.3h.65v.65h-.65zM248.6 95.8h.65v.65h-.65zM246.6 93.2h.65v.65h-.65zM248.5 84.3h.65v.65h-.65zM246.8 88.0h.65v.65h-.65zM246.2 90.5h.65v.65h-.65zM246.8 92.9h.65v.65h-.65zM244.5 94.5h.65v.65h-.65zM248.9 86.7h.65v.65h-.65zM253.6 89.3h.65v.65h-.65zM251.4 86.0h.65v.65h-.65zM248.8 87.6h.65v.65h-.65zM247.7 92.0h.65v.65h-.65zM244.5 91.2h.65v.65h-.65zM250.8 86.3h.65v.65h-.65zM247.2 94.4h.65v.65h-.65zM248.6 92.8h.65v.65h-.65zM251.2 87.7h.65v.65h-.65zM246.4 98.0h.65v.65h-.65zM248.4 87.7h.65v.65h-.65zM246.8 88.6h.65v.65h-.65zM252.2 83.3h.65v.65h-.65zM249.2 91.8h.65v.65h-.65zM246.0 95.9h.65v.65h-.65zM253.3 87.9h.65v.65h-.65zM246.1 93.3h.65v.65h-.65zM246.6 92.6h.65v.65h-.65zM244.9 93.1h.65v.65h-.65zM251.1 93.2h.65v.65h-.65zM249.6 88.4h.65v.65h-.65zM249.9 84.0h.65v.65h-.65zM245.9 91.8h.65v.65h-.65zM250.6 85.1h.65v.65h-.65zM243.2 90.1h.65v.65h-.65zM250.9 87.3h.65v.65h-.65zM250.5 85.6h.65v.65h-.65zM248.6 88.8h.65v.65h-.65zM242.8 103.3h.65v.65h-.65zM246.9 89.0h.65v.65h-.65zM249.0 90.3h.65v.65h-.65zM241.4 102.0h.65v.65h-.65zM250.6 91.2h.65v.65h-.65zM249.7 84.5h.65v.65h-.65zM247.6 85.7h.65v.65h-.65zM247.2 86.8h.65v.65h-.65zM246.1 92.2h.65v.65h-.65zM250.2 91.3h.65v.65h-.65zM243.9 93.5h.65v.65h-.65zM245.5 96.1h.65v.65h-.65zM243.3 94.1h.65v.65h-.65zM251.1 89.5h.65v.65h-.65zM244.5 88.1h.65v.65h-.65zM250.2 86.3h.65v.65h-.65zM246.8 92.2h.65v.65h-.65zM250.6 86.9h.65v.65h-.65zM247.1 91.4h.65v.65h-.65zM247.0 94.0h.65v.65h-.65zM246.8 90.2h.65v.65h-.65zM253.0 85.8h.65v.65h-.65zM243.1 96.9h.65v.65h-.65zM249.8 89.6h.65v.65h-.65zM251.6 90.9h.65v.65h-.65zM252.5 86.6h.65v.65h-.65zM245.3 96.4h.65v.65h-.65zM244.1 92.8h.65v.65h-.65zM244.9 98.7h.65v.65h-.65zM244.0 91.3h.65v.65h-.65zM249.1 90.9h.65v.65h-.65zM244.6 93.9h.65v.65h-.65zM243.2 92.9h.65v.65h-.65zM244.5 93.1h.65v.65h-.65zM249.2 86.4h.65v.65h-.65zM248.7 89.7h.65v.65h-.65zM242.5 96.7h.65v.65h-.65zM244.0 92.4h.65v.65h-.65zM248.8 91.2h.65v.65h-.65zM248.6 88.0h.65v.65h-.65zM249.9 89.7h.65v.65h-.65zM247.9 88.6h.65v.65h-.65zM246.0 89.7h.65v.65h-.65zM249.2 87.7h.65v.65h-.65zM249.8 92.9h.65v.65h-.65zM245.2 94.0h.65v.65h-.65zM250.5 93.7h.65v.65h-.65zM250.6 89.1h.65v.65h-.65zM242.3 93.1h.65v.65h-.65zM249.2 93.2h.65v.65h-.65zM251.9 90.3h.65v.65h-.65zM245.2 96.5h.65v.65h-.65zM249.7 93.1h.65v.65h-.65zM249.6 93.8h.65v.65h-.65zM249.5 92.1h.65v.65h-.65zM244.8 99.2h.65v.65h-.65zM252.4 86.6h.65v.65h-.65zM241.8 96.9h.65v.65h-.65zM244.9 93.6h.65v.65h-.65zM249.9 88.9h.65v.65h-.65zM240.3 100.5h.65v.65h-.65zM249.7 91.9h.65v.65h-.65zM247.9 93.4h.65v.65h-.65zM247.8 90.0h.65v.65h-.65zM252.3 89.4h.65v.65h-.65zM249.8 92.7h.65v.65h-.65zM249.3 93.3h.65v.65h-.65zM254.6 87.2h.65v.65h-.65zM247.6 91.6h.65v.65h-.65zM251.2 88.0h.65v.65h-.65zM246.0 91.2h.65v.65h-.65zM248.5 96.6h.65v.65h-.65zM250.8 91.4h.65v.65h-.65zM244.8 94.2h.65v.65h-.65zM252.7 85.3h.65v.65h-.65zM249.8 88.7h.65v.65h-.65zM244.2 94.7h.65v.65h-.65zM247.5 91.0h.65v.65h-.65zM253.9 84.9h.65v.65h-.65zM246.8 95.8h.65v.65h-.65zM242.7 98.1h.65v.65h-.65zM251.1 91.9h.65v.65h-.65zM249.4 85.0h.65v.65h-.65zM248.0 87.8h.65v.65h-.65zM243.1 91.7h.65v.65h-.65zM242.9 92.7h.65v.65h-.65zM250.3 92.7h.65v.65h-.65zM245.2 90.5h.65v.65h-.65zM247.5 94.8h.65v.65h-.65zM243.3 100.1h.65v.65h-.65zM246.8 89.7h.65v.65h-.65zM254.1 89.2h.65v.65h-.65zM246.5 93.9h.65v.65h-.65zM242.8 99.7h.65v.65h-.65zM242.4 94.8h.65v.65h-.65zM244.9 98.5h.65v.65h-.65zM250.6 86.8h.65v.65h-.65zM253.0 91.5h.65v.65h-.65zM251.1 90.2h.65v.65h-.65zM246.7 95.9h.65v.65h-.65zM239.9 101.1h.65v.65h-.65zM246.4 89.0h.65v.65h-.65z"/>
<path fill="#22bb18" fill-opacity="0.5" d="M252.0 88.4h.65v.65h-.65zM244.8 96.7h.65v.65h-.65zM246.5 91.7h.65v.65h-.65zM242.8 95.8h.65v.65h-.65zM251.8 85.5h.65v.65h-.65zM248.7 91.6h.65v.65h-.65zM250.4 89.8h.65v.65h-.65zM245.4 91.5h.65v.65h-.65zM244.0 95.4h.65v.65h-.65zM246.5 95.9h.65v.65h-.65zM243.9 94.5h.65v.65h-.65zM246.0 96.6h.65v.65h-.65zM241.3 100.6h.65v.65h-.65zM250.9 85.7h.65v.65h-.65zM250.4 90.0h.65v.65h-.65zM249.2 88.1h.65v.65h-.65zM250.2 84.3h.65v.65h-.65zM246.3 90.4h.65v.65h-.65zM244.1 98.3h.65v.65h-.65zM247.4 95.8h.65v.65h-.65zM247.7 90.1h.65v.65h-.65zM244.6 97.0h.65v.65h-.65zM253.1 84.2h.65v.65h-.65zM245.2 90.8h.65v.65h-.65zM246.6 88.1h.65v.65h-.65zM251.5 86.7h.65v.65h-.65zM251.3 86.2h.65v.65h-.65zM253.4 89.3h.65v.65h-.65zM250.6 85.8h.65v.65h-.65zM250.0 90.0h.65v.65h-.65zM246.2 95.4h.65v.65h-.65zM241.6 99.9h.65v.65h-.65zM251.4 87.5h.65v.65h-.65zM246.0 91.0h.65v.65h-.65zM247.5 92.7h.65v.65h-.65zM250.6 89.4h.65v.65h-.65zM245.3 97.8h.65v.65h-.65zM238.9 98.8h.65v.65h-.65zM243.3 94.8h.65v.65h-.65zM249.0 86.6h.65v.65h-.65zM248.5 89.6h.65v.65h-.65zM250.4 84.0h.65v.65h-.65zM247.9 94.2h.65v.65h-.65zM248.2 90.6h.65v.65h-.65zM249.4 93.7h.65v.65h-.65zM250.2 91.2h.65v.65h-.65zM249.8 91.9h.65v.65h-.65zM249.7 89.2h.65v.65h-.65zM248.2 88.6h.65v.65h-.65zM243.3 98.8h.65v.65h-.65zM249.7 93.3h.65v.65h-.65zM246.9 85.5h.65v.65h-.65zM245.7 91.7h.65v.65h-.65zM244.0 98.6h.65v.65h-.65zM247.6 90.9h.65v.65h-.65zM249.8 92.0h.65v.65h-.65zM247.4 92.9h.65v.65h-.65zM244.5 96.2h.65v.65h-.65zM250.4 85.3h.65v.65h-.65zM251.2 89.6h.65v.65h-.65zM247.4 94.6h.65v.65h-.65zM251.8 84.7h.65v.65h-.65zM247.1 91.7h.65v.65h-.65zM251.7 92.1h.65v.65h-.65zM247.6 88.5h.65v.65h-.65zM248.8 92.7h.65v.65h-.65zM245.7 95.6h.65v.65h-.65zM243.8 102.3h.65v.65h-.65zM243.1 103.0h.65v.65h-.65zM248.8 92.3h.65v.65h-.65zM250.5 86.4h.65v.65h-.65zM249.3 84.2h.65v.65h-.65zM248.5 93.8h.65v.65h-.65zM252.9 86.3h.65v.65h-.65zM246.4 93.8h.65v.65h-.65zM245.3 92.3h.65v.65h-.65zM242.5 96.7h.65v.65h-.65zM248.2 93.8h.65v.65h-.65zM240.5 100.1h.65v.65h-.65zM247.9 97.8h.65v.65h-.65zM248.6 92.4h.65v.65h-.65zM250.5 84.2h.65v.65h-.65zM252.2 82.3h.65v.65h-.65zM250.5 95.9h.65v.65h-.65zM253.2 87.3h.65v.65h-.65zM247.5 90.8h.65v.65h-.65zM248.8 87.7h.65v.65h-.65zM252.9 85.7h.65v.65h-.65zM252.3 82.6h.65v.65h-.65zM251.5 87.3h.65v.65h-.65zM254.2 87.0h.65v.65h-.65zM247.4 90.0h.65v.65h-.65zM246.9 93.0h.65v.65h-.65zM250.6 88.0h.65v.65h-.65zM252.0 88.9h.65v.65h-.65zM246.9 91.9h.65v.65h-.65zM251.5 90.6h.65v.65h-.65zM243.4 96.5h.65v.65h-.65zM252.7 93.1h.65v.65h-.65zM248.5 91.7h.65v.65h-.65zM246.2 91.9h.65v.65h-.65zM248.7 88.5h.65v.65h-.65zM245.0 89.9h.65v.65h-.65zM247.6 90.0h.65v.65h-.65zM244.5 96.5h.65v.65h-.65zM248.7 99.0h.65v.65h-.65zM244.5 93.4h.65v.65h-.65zM251.5 86.6h.65v.65h-.65zM247.3 90.1h.65v.65h-.65zM249.3 92.5h.65v.65h-.65zM252.7 85.1h.65v.65h-.65zM247.1 96.9h.65v.65h-.65zM249.9 85.1h.65v.65h-.65zM244.8 95.9h.65v.65h-.65zM245.8 97.4h.65v.65h-.65zM244.3 85.6h.65v.65h-.65zM248.5 93.8h.65v.65h-.65zM246.9 90.5h.65v.65h-.65zM246.8 91.6h.65v.65h-.65zM243.0 94.2h.65v.65h-.65zM244.4 95.1h.65v.65h-.65zM245.1 96.3h.65v.65h-.65zM250.6 83.2h.65v.65h-.65zM250.7 90.6h.65v.65h-.65zM249.4 88.2h.65v.65h-.65zM245.0 96.7h.65v.65h-.65zM244.2 95.9h.65v.65h-.65zM245.8 92.0h.65v.65h-.65zM255.1 85.5h.65v.65h-.65zM247.6 93.5h.65v.65h-.65zM252.2 84.3h.65v.65h-.65zM248.6 91.2h.65v.65h-.65zM249.9 93.7h.65v.65h-.65zM248.3 88.7h.65v.65h-.65zM251.0 87.4h.65v.65h-.65zM247.9 92.1h.65v.65h-.65zM242.6 98.7h.65v.65h-.65zM250.3 87.7h.65v.65h-.65zM249.6 89.7h.65v.65h-.65zM251.9 89.5h.65v.65h-.65zM245.3 96.7h.65v.65h-.65zM248.3 83.2h.65v.65h-.65zM242.9 102.8h.65v.65h-.65zM251.1 91.0h.65v.65h-.65zM250.0 88.7h.65v.65h-.65zM250.5 95.3h.65v.65h-.65zM253.2 83.6h.65v.65h-.65zM243.8 95.7h.65v.65h-.65zM251.3 89.6h.65v.65h-.65zM245.3 90.5h.65v.65h-.65zM250.5 89.6h.65v.65h-.65zM251.5 84.9h.65v.65h-.65zM248.1 93.5h.65v.65h-.65zM252.1 89.2h.65v.65h-.65zM250.0 95.1h.65v.65h-.65zM251.1 87.7h.65v.65h-.65zM258.3 87.4h.65v.65h-.65zM249.0 92.1h.65v.65h-.65zM250.1 91.6h.65v.65h-.65zM253.9 87.3h.65v.65h-.65zM243.0 92.3h.65v.65h-.65zM248.6 92.5h.65v.65h-.65zM245.7 90.4h.65v.65h-.65zM248.9 88.2h.65v.65h-.65zM247.5 83.3h.65v.65h-.65zM246.2 98.5h.65v.65h-.65zM249.4 87.4h.65v.65h-.65zM250.2 82.8h.65v.65h-.65zM250.1 92.2h.65v.65h-.65zM243.5 99.9h.65v.65h-.65zM242.1 90.5h.65v.65h-.65zM247.7 94.9h.65v.65h-.65zM250.1 86.5h.65v.65h-.65zM247.0 95.1h.65v.65h-.65zM244.8 98.7h.65v.65h-.65zM249.6 89.1h.65v.65h-.65zM250.0 93.4h.65v.65h-.65zM247.9 91.6h.65v.65h-.65zM248.9 95.3h.65v.65h-.65zM245.5 97.3h.65v.65h-.65zM252.8 84.6h.65v.65h-.65zM246.3 94.3h.65v.65h-.65zM250.2 89.6h.65v.65h-.65zM240.6 92.5h.65v.65h-.65zM252.5 88.0h.65v.65h-.65zM250.3 88.5h.65v.65h-.65zM250.8 92.2h.65v.65h-.65zM245.4 98.6h.65v.65h-.65zM250.3 85.0h.65v.65h-.65zM244.9 86.8h.65v.65h-.65zM250.2 90.6h.65v.65h-.65zM247.1 90.5h.65v.65h-.65zM253.1 83.6h.65v.65h-.65zM255.5 89.5h.65v.65h-.65zM247.4 93.4h.65v.65h-.65zM251.7 91.4h.65v.65h-.65zM253.5 86.1h.65v.65h-.65zM251.2 84.7h.65v.65h-.65zM250.3 91.9h.65v.65h-.65zM245.3 98.1h.65v.65h-.65zM242.9 101.0h.65v.65h-.65z"/>
<path fill="#8c8" fill-opacity="0.35" d="M244.8 114.9h.5v.5h-.5zM247.4 120.4h.5v.5h-.5zM238.8 119.3h.5v.5h-.5zM247.1 118.3h.5v.5h-.5zM245.6 120.3h.5v.5h-.5z"/>
<path fill="#8c8" fill-opacity="0.35" d="M240.6 121.2h.5v.5h-.5zM242.2 122.8h.5v.5h-.5zM251.3 120.6h.5v.5h-.5zM249.0 118.4h.5v.5h-.5zM246.0 126.7h.5v.5h-.5z"/>
<path fill="#8c8" fill-opacity="0.35" d="M243.0 125.0h.5v.5h-.5zM249.2 120.3h.5v.5h-.5zM246.4 118.8h.5v.5h-.5zM245.5 123.8h.5v.5h-.5zM248.0 121.2h.5v.5h-.5z"/>
<path fill="#8c8" fill-opacity="0.35" d="M250.8 125.7h.5v.5h-.5zM248.7 123.0h.5v.5h-.5zM240.4 116.6h.5v.5h-.5zM247.8 119.7h.5v.5h-.5zM245.1 118.8h.5v.5h-.5z"/>
<path fill="#8c8" fill-opacity="0.35" d="M249.1 123.9h.5v.5h-.5zM242.6 120.4h.5v.5h-.5zM256.0 120.1h.5v.5h-.5zM240.7 116.6h.5v.5h-.5zM242.5 115.8h.5v.5h-.5z"/>
<path fill="#8c8" fill-opacity="0.35" d="M243.9 123.7h.5v.5h-.5zM239.6 118.0h.5v.5h-.5zM243.0 120.8h.5v.5h-.5zM250.2 121.8h.5v.5h-.5zM244.4 116.7h.5v.5h-.5z"/>
<path fill="#8c8" fill-opacity="0.35" d="M244.5 120.4h.5v.5h-.5zM247.5 118.4h.5v.5h-.5zM239.3 124.0h.5v.5h-.5zM246.2 123.7h.5v.5h-.5zM239.5 118.2h.5v.5h-.5z"/>
<path fill="#8c8" fill-opacity="0.35" d="M241.3 120.7h.5v.5h-.5zM247.4 121.4h.5v.5h-.5zM252.0 118.7h.5v.5h-.5zM246.5 118.7h.5v.5h-.5zM238.9 124.0h.5v.5h-.5z"/>
<text x="244.2" y="143.4" font-size="6.9" textLength="11.6" lengthAdjust="spacingAndGlyphs">FSC</text>
<text x="328.3" y="12.0" font-size="12.8" font-weight="bold">C</text>
<line x1="361.5" y1="8.0" x2="361.5" y2="120.35" stroke="#111" stroke-width="1.5"/>
<line x1="358.0" y1="119.6" x2="361.5" y2="119.6" stroke="#111" stroke-width="1.5"/>
<text x="357.4" y="122.4" font-size="7.8" font-weight="bold" text-anchor="end" textLength="14.8" lengthAdjust="spacingAndGlyphs">0.00</text>
<line x1="358.0" y1="91.89999999999999" x2="361.5" y2="91.89999999999999" stroke="#111" stroke-width="1.5"/>
<text x="357.4" y="94.7" font-size="7.8" font-weight="bold" text-anchor="end" textLength="14.8" lengthAdjust="spacingAndGlyphs">0.25</text>
<line x1="358.0" y1="64.19999999999999" x2="361.5" y2="64.19999999999999" stroke="#111" stroke-width="1.5"/>
<text x="357.4" y="67.0" font-size="7.8" font-weight="bold" text-anchor="end" textLength="14.8" lengthAdjust="spacingAndGlyphs">0.50</text>
<line x1="358.0" y1="36.5" x2="361.5" y2="36.5" stroke="#111" stroke-width="1.5"/>
<text x="357.4" y="39.3" font-size="7.8" font-weight="bold" text-anchor="end" textLength="14.8" lengthAdjust="spacingAndGlyphs">0.75</text>
<line x1="358.0" y1="8.799999999999997" x2="361.5" y2="8.799999999999997" stroke="#111" stroke-width="1.5"/>
<text x="357.4" y="11.6" font-size="7.8" font-weight="bold" text-anchor="end" textLength="14.8" lengthAdjust="spacingAndGlyphs">1.00</text>
<line x1="360.7" y1="119.6" x2="464" y2="119.6" stroke="#111" stroke-width="1.5"/>
<line x1="374.1" y1="87" x2="374.1" y2="80.5" stroke="#111" stroke-width="1.3"/>
<line x1="369.6" y1="80.5" x2="378.6" y2="80.5" stroke="#111" stroke-width="1.3"/>
<rect x="365" y="87" width="18.19999999999999" height="32.599999999999994" fill="#0a2890" stroke="#111" stroke-width="1.1"/>
<line x1="399.70000000000005" y1="58.5" x2="399.70000000000005" y2="45.2" stroke="#111" stroke-width="1.3"/>
<line x1="394.45000000000005" y1="45.2" x2="404.95000000000005" y2="45.2" stroke="#111" stroke-width="1.3"/>
<rect x="390.8" y="58.5" width="17.80000000000001" height="61.099999999999994" fill="#fc3606" stroke="#111" stroke-width="1.1"/>
<line x1="425.1" y1="69.6" x2="425.1" y2="51" stroke="#111" stroke-width="1.3"/>
<line x1="420.35" y1="51" x2="429.85" y2="51" stroke="#111" stroke-width="1.3"/>
<rect x="416.2" y="69.6" width="17.80000000000001" height="50.0" fill="#0a2890" stroke="#111" stroke-width="1.1"/>
<line x1="450.3" y1="49.6" x2="450.3" y2="35" stroke="#111" stroke-width="1.3"/>
<line x1="445.8" y1="35" x2="454.8" y2="35" stroke="#111" stroke-width="1.3"/>
<rect x="441.6" y="49.6" width="17.399999999999977" height="70.0" fill="#fc3606" stroke="#111" stroke-width="1.1"/>
<rect x="367" y="10.6" width="15.5" height="5.7" fill="#0a2890" stroke="#111" stroke-width="0.9"/>
<rect x="367" y="22" width="15.5" height="5.9" fill="#fc3606" stroke="#111" stroke-width="0.9"/>
<text x="387.7" y="15.9" font-size="8.4" textLength="36.5" lengthAdjust="spacingAndGlyphs">+/+ HSPC</text>
<text x="386.3" y="27.4" font-size="8.4" textLength="34" lengthAdjust="spacingAndGlyphs">-/- HSPC</text>
<text x="338.4" y="63.9" font-size="8.8" font-weight="bold" text-anchor="middle" textLength="53.5" lengthAdjust="spacingAndGlyphs" transform="rotate(-90 338.4 63.9)">%GFP+ cells</text>
<path d="M366.8,121.8 V123.8 Q366.8,126.8 369.8,126.8 H401.4 Q404.4,126.8 404.4,123.8 V121.8" fill="none" stroke="#111" stroke-width="1.1"/>
<line x1="374.4" y1="126.8" x2="374.4" y2="123.8" stroke="#111" stroke-width="1.1"/>
<line x1="399" y1="126.8" x2="399" y2="123.8" stroke="#111" stroke-width="1.1"/>
<path d="M417.5,121.8 V123.8 Q417.5,126.8 420.5,126.8 H451 Q454,126.8 454,123.8 V121.8" fill="none" stroke="#111" stroke-width="1.1"/>
<line x1="424.5" y1="126.8" x2="424.5" y2="123.8" stroke="#111" stroke-width="1.1"/>
<line x1="450" y1="126.8" x2="450" y2="123.8" stroke="#111" stroke-width="1.1"/>
<text x="371" y="135.6" font-size="7.9" font-weight="bold" textLength="28.5" lengthAdjust="spacingAndGlyphs">Galc+/+</text>
<text x="423.4" y="135.6" font-size="7.9" font-weight="bold" textLength="25.4" lengthAdjust="spacingAndGlyphs">Galc-/-</text>
<text x="390" y="145.8" font-size="7.9" font-weight="bold" textLength="37.1" lengthAdjust="spacingAndGlyphs">recipients</text>
<text x="0.6" y="172.6" font-size="12.6" font-weight="bold">D</text>
<line x1="35.8" y1="165.2" x2="35.8" y2="271.05" stroke="#111" stroke-width="1.5"/>
<line x1="31.999999999999996" y1="270.3" x2="35.8" y2="270.3" stroke="#111" stroke-width="1.5"/>
<text x="31.199999999999996" y="273.3" font-size="8.2" font-weight="bold" text-anchor="end">0</text>
<line x1="31.999999999999996" y1="260.81" x2="35.8" y2="260.81" stroke="#111" stroke-width="1.5"/>
<text x="31.199999999999996" y="263.8" font-size="8.2" font-weight="bold" text-anchor="end">10</text>
<line x1="31.999999999999996" y1="251.32000000000002" x2="35.8" y2="251.32000000000002" stroke="#111" stroke-width="1.5"/>
<text x="31.199999999999996" y="254.3" font-size="8.2" font-weight="bold" text-anchor="end">20</text>
<line x1="31.999999999999996" y1="241.83" x2="35.8" y2="241.83" stroke="#111" stroke-width="1.5"/>
<text x="31.199999999999996" y="244.8" font-size="8.2" font-weight="bold" text-anchor="end">30</text>
<line x1="31.999999999999996" y1="232.34" x2="35.8" y2="232.34" stroke="#111" stroke-width="1.5"/>
<text x="31.199999999999996" y="235.3" font-size="8.2" font-weight="bold" text-anchor="end">40</text>
<line x1="31.999999999999996" y1="222.85000000000002" x2="35.8" y2="222.85000000000002" stroke="#111" stroke-width="1.5"/>
<text x="31.199999999999996" y="225.8" font-size="8.2" font-weight="bold" text-anchor="end">50</text>
<line x1="31.999999999999996" y1="213.36" x2="35.8" y2="213.36" stroke="#111" stroke-width="1.5"/>
<text x="31.199999999999996" y="216.3" font-size="8.2" font-weight="bold" text-anchor="end">60</text>
<line x1="31.999999999999996" y1="203.87" x2="35.8" y2="203.87" stroke="#111" stroke-width="1.5"/>
<text x="31.199999999999996" y="206.8" font-size="8.2" font-weight="bold" text-anchor="end">70</text>
<line x1="31.999999999999996" y1="194.38" x2="35.8" y2="194.38" stroke="#111" stroke-width="1.5"/>
<text x="31.199999999999996" y="197.3" font-size="8.2" font-weight="bold" text-anchor="end">80</text>
<line x1="31.999999999999996" y1="184.89000000000001" x2="35.8" y2="184.89000000000001" stroke="#111" stroke-width="1.5"/>
<text x="31.199999999999996" y="187.8" font-size="8.2" font-weight="bold" text-anchor="end">90</text>
<line x1="31.999999999999996" y1="175.40000000000003" x2="35.8" y2="175.40000000000003" stroke="#111" stroke-width="1.5"/>
<text x="31.199999999999996" y="178.4" font-size="8.2" font-weight="bold" text-anchor="end">100</text>
<line x1="31.999999999999996" y1="165.91000000000003" x2="35.8" y2="165.91000000000003" stroke="#111" stroke-width="1.5"/>
<text x="31.199999999999996" y="168.9" font-size="8.2" font-weight="bold" text-anchor="end">110</text>
<line x1="35.05" y1="270.3" x2="192" y2="270.3" stroke="#111" stroke-width="1.5"/>
<line x1="35.8" y1="270.3" x2="35.8" y2="273.8" stroke="#111" stroke-width="1.4"/>
<text x="35.8" y="282.2" font-size="8.2" font-weight="bold" text-anchor="middle">0</text>
<line x1="61.6" y1="270.3" x2="61.6" y2="273.8" stroke="#111" stroke-width="1.4"/>
<text x="61.6" y="282.2" font-size="8.2" font-weight="bold" text-anchor="middle">25</text>
<line x1="87.4" y1="270.3" x2="87.4" y2="273.8" stroke="#111" stroke-width="1.4"/>
<text x="87.4" y="282.2" font-size="8.2" font-weight="bold" text-anchor="middle">50</text>
<line x1="113.2" y1="270.3" x2="113.2" y2="273.8" stroke="#111" stroke-width="1.4"/>
<text x="113.2" y="282.2" font-size="8.2" font-weight="bold" text-anchor="middle">75</text>
<line x1="139.0" y1="270.3" x2="139.0" y2="273.8" stroke="#111" stroke-width="1.4"/>
<text x="139.0" y="282.2" font-size="8.2" font-weight="bold" text-anchor="middle">100</text>
<line x1="164.8" y1="270.3" x2="164.8" y2="273.8" stroke="#111" stroke-width="1.4"/>
<text x="164.8" y="282.2" font-size="8.2" font-weight="bold" text-anchor="middle">125</text>
<line x1="190.6" y1="270.3" x2="190.6" y2="273.8" stroke="#111" stroke-width="1.4"/>
<text x="190.6" y="282.2" font-size="8.2" font-weight="bold" text-anchor="middle">150</text>
<text x="113" y="293.5" font-size="8.2" font-weight="bold" text-anchor="middle">Days</text>
<text x="12.0" y="218" font-size="8.8" font-weight="bold" text-anchor="middle" textLength="65" lengthAdjust="spacingAndGlyphs" transform="rotate(-90 12.0 218)">Percent survival</text>
<path d="M35.8,175.4 H56.9 V187.2 H161.3" fill="none" stroke="#f43c12" stroke-width="1.2" stroke-dasharray="3.5,1.5,1,1.5"/>
<path d="M35.8,175.4 H57.7 V194.5 H161.3" fill="none" stroke="#1e34a2" stroke-width="1.2" stroke-dasharray="3.5,1.5,1,1.5"/>
<line x1="161.3" y1="185.2" x2="161.3" y2="189.2" stroke="#f43c12" stroke-width="1"/>
<line x1="161.3" y1="192.5" x2="161.3" y2="196.5" stroke="#1e34a2" stroke-width="1"/>
<path d="M35.8,175.4 H56.7 V180.8 H62.5 V185.6 H65.4 V195.6 H72.1 V201.5 H88.2 V212.4 H90.3 V216.5 H93.1 V222.8 H98.5 V227.8 H101.3 V233.1 H106.9 V238.8 H108.8 V243.8 H115.3 V255 H123.1 V259.4 H130 V263 H132.8 V270.3" fill="none" stroke="#1e34a2" stroke-width="1.3"/>
<path d="M56.9,175.4 V207 H61.9 V223 H64.8 V240 H66.5 V254.5 H101.2 V270.3" fill="none" stroke="#f43c12" stroke-width="1.3"/>
<path d="M35.8,175.4 H67 V178.6 H69.4 V182.7 H73 V185.8 H76.5 V191 H78.9 V202.5 H80.2 V210 H81.5 V222.5 H83.75 V230.6 H86 V241.9 H88.5 V254.4 H96.2 V258.1 H97.5 V261.9 H98.75 V266.2 H100 V270.3" fill="none" stroke="#111" stroke-width="1.3"/>
<line x1="131.3" y1="217.4" x2="145.8" y2="217.4" stroke="#1e34a2" stroke-width="1.2"/>
<path d="M138.5,215.8 L139.9,218.0 L137.1,218.0 Z" fill="#1e34a2"/>
<text x="147.7" y="220.0" font-size="8.8" textLength="77" lengthAdjust="spacingAndGlyphs">+/+ HSPC in -/- rec.</text>
<line x1="131.3" y1="227.0" x2="145.8" y2="227.0" stroke="#1e34a2" stroke-width="1.2" stroke-dasharray="3.5,1.5,1,1.5"/>
<path d="M138.5,225.4 L139.9,227.6 L137.1,227.6 Z" fill="#1e34a2"/>
<text x="147.7" y="229.6" font-size="8.8" textLength="80" lengthAdjust="spacingAndGlyphs">+/+ HSPC in +/- rec.</text>
<line x1="131.3" y1="236.6" x2="145.8" y2="236.6" stroke="#f43c12" stroke-width="1.2"/>
<path d="M138.5,235.0 L139.9,237.2 L137.1,237.2 Z" fill="#f43c12"/>
<text x="147.7" y="239.2" font-size="8.8" textLength="73" lengthAdjust="spacingAndGlyphs">-/- HSPC in -/- rec.</text>
<line x1="131.3" y1="246.3" x2="145.8" y2="246.3" stroke="#f43c12" stroke-width="1.2" stroke-dasharray="3.5,1.5,1,1.5"/>
<path d="M138.5,244.7 L139.9,246.9 L137.1,246.9 Z" fill="#f43c12"/>
<text x="147.7" y="248.9" font-size="8.8" textLength="76" lengthAdjust="spacingAndGlyphs">-/- HSPC in +/- rec.</text>
<line x1="131.3" y1="255.9" x2="145.8" y2="255.9" stroke="#111" stroke-width="1.2"/>
<path d="M138.5,254.3 L139.9,256.5 L137.1,256.5 Z" fill="#111"/>
<text x="147.7" y="258.5" font-size="8.8" textLength="22" lengthAdjust="spacingAndGlyphs">-/- UT</text>
<text x="241.6" y="172.7" font-size="12.6" font-weight="bold">E</text>
<line x1="275.8" y1="173.5" x2="275.8" y2="273.85" stroke="#111" stroke-width="1.5"/>
<line x1="272.3" y1="273.1" x2="275.8" y2="273.1" stroke="#111" stroke-width="1.5"/>
<text x="271.1" y="276.1" font-size="8.3" font-weight="bold" text-anchor="end">0</text>
<line x1="272.3" y1="248.37500000000003" x2="275.8" y2="248.37500000000003" stroke="#111" stroke-width="1.5"/>
<text x="271.1" y="251.4" font-size="8.3" font-weight="bold" text-anchor="end">25</text>
<line x1="272.3" y1="223.65000000000003" x2="275.8" y2="223.65000000000003" stroke="#111" stroke-width="1.5"/>
<text x="271.1" y="226.6" font-size="8.3" font-weight="bold" text-anchor="end">50</text>
<line x1="272.3" y1="198.925" x2="275.8" y2="198.925" stroke="#111" stroke-width="1.5"/>
<text x="271.1" y="201.9" font-size="8.3" font-weight="bold" text-anchor="end">75</text>
<line x1="272.3" y1="174.20000000000002" x2="275.8" y2="174.20000000000002" stroke="#111" stroke-width="1.5"/>
<text x="271.1" y="177.2" font-size="8.3" font-weight="bold" text-anchor="end">100</text>
<line x1="275" y1="273.1" x2="354.3" y2="273.1" stroke="#111" stroke-width="1.5"/>
<line x1="295.2" y1="273.1" x2="295.2" y2="276.40000000000003" stroke="#111" stroke-width="1.3"/>
<line x1="334.2" y1="273.1" x2="334.2" y2="276.40000000000003" stroke="#111" stroke-width="1.3"/>
<rect x="282.7" y="248.37500000000003" width="10.0" height="24.724999999999994" fill="#0a2890" stroke="#111" stroke-width="1.1"/>
<rect x="297.7" y="174.20000000000002" width="9.300000000000011" height="98.9" fill="#fc3606" stroke="#111" stroke-width="1.1"/>
<rect x="322" y="263.21000000000004" width="10" height="9.889999999999986" fill="#0a2890" stroke="#111" stroke-width="1.1"/>
<rect x="336.5" y="253.32000000000002" width="9.699999999999989" height="19.78" fill="#fc3606" stroke="#111" stroke-width="1.1"/>
<text x="282.7" y="282.8" font-size="7.9" font-weight="bold" textLength="25.4" lengthAdjust="spacingAndGlyphs">Galc -/-</text>
<text x="321.3" y="282.8" font-size="7.9" font-weight="bold" textLength="26.1" lengthAdjust="spacingAndGlyphs">Galc+/-</text>
<text x="297.7" y="295.0" font-size="8.2" font-weight="bold" textLength="33.5" lengthAdjust="spacingAndGlyphs">recipient</text>
<rect x="323" y="177" width="15.4" height="7.2" fill="#0a2890" stroke="#111" stroke-width="0.9"/>
<rect x="323" y="189.2" width="15.4" height="7" fill="#fc3606" stroke="#111" stroke-width="0.9"/>
<text x="342.4" y="183.6" font-size="8.3" textLength="36.4" lengthAdjust="spacingAndGlyphs">+/+ HSPC</text>
<text x="339.6" y="195.5" font-size="8.3" textLength="33.1" lengthAdjust="spacingAndGlyphs">-/- HSPC</text>
<text x="250.3" y="225.9" font-size="8.4" font-weight="bold" text-anchor="middle" textLength="72.3" lengthAdjust="spacingAndGlyphs" transform="rotate(-90 250.3 225.9)">Engraftment failure</text>
<text x="258.2" y="224" font-size="8.4" font-weight="bold" text-anchor="middle" textLength="55.5" lengthAdjust="spacingAndGlyphs" transform="rotate(-90 258.2 224)">frequency (%)</text>
<text x="403.2" y="172.6" font-size="12.6" font-weight="bold">F</text>
<line x1="432" y1="173.5" x2="432" y2="274.55" stroke="#111" stroke-width="1.5"/>
<line x1="428.5" y1="273.8" x2="432" y2="273.8" stroke="#111" stroke-width="1.5"/>
<text x="427.3" y="276.8" font-size="8.3" font-weight="bold" text-anchor="end">0</text>
<line x1="428.5" y1="248.8625" x2="432" y2="248.8625" stroke="#111" stroke-width="1.5"/>
<text x="427.3" y="251.9" font-size="8.3" font-weight="bold" text-anchor="end">25</text>
<line x1="428.5" y1="223.925" x2="432" y2="223.925" stroke="#111" stroke-width="1.5"/>
<text x="427.3" y="226.9" font-size="8.3" font-weight="bold" text-anchor="end">50</text>
<line x1="428.5" y1="198.9875" x2="432" y2="198.9875" stroke="#111" stroke-width="1.5"/>
<text x="427.3" y="202.0" font-size="8.3" font-weight="bold" text-anchor="end">75</text>
<line x1="428.5" y1="174.05" x2="432" y2="174.05" stroke="#111" stroke-width="1.5"/>
<text x="427.3" y="177.0" font-size="8.3" font-weight="bold" text-anchor="end">100</text>
<line x1="431.2" y1="273.8" x2="517" y2="273.8" stroke="#111" stroke-width="1.5"/>
<line x1="452.5" y1="273.8" x2="452.5" y2="277.1" stroke="#111" stroke-width="1.3"/>
<line x1="497.5" y1="273.8" x2="497.5" y2="277.1" stroke="#111" stroke-width="1.3"/>
<line x1="445.5" y1="228.5" x2="445.5" y2="220.4" stroke="#111" stroke-width="1.3"/>
<line x1="443.0" y1="220.4" x2="448.0" y2="220.4" stroke="#111" stroke-width="1.3"/>
<rect x="439.7" y="228.5" width="11.600000000000023" height="45.30000000000001" fill="#0a2890" stroke="#111" stroke-width="1.1"/>
<line x1="489.4" y1="191.6" x2="489.4" y2="189.2" stroke="#111" stroke-width="1.3"/>
<line x1="485.15" y1="189.2" x2="493.65" y2="189.2" stroke="#111" stroke-width="1.3"/>
<rect x="483.6" y="191.6" width="11.599999999999966" height="82.20000000000002" fill="#0a2890" stroke="#111" stroke-width="1.1"/>
<line x1="505.3" y1="266.1" x2="505.3" y2="264.3" stroke="#111" stroke-width="1.3"/>
<line x1="501.8" y1="264.3" x2="508.8" y2="264.3" stroke="#111" stroke-width="1.3"/>
<rect x="499.3" y="266.1" width="12.0" height="7.699999999999989" fill="#fc3606" stroke="#111" stroke-width="1.1"/>
<text x="456.1" y="270.6" font-size="9.6" textLength="12.7" lengthAdjust="spacingAndGlyphs">0%</text>
<text x="440.8" y="283.3" font-size="7.9" font-weight="bold" textLength="25.6" lengthAdjust="spacingAndGlyphs">Galc -/-</text>
<text x="483.4" y="283.3" font-size="7.9" font-weight="bold" textLength="26.1" lengthAdjust="spacingAndGlyphs">Galc+/-</text>
<text x="458.6" y="294.5" font-size="8.2" font-weight="bold" textLength="32.2" lengthAdjust="spacingAndGlyphs">recipient</text>
<text x="411.9" y="220.9" font-size="8.4" font-weight="bold" text-anchor="middle" textLength="77.5" lengthAdjust="spacingAndGlyphs" transform="rotate(-90 411.9 220.9)">Donor chimerism (%)</text>
<text x="0.8" y="320.9" font-size="12.6" font-weight="bold">G</text>
<text x="0.9" y="344.4" font-size="8.9" textLength="54.5">Galc-/- HSPC</text>
<text x="55.6" y="341" font-size="5.6" textLength="14.5" lengthAdjust="spacingAndGlyphs">GFP+</text>
<text x="36.4" y="353.8" font-size="8.9" text-anchor="middle" textLength="27.7" lengthAdjust="spacingAndGlyphs">CD45.2</text>
<text x="13" y="363" font-size="8.9" textLength="46.7">(8 or 15x10<tspan font-size="5.6" dy="-3">4</tspan><tspan dy="3">)</tspan></text>
<text x="78.3" y="344.2" font-size="8.9" textLength="57.5">Galc+/+ HSPC</text>
<text x="136.2" y="341" font-size="5.6" textLength="14.2" lengthAdjust="spacingAndGlyphs">GFP+</text>
<text x="115.3" y="353.8" font-size="8.9" text-anchor="middle" textLength="26.9" lengthAdjust="spacingAndGlyphs">CD45.1</text>
<text x="92.7" y="363.4" font-size="8.9" textLength="46.5">(8 or 15x10<tspan font-size="5.6" dy="-3">4</tspan><tspan dy="3">)</tspan></text>
<g><ellipse cx="33.1" cy="372.0" rx="7.5" ry="5.5" fill="url(#gr)" stroke="#0c0c10" stroke-width="1.2"/><circle cx="31.9" cy="372.0" r="1.75" fill="#d4dcd0" stroke="#5a0a00" stroke-width="1.1"/><ellipse cx="43.0" cy="375.6" rx="7.7" ry="5.6" fill="url(#gr)" stroke="#0c0c10" stroke-width="1.2"/><circle cx="40.0" cy="375.6" r="1.75" fill="#d4dcd0" stroke="#5a0a00" stroke-width="1.1"/><ellipse cx="33.7" cy="383.5" rx="8.3" ry="5.5" fill="url(#gr)" stroke="#0c0c10" stroke-width="1.2"/><circle cx="31.7" cy="383.5" r="1.75" fill="#d4dcd0" stroke="#5a0a00" stroke-width="1.1"/></g>
<g><ellipse cx="106.5" cy="372.4" rx="7.5" ry="5.5" fill="url(#gb)" stroke="#0c0c10" stroke-width="1.2"/><circle cx="105.3" cy="372.4" r="1.75" fill="#d4dcd0" stroke="#060a40" stroke-width="1.1"/><ellipse cx="116.4" cy="376.0" rx="7.7" ry="5.6" fill="url(#gb)" stroke="#0c0c10" stroke-width="1.2"/><circle cx="113.4" cy="376.0" r="1.75" fill="#d4dcd0" stroke="#060a40" stroke-width="1.1"/><ellipse cx="107.1" cy="383.9" rx="8.3" ry="5.5" fill="url(#gb)" stroke="#0c0c10" stroke-width="1.2"/><circle cx="105.1" cy="383.9" r="1.75" fill="#d4dcd0" stroke="#060a40" stroke-width="1.1"/></g>
<text x="53.9" y="397" font-size="9.1" textLength="35.9" lengthAdjust="spacingAndGlyphs">1:1 ratio</text>
<path d="M13.1,394.2 Q13.3,400.4 21.5,400.4 H63.8 Q71.2,400.4 71.2,405.5 Q71.2,400.4 78.6,400.4 H121.2 Q129.6,400.4 129.6,394.2" fill="none" stroke="#111" stroke-width="1.3"/>
<line x1="71.2" y1="405" x2="71.20" y2="416.20" stroke="#111" stroke-width="1.4"/>
<path d="M71.2,423.8 L67.10,415.20 L75.30,415.20 Z" fill="#111"/>
<text x="43.8" y="422.8" font-size="9.6" textLength="12.6" lengthAdjust="spacingAndGlyphs">i.v.</text>
<g transform="translate(-2 333)"><path d="M80.5,104.5 C79,100 75,97.5 70.5,98 C66.5,98.5 63.5,101.5 60.5,104 C58.5,105.6 56,106.6 53.2,106" fill="none" stroke="#7c7c7c" stroke-width="2.6" stroke-linecap="round"/><path d="M80.5,104.5 C79,100 75,97.5 70.5,98 C66.5,98.5 63.5,101.5 60.5,104 C58.5,105.6 56,106.6 53.2,106" fill="none" stroke="#c4c4c4" stroke-width="1.0" stroke-linecap="round"/><path d="M78,103.4 C85.5,103.4 91.4,109 92.1,116 C92.8,121 90.5,125 87,128.6 C84,131.6 81,134.4 78.5,134.9 C76,134.4 73,131.6 70,128.6 C66.5,125 64.2,121 64.7,116 C65.5,109 70.8,103.4 78,103.4 Z" fill="#dadada" stroke="#848484" stroke-width="1"/><ellipse cx="70.2" cy="119.9" rx="5.7" ry="4.9" fill="#d2d2d2" stroke="#888" stroke-width="0.9"/><path d="M74.5,117.8 Q70.2,113.6 65.6,119" fill="none" stroke="#9a9a9a" stroke-width="1.2"/><ellipse cx="69.9" cy="120.6" rx="3.5" ry="2.8" fill="#e4e4e4"/><ellipse cx="86.9" cy="119.9" rx="5.7" ry="4.9" fill="#d2d2d2" stroke="#888" stroke-width="0.9"/><path d="M82.6,117.8 Q86.9,113.6 91.5,119" fill="none" stroke="#9a9a9a" stroke-width="1.2"/><ellipse cx="87.2" cy="120.6" rx="3.5" ry="2.8" fill="#e4e4e4"/><circle cx="75" cy="128.3" r="1.45" fill="#1a1a1a"/><circle cx="81.9" cy="128.3" r="1.45" fill="#1a1a1a"/><circle cx="78.5" cy="133.6" r="1.3" fill="#1a1a1a"/><path d="M75.5,132.6 L68.3,131.6 M75.5,133.6 L69.6,135.6 M76,134.2 L72,137 M81.5,132.6 L88.7,131.6 M81.5,133.6 L87.9,135.6 M81,134.2 L85,137" stroke="#6a6a6a" stroke-width="0.6" fill="none"/><path d="M59.4,95.7 L65.6,91.9 L68.9,98.3 L67.9,99.2 L72.3,103.7 L71.2,104.7 L76.8,112.8 L67.3,107.3 L68.6,105.9 L63.1,101.7 L64.7,100.1 Z" fill="#fff" stroke="#111" stroke-width="1.3" stroke-linejoin="miter"/></g>
<text x="105.3" y="430.2" font-size="9.1" font-style="italic" text-anchor="middle" textLength="32" lengthAdjust="spacingAndGlyphs">C57Bl/6</text>
<text x="105.3" y="441.8" font-size="9.1" font-style="italic" text-anchor="middle" textLength="30.2" lengthAdjust="spacingAndGlyphs">CD45.1</text>
<text x="170" y="321.1" font-size="12.6" font-weight="bold">H</text>
<line x1="195.6" y1="331.5" x2="195.6" y2="434.95" stroke="#111" stroke-width="1.5"/>
<line x1="192.1" y1="434.2" x2="195.6" y2="434.2" stroke="#111" stroke-width="1.5"/>
<text x="190.9" y="437.2" font-size="8.3" font-weight="bold" text-anchor="end">0</text>
<line x1="192.1" y1="408.78" x2="195.6" y2="408.78" stroke="#111" stroke-width="1.5"/>
<text x="190.9" y="411.8" font-size="8.3" font-weight="bold" text-anchor="end">25</text>
<line x1="192.1" y1="383.36" x2="195.6" y2="383.36" stroke="#111" stroke-width="1.5"/>
<text x="190.9" y="386.3" font-size="8.3" font-weight="bold" text-anchor="end">50</text>
<line x1="192.1" y1="357.94" x2="195.6" y2="357.94" stroke="#111" stroke-width="1.5"/>
<text x="190.9" y="360.9" font-size="8.3" font-weight="bold" text-anchor="end">75</text>
<line x1="192.1" y1="332.52" x2="195.6" y2="332.52" stroke="#111" stroke-width="1.5"/>
<text x="190.9" y="335.5" font-size="8.3" font-weight="bold" text-anchor="end">100</text>
<line x1="194.8" y1="434.2" x2="331" y2="434.2" stroke="#111" stroke-width="1.5"/>
<text x="178.0" y="381.4" font-size="8.9" font-weight="bold" text-anchor="middle" textLength="60" lengthAdjust="spacingAndGlyphs" transform="rotate(-90 178.0 381.4)">% marker+ cells</text>
<defs><pattern id="hb" patternUnits="userSpaceOnUse" width="3.4" height="3.4" patternTransform="rotate(-45)"><rect width="3.4" height="3.4" fill="#fff"/><rect width="2.0" height="3.4" fill="#0c2288"/></pattern><pattern id="hr" patternUnits="userSpaceOnUse" width="2.6" height="2.6" patternTransform="rotate(-45)"><rect width="2.6" height="2.6" fill="#701608"/><rect width="1.1" height="2.6" fill="#c4442a"/></pattern></defs>
<line x1="205.05" y1="344.5" x2="205.05" y2="342.3" stroke="#111" stroke-width="1.3"/>
<line x1="202.05" y1="342.3" x2="208.05" y2="342.3" stroke="#111" stroke-width="1.3"/>
<rect x="199.4" y="344.5" width="11.299999999999983" height="89.69999999999999" fill="#0a2890" stroke="#111" stroke-width="1.2"/>
<line x1="205.05" y1="434.2" x2="205.05" y2="438.0" stroke="#111" stroke-width="1.3"/>
<rect x="215.6" y="431.2" width="11.599999999999994" height="3.0" fill="#fc3606" stroke="#111" stroke-width="1.2"/>
<line x1="221.39999999999998" y1="434.2" x2="221.39999999999998" y2="438.0" stroke="#111" stroke-width="1.3"/>
<line x1="238.15" y1="334.8" x2="238.15" y2="332.9" stroke="#111" stroke-width="1.3"/>
<line x1="235.15" y1="332.9" x2="241.15" y2="332.9" stroke="#111" stroke-width="1.3"/>
<rect x="232.5" y="334.8" width="11.300000000000011" height="99.39999999999998" fill="#0a2890" stroke="#111" stroke-width="1.2"/>
<line x1="238.15" y1="434.2" x2="238.15" y2="438.0" stroke="#111" stroke-width="1.3"/>
<line x1="254.6" y1="432.5" x2="254.6" y2="430.6" stroke="#111" stroke-width="1.3"/>
<line x1="251.6" y1="430.6" x2="257.6" y2="430.6" stroke="#111" stroke-width="1.3"/>
<rect x="248.7" y="432.5" width="11.800000000000011" height="1.6999999999999886" fill="#fc3606" stroke="#111" stroke-width="1.2"/>
<line x1="254.6" y1="434.2" x2="254.6" y2="438.0" stroke="#111" stroke-width="1.3"/>
<line x1="271.45000000000005" y1="357.1" x2="271.45000000000005" y2="349.6" stroke="#111" stroke-width="1.3"/>
<line x1="268.45000000000005" y1="349.6" x2="274.45000000000005" y2="349.6" stroke="#111" stroke-width="1.3"/>
<rect x="265.6" y="357.1" width="11.699999999999989" height="77.09999999999997" fill="url(#hb)" stroke="#111" stroke-width="1.2"/>
<line x1="271.45000000000005" y1="434.2" x2="271.45000000000005" y2="438.0" stroke="#111" stroke-width="1.3"/>
<line x1="288.2" y1="414.5" x2="288.2" y2="406.4" stroke="#111" stroke-width="1.3"/>
<line x1="285.2" y1="406.4" x2="291.2" y2="406.4" stroke="#111" stroke-width="1.3"/>
<rect x="282.4" y="414.5" width="11.600000000000023" height="19.69999999999999" fill="url(#hr)" stroke="#111" stroke-width="1.2"/>
<line x1="288.2" y1="434.2" x2="288.2" y2="438.0" stroke="#111" stroke-width="1.3"/>
<line x1="304.9" y1="346.3" x2="304.9" y2="336.9" stroke="#111" stroke-width="1.3"/>
<line x1="301.9" y1="336.9" x2="307.9" y2="336.9" stroke="#111" stroke-width="1.3"/>
<rect x="299.2" y="346.3" width="11.400000000000034" height="87.89999999999998" fill="url(#hb)" stroke="#111" stroke-width="1.2"/>
<line x1="304.9" y1="434.2" x2="304.9" y2="438.0" stroke="#111" stroke-width="1.3"/>
<line x1="321.75" y1="421.2" x2="321.75" y2="411.9" stroke="#111" stroke-width="1.3"/>
<line x1="318.75" y1="411.9" x2="324.75" y2="411.9" stroke="#111" stroke-width="1.3"/>
<rect x="316" y="421.2" width="11.5" height="13.0" fill="url(#hr)" stroke="#111" stroke-width="1.2"/>
<line x1="321.75" y1="434.2" x2="321.75" y2="438.0" stroke="#111" stroke-width="1.3"/>
<path d="M197.5,330.3 V327 Q197.5,323 201.5,323 H256.5 Q260.5,323 260.5,327 V330.3" fill="none" stroke="#111" stroke-width="1.2"/>
<path d="M264.2,330.3 V327 Q264.2,323 268.2,323 H326 Q330,323 330,327 V330.3" fill="none" stroke="#111" stroke-width="1.2"/>
<text x="211.9" y="319.4" font-size="9" textLength="38.5" lengthAdjust="spacingAndGlyphs">Low dose</text>
<text x="274" y="319.4" font-size="9" textLength="40.4" lengthAdjust="spacingAndGlyphs">High dose</text>
<text x="207.7" y="485.4" font-size="7.5" font-weight="bold" textLength="45.1" lengthAdjust="spacingAndGlyphs" transform="rotate(-90 207.7 485.4)">+/+ (CD45.1)</text>
<text x="224.0" y="481.6" font-size="7.5" font-weight="bold" textLength="41.3" lengthAdjust="spacingAndGlyphs" transform="rotate(-90 224.0 481.6)">-/- (CD45.2)</text>
<text x="240.8" y="485.4" font-size="7.5" font-weight="bold" textLength="45.1" lengthAdjust="spacingAndGlyphs" transform="rotate(-90 240.8 485.4)">+/+ (CD45.1)</text>
<text x="257.2" y="481.6" font-size="7.5" font-weight="bold" textLength="41.3" lengthAdjust="spacingAndGlyphs" transform="rotate(-90 257.2 481.6)">-/- (CD45.2)</text>
<text x="274.1" y="485.4" font-size="7.5" font-weight="bold" textLength="45.1" lengthAdjust="spacingAndGlyphs" transform="rotate(-90 274.1 485.4)">+/+ (CD45.1)</text>
<text x="290.8" y="481.6" font-size="7.5" font-weight="bold" textLength="41.3" lengthAdjust="spacingAndGlyphs" transform="rotate(-90 290.8 481.6)">-/- (CD45.2)</text>
<text x="307.5" y="485.4" font-size="7.5" font-weight="bold" textLength="45.1" lengthAdjust="spacingAndGlyphs" transform="rotate(-90 307.5 485.4)">+/+ (CD45.1)</text>
<text x="324.4" y="481.6" font-size="7.5" font-weight="bold" textLength="41.3" lengthAdjust="spacingAndGlyphs" transform="rotate(-90 324.4 481.6)">-/- (CD45.2)</text>
<path d="M199.9,486.2 V487.6 Q199.9,490.6 202.9,490.6 H221.6 Q224.6,490.6 224.6,487.6 V486.2" fill="none" stroke="#111" stroke-width="1.1"/>
<path d="M233.0,486.2 V487.6 Q233.0,490.6 236.0,490.6 H254.89999999999998 Q257.9,490.6 257.9,487.6 V486.2" fill="none" stroke="#111" stroke-width="1.1"/>
<path d="M266.1,486.2 V487.6 Q266.1,490.6 269.1,490.6 H288.4 Q291.4,490.6 291.4,487.6 V486.2" fill="none" stroke="#111" stroke-width="1.1"/>
<path d="M299.7,486.2 V487.6 Q299.7,490.6 302.7,490.6 H321.9 Q324.9,490.6 324.9,487.6 V486.2" fill="none" stroke="#111" stroke-width="1.1"/>
<text x="199.2" y="502" font-size="8.9" textLength="21.3" lengthAdjust="spacingAndGlyphs">+8ws</text>
<text x="231.2" y="502" font-size="8.9" textLength="25.8" lengthAdjust="spacingAndGlyphs">+16ws</text>
<text x="268.0" y="502" font-size="8.9" textLength="21.3" lengthAdjust="spacingAndGlyphs">+8ws</text>
<text x="299.5" y="502" font-size="8.9" textLength="25.8" lengthAdjust="spacingAndGlyphs">+16ws</text>
<text x="359.6" y="320.8" font-size="12.6" font-weight="bold">I</text>
<path d="M376.2,317.3 H428.1 V369.1" fill="none" stroke="#c4c4c4" stroke-width="0.6"/>
<path d="M376.2,317.3 V369.1 H428.1" fill="none" stroke="#707070" stroke-width="0.7"/>
<path d="M376.2,369.1 v1.2 M378.8,369.1 v1.2 M381.4,369.1 v1.2 M384.0,369.1 v1.2 M386.6,369.1 v1.2 M389.2,369.1 v1.2 M391.8,369.1 v1.2 M394.4,369.1 v1.2 M397.0,369.1 v1.2 M399.6,369.1 v1.2 M402.1,369.1 v1.2 M404.7,369.1 v1.2 M407.3,369.1 v1.2 M409.9,369.1 v1.2 M412.5,369.1 v1.2 M415.1,369.1 v1.2 M417.7,369.1 v1.2 M420.3,369.1 v1.2 M422.9,369.1 v1.2 M425.5,369.1 v1.2 M428.1,369.1 v1.2 " stroke="#777" stroke-width="0.35"/>
<rect x="370.59999999999997" y="318.79999999999995" width="3.4" height="1.2" fill="#777"/>
<line x1="375.0" y1="319.4" x2="376.2" y2="319.4" stroke="#666" stroke-width="0.4"/>
<rect x="370.59999999999997" y="328.9" width="3.4" height="1.2" fill="#777"/>
<line x1="375.0" y1="329.5" x2="376.2" y2="329.5" stroke="#666" stroke-width="0.4"/>
<rect x="370.59999999999997" y="338.7" width="3.4" height="1.2" fill="#777"/>
<line x1="375.0" y1="339.3" x2="376.2" y2="339.3" stroke="#666" stroke-width="0.4"/>
<rect x="370.59999999999997" y="348.59999999999997" width="3.4" height="1.2" fill="#777"/>
<line x1="375.0" y1="349.2" x2="376.2" y2="349.2" stroke="#666" stroke-width="0.4"/>
<rect x="370.59999999999997" y="358.59999999999997" width="3.4" height="1.2" fill="#777"/>
<line x1="375.0" y1="359.2" x2="376.2" y2="359.2" stroke="#666" stroke-width="0.4"/>
<rect x="370.59999999999997" y="368.4" width="3.4" height="1.2" fill="#777"/>
<line x1="375.0" y1="369" x2="376.2" y2="369" stroke="#666" stroke-width="0.4"/>
<rect x="374.7" y="372.70000000000005" width="3.6" height="1.3" fill="#666"/>
<rect x="384.2" y="372.70000000000005" width="3.6" height="1.3" fill="#666"/>
<rect x="393.7" y="372.70000000000005" width="3.6" height="1.3" fill="#666"/>
<rect x="403.2" y="372.70000000000005" width="3.6" height="1.3" fill="#666"/>
<rect x="412.7" y="372.70000000000005" width="3.6" height="1.3" fill="#666"/>
<rect x="422.2" y="372.70000000000005" width="3.6" height="1.3" fill="#666"/>
<path fill="#111" fill-opacity="0.85" d="M392.1 363.5h.6v.6h-.6zM387.0 365.8h.6v.6h-.6zM389.5 364.6h.6v.6h-.6zM387.2 366.7h.6v.6h-.6zM390.3 364.8h.6v.6h-.6zM390.7 364.3h.6v.6h-.6zM391.9 365.7h.6v.6h-.6zM389.7 365.2h.6v.6h-.6zM389.9 366.3h.6v.6h-.6zM390.4 366.3h.6v.6h-.6zM386.6 365.7h.6v.6h-.6zM391.8 366.2h.6v.6h-.6zM387.5 365.2h.6v.6h-.6zM387.6 366.1h.6v.6h-.6zM389.5 365.4h.6v.6h-.6zM384.6 366.8h.6v.6h-.6zM391.4 364.9h.6v.6h-.6zM389.3 367.9h.6v.6h-.6zM392.9 364.9h.6v.6h-.6zM391.8 364.5h.6v.6h-.6zM392.2 364.2h.6v.6h-.6zM388.3 365.5h.6v.6h-.6zM391.7 365.7h.6v.6h-.6zM390.3 367.1h.6v.6h-.6zM387.6 365.1h.6v.6h-.6zM387.4 366.5h.6v.6h-.6zM389.4 364.9h.6v.6h-.6zM391.5 364.9h.6v.6h-.6zM391.5 365.8h.6v.6h-.6zM389.5 366.1h.6v.6h-.6zM386.3 367.3h.6v.6h-.6zM389.4 367.5h.6v.6h-.6zM394.8 363.2h.6v.6h-.6zM388.5 365.5h.6v.6h-.6zM392.4 365.1h.6v.6h-.6zM392.1 364.1h.6v.6h-.6zM389.1 366.4h.6v.6h-.6zM390.1 365.1h.6v.6h-.6zM390.1 366.6h.6v.6h-.6zM386.6 367.5h.6v.6h-.6zM393.2 363.9h.6v.6h-.6zM390.2 367.8h.6v.6h-.6zM390.2 364.6h.6v.6h-.6zM388.2 369.2h.6v.6h-.6zM391.3 364.7h.6v.6h-.6zM389.6 365.1h.6v.6h-.6zM390.1 364.7h.6v.6h-.6zM388.8 366.7h.6v.6h-.6zM391.3 366.2h.6v.6h-.6zM387.0 366.5h.6v.6h-.6zM392.2 364.4h.6v.6h-.6zM388.4 364.7h.6v.6h-.6zM390.5 365.1h.6v.6h-.6zM390.6 366.0h.6v.6h-.6zM386.9 366.4h.6v.6h-.6zM394.3 365.1h.6v.6h-.6zM392.8 365.3h.6v.6h-.6zM378.3 365.4h.6v.6h-.6zM378.8 367.6h.6v.6h-.6zM379.5 367.5h.6v.6h-.6zM378.2 366.3h.6v.6h-.6zM379.4 366.6h.6v.6h-.6zM377.2 365.4h.6v.6h-.6zM378.5 367.3h.6v.6h-.6zM378.7 367.9h.6v.6h-.6zM379.5 366.2h.6v.6h-.6zM378.5 364.7h.6v.6h-.6zM378.7 365.0h.6v.6h-.6zM377.6 365.8h.6v.6h-.6zM378.3 366.7h.6v.6h-.6z"/>
<path fill="#111" fill-opacity="0.85" d="M394.9 364.2h.6v.6h-.6zM384.8 366.8h.6v.6h-.6zM393.2 366.9h.6v.6h-.6zM387.3 368.1h.6v.6h-.6zM390.7 364.6h.6v.6h-.6zM389.9 364.5h.6v.6h-.6zM393.1 366.0h.6v.6h-.6zM381.2 368.5h.6v.6h-.6zM387.0 365.0h.6v.6h-.6zM389.8 365.8h.6v.6h-.6zM390.1 365.3h.6v.6h-.6zM390.6 365.6h.6v.6h-.6zM389.4 364.9h.6v.6h-.6zM388.0 366.7h.6v.6h-.6zM385.1 366.9h.6v.6h-.6zM391.7 364.9h.6v.6h-.6zM387.6 366.5h.6v.6h-.6zM387.0 366.7h.6v.6h-.6zM389.1 365.6h.6v.6h-.6zM388.4 365.9h.6v.6h-.6zM391.4 363.6h.6v.6h-.6zM389.4 364.7h.6v.6h-.6zM391.4 365.6h.6v.6h-.6zM387.8 365.4h.6v.6h-.6zM388.1 364.3h.6v.6h-.6zM385.1 365.8h.6v.6h-.6zM389.7 366.0h.6v.6h-.6zM387.4 367.1h.6v.6h-.6zM388.0 364.5h.6v.6h-.6zM386.6 366.5h.6v.6h-.6zM391.5 366.2h.6v.6h-.6zM390.0 364.9h.6v.6h-.6zM391.0 362.3h.6v.6h-.6zM387.3 365.1h.6v.6h-.6zM393.3 363.8h.6v.6h-.6zM390.5 364.7h.6v.6h-.6zM392.6 365.2h.6v.6h-.6zM391.0 367.0h.6v.6h-.6zM393.2 365.8h.6v.6h-.6zM392.4 365.1h.6v.6h-.6zM388.1 367.5h.6v.6h-.6zM389.1 366.1h.6v.6h-.6zM388.4 366.6h.6v.6h-.6zM387.1 364.0h.6v.6h-.6zM387.1 366.2h.6v.6h-.6zM394.4 363.6h.6v.6h-.6zM388.5 365.0h.6v.6h-.6zM391.0 366.2h.6v.6h-.6zM391.4 364.0h.6v.6h-.6zM390.1 365.7h.6v.6h-.6zM391.6 363.9h.6v.6h-.6zM388.3 366.2h.6v.6h-.6zM387.7 364.5h.6v.6h-.6zM388.0 366.1h.6v.6h-.6zM389.4 366.6h.6v.6h-.6zM387.2 365.5h.6v.6h-.6zM388.5 366.3h.6v.6h-.6zM377.6 367.1h.6v.6h-.6zM377.6 365.4h.6v.6h-.6zM379.4 365.8h.6v.6h-.6zM377.7 365.9h.6v.6h-.6zM379.6 367.1h.6v.6h-.6zM378.6 368.4h.6v.6h-.6zM379.5 365.2h.6v.6h-.6zM376.7 367.2h.6v.6h-.6zM379.1 363.8h.6v.6h-.6zM378.3 365.6h.6v.6h-.6zM378.4 366.4h.6v.6h-.6zM375.9 366.5h.6v.6h-.6zM377.9 366.3h.6v.6h-.6z"/>
<path fill="#111" fill-opacity="0.85" d="M384.0 368.1h.6v.6h-.6zM390.7 363.0h.6v.6h-.6zM392.7 363.2h.6v.6h-.6zM390.5 363.4h.6v.6h-.6zM387.2 367.6h.6v.6h-.6zM385.7 367.6h.6v.6h-.6zM386.8 367.3h.6v.6h-.6zM387.8 365.5h.6v.6h-.6zM392.7 366.2h.6v.6h-.6zM389.0 364.7h.6v.6h-.6zM385.5 366.4h.6v.6h-.6zM390.0 366.7h.6v.6h-.6zM390.2 362.3h.6v.6h-.6zM385.9 364.9h.6v.6h-.6zM391.3 364.3h.6v.6h-.6zM392.0 365.6h.6v.6h-.6zM385.9 367.1h.6v.6h-.6zM389.2 365.0h.6v.6h-.6zM391.6 364.1h.6v.6h-.6zM390.7 366.1h.6v.6h-.6zM384.1 367.4h.6v.6h-.6zM387.1 366.9h.6v.6h-.6zM393.8 363.5h.6v.6h-.6zM390.6 366.6h.6v.6h-.6zM390.8 364.6h.6v.6h-.6zM386.8 367.9h.6v.6h-.6zM390.6 365.9h.6v.6h-.6zM388.7 365.6h.6v.6h-.6zM394.6 363.1h.6v.6h-.6zM392.5 361.4h.6v.6h-.6zM391.9 366.5h.6v.6h-.6zM387.1 367.5h.6v.6h-.6zM389.3 365.0h.6v.6h-.6zM393.1 365.2h.6v.6h-.6zM390.3 368.8h.6v.6h-.6zM389.9 365.0h.6v.6h-.6zM387.1 366.8h.6v.6h-.6zM391.9 364.7h.6v.6h-.6zM393.6 364.3h.6v.6h-.6zM388.6 365.2h.6v.6h-.6zM392.8 363.9h.6v.6h-.6zM386.9 365.4h.6v.6h-.6zM386.9 366.6h.6v.6h-.6zM393.9 363.9h.6v.6h-.6zM385.3 367.7h.6v.6h-.6zM387.5 365.6h.6v.6h-.6zM391.5 364.4h.6v.6h-.6zM387.7 366.6h.6v.6h-.6zM392.8 364.1h.6v.6h-.6zM392.4 362.2h.6v.6h-.6zM390.6 366.1h.6v.6h-.6zM390.8 362.9h.6v.6h-.6zM392.0 364.5h.6v.6h-.6zM388.0 365.5h.6v.6h-.6zM386.6 366.4h.6v.6h-.6zM392.1 366.9h.6v.6h-.6zM378.7 367.2h.6v.6h-.6zM378.6 366.3h.6v.6h-.6zM378.0 367.2h.6v.6h-.6zM377.6 366.4h.6v.6h-.6zM377.3 363.8h.6v.6h-.6zM380.0 366.3h.6v.6h-.6zM379.1 365.6h.6v.6h-.6zM378.7 366.7h.6v.6h-.6zM378.4 367.9h.6v.6h-.6zM378.1 366.1h.6v.6h-.6zM379.7 364.3h.6v.6h-.6zM378.3 368.0h.6v.6h-.6zM377.5 366.4h.6v.6h-.6zM377.9 364.6h.6v.6h-.6z"/>
<path fill="#111" fill-opacity="0.85" d="M386.5 365.0h.6v.6h-.6zM390.2 365.3h.6v.6h-.6zM388.9 366.8h.6v.6h-.6zM390.7 366.2h.6v.6h-.6zM390.9 366.0h.6v.6h-.6zM390.4 366.1h.6v.6h-.6zM391.6 366.3h.6v.6h-.6zM394.1 364.8h.6v.6h-.6zM388.8 365.4h.6v.6h-.6zM392.5 363.6h.6v.6h-.6zM392.6 363.2h.6v.6h-.6zM388.9 367.9h.6v.6h-.6zM390.4 363.1h.6v.6h-.6zM383.7 368.2h.6v.6h-.6zM390.4 363.4h.6v.6h-.6zM386.3 365.5h.6v.6h-.6zM390.6 366.0h.6v.6h-.6zM387.1 364.8h.6v.6h-.6zM388.0 366.1h.6v.6h-.6zM391.9 366.5h.6v.6h-.6zM391.5 364.2h.6v.6h-.6zM391.3 364.6h.6v.6h-.6zM393.2 365.8h.6v.6h-.6zM391.2 365.1h.6v.6h-.6zM385.7 367.4h.6v.6h-.6zM391.0 366.0h.6v.6h-.6zM392.0 365.3h.6v.6h-.6zM385.8 369.1h.6v.6h-.6zM388.0 367.3h.6v.6h-.6zM391.3 362.3h.6v.6h-.6zM390.9 361.8h.6v.6h-.6zM385.0 366.1h.6v.6h-.6zM394.2 363.4h.6v.6h-.6zM385.9 365.9h.6v.6h-.6zM384.4 366.1h.6v.6h-.6zM389.9 365.4h.6v.6h-.6zM392.0 364.9h.6v.6h-.6zM388.2 366.1h.6v.6h-.6zM390.7 366.4h.6v.6h-.6zM392.5 364.7h.6v.6h-.6zM386.9 366.8h.6v.6h-.6zM390.8 365.6h.6v.6h-.6zM388.9 365.9h.6v.6h-.6zM387.6 365.9h.6v.6h-.6zM390.4 366.0h.6v.6h-.6zM391.0 364.8h.6v.6h-.6zM391.1 365.4h.6v.6h-.6zM387.1 366.0h.6v.6h-.6zM391.1 364.8h.6v.6h-.6zM391.2 365.5h.6v.6h-.6zM392.6 364.0h.6v.6h-.6zM391.5 365.1h.6v.6h-.6zM392.2 363.7h.6v.6h-.6zM389.8 366.5h.6v.6h-.6zM388.3 366.4h.6v.6h-.6zM391.6 365.6h.6v.6h-.6zM377.7 366.2h.6v.6h-.6zM379.0 366.3h.6v.6h-.6zM377.6 365.6h.6v.6h-.6zM378.7 366.3h.6v.6h-.6zM379.8 365.2h.6v.6h-.6zM377.2 366.8h.6v.6h-.6zM377.5 365.1h.6v.6h-.6zM377.9 367.4h.6v.6h-.6zM378.8 366.4h.6v.6h-.6zM378.3 365.6h.6v.6h-.6zM379.4 364.5h.6v.6h-.6zM379.6 369.0h.6v.6h-.6zM377.6 365.3h.6v.6h-.6zM377.7 368.9h.6v.6h-.6z"/>
<path fill="#111" fill-opacity="0.85" d="M389.9 366.9h.6v.6h-.6zM391.0 363.8h.6v.6h-.6zM389.7 364.8h.6v.6h-.6zM389.2 366.3h.6v.6h-.6zM388.8 365.6h.6v.6h-.6zM391.5 365.7h.6v.6h-.6zM387.8 366.5h.6v.6h-.6zM389.7 366.3h.6v.6h-.6zM387.0 369.3h.6v.6h-.6zM386.5 366.5h.6v.6h-.6zM391.3 363.2h.6v.6h-.6zM389.6 365.3h.6v.6h-.6zM385.6 368.0h.6v.6h-.6zM390.6 366.4h.6v.6h-.6zM393.8 367.1h.6v.6h-.6zM390.9 365.2h.6v.6h-.6zM386.6 365.5h.6v.6h-.6zM388.6 367.6h.6v.6h-.6zM389.4 367.2h.6v.6h-.6zM386.3 367.2h.6v.6h-.6zM390.1 364.2h.6v.6h-.6zM392.7 366.2h.6v.6h-.6zM389.9 363.5h.6v.6h-.6zM389.4 367.2h.6v.6h-.6zM391.8 363.3h.6v.6h-.6zM392.6 364.4h.6v.6h-.6zM392.5 365.4h.6v.6h-.6zM386.4 365.8h.6v.6h-.6zM390.8 364.5h.6v.6h-.6zM388.4 367.2h.6v.6h-.6zM393.6 363.8h.6v.6h-.6zM387.8 368.5h.6v.6h-.6zM388.0 368.6h.6v.6h-.6zM392.1 367.2h.6v.6h-.6zM384.6 368.3h.6v.6h-.6zM388.5 366.7h.6v.6h-.6zM388.6 364.8h.6v.6h-.6zM390.3 364.8h.6v.6h-.6zM389.0 364.5h.6v.6h-.6zM389.5 365.2h.6v.6h-.6zM384.2 368.1h.6v.6h-.6zM387.9 367.1h.6v.6h-.6zM390.8 366.4h.6v.6h-.6zM392.4 364.8h.6v.6h-.6zM389.5 366.2h.6v.6h-.6zM387.5 365.7h.6v.6h-.6zM389.4 366.2h.6v.6h-.6zM391.7 362.4h.6v.6h-.6zM393.2 363.5h.6v.6h-.6zM387.2 366.8h.6v.6h-.6zM389.4 366.3h.6v.6h-.6zM387.7 367.5h.6v.6h-.6zM391.8 363.9h.6v.6h-.6zM389.4 367.2h.6v.6h-.6zM386.2 365.6h.6v.6h-.6zM386.0 365.2h.6v.6h-.6zM378.7 366.5h.6v.6h-.6zM379.2 368.8h.6v.6h-.6zM379.4 365.7h.6v.6h-.6zM378.1 365.2h.6v.6h-.6zM379.0 366.3h.6v.6h-.6zM378.8 366.0h.6v.6h-.6zM378.5 367.6h.6v.6h-.6zM378.5 366.0h.6v.6h-.6zM377.5 370.2h.6v.6h-.6zM378.9 367.0h.6v.6h-.6zM378.1 364.7h.6v.6h-.6zM379.1 363.1h.6v.6h-.6zM378.1 370.0h.6v.6h-.6zM378.9 365.5h.6v.6h-.6z"/>
<path fill="#111" fill-opacity="0.85" d="M390.0 363.9h.6v.6h-.6zM392.8 366.1h.6v.6h-.6zM393.0 364.8h.6v.6h-.6zM388.4 366.1h.6v.6h-.6zM391.7 362.8h.6v.6h-.6zM391.0 363.9h.6v.6h-.6zM388.8 365.8h.6v.6h-.6zM396.8 361.4h.6v.6h-.6zM386.4 365.9h.6v.6h-.6zM390.4 366.3h.6v.6h-.6zM394.2 365.6h.6v.6h-.6zM385.8 366.8h.6v.6h-.6zM389.1 366.1h.6v.6h-.6zM387.4 365.3h.6v.6h-.6zM392.6 364.8h.6v.6h-.6zM389.5 364.8h.6v.6h-.6zM386.9 364.5h.6v.6h-.6zM392.9 363.9h.6v.6h-.6zM390.6 365.2h.6v.6h-.6zM385.9 366.1h.6v.6h-.6zM393.3 364.6h.6v.6h-.6zM387.0 367.1h.6v.6h-.6zM389.3 365.5h.6v.6h-.6zM390.8 363.1h.6v.6h-.6zM390.1 367.6h.6v.6h-.6zM390.6 365.7h.6v.6h-.6zM393.4 364.8h.6v.6h-.6zM391.2 365.6h.6v.6h-.6zM393.8 361.1h.6v.6h-.6zM388.5 365.5h.6v.6h-.6zM387.6 367.0h.6v.6h-.6zM393.6 363.7h.6v.6h-.6zM388.2 366.3h.6v.6h-.6zM389.1 365.5h.6v.6h-.6zM388.0 367.6h.6v.6h-.6zM388.8 364.9h.6v.6h-.6zM390.1 365.4h.6v.6h-.6zM392.4 364.5h.6v.6h-.6zM389.1 366.7h.6v.6h-.6zM386.3 364.9h.6v.6h-.6zM393.5 364.3h.6v.6h-.6zM388.5 365.5h.6v.6h-.6zM394.1 364.8h.6v.6h-.6zM389.6 367.0h.6v.6h-.6zM387.7 366.6h.6v.6h-.6zM392.0 364.7h.6v.6h-.6zM388.5 364.8h.6v.6h-.6zM388.0 367.0h.6v.6h-.6zM384.7 367.5h.6v.6h-.6zM389.2 364.7h.6v.6h-.6zM389.7 365.8h.6v.6h-.6zM391.0 365.6h.6v.6h-.6zM392.0 366.2h.6v.6h-.6zM388.5 365.4h.6v.6h-.6zM396.4 363.0h.6v.6h-.6zM391.3 366.1h.6v.6h-.6zM378.6 366.8h.6v.6h-.6zM378.9 366.2h.6v.6h-.6zM378.7 365.3h.6v.6h-.6zM377.9 366.4h.6v.6h-.6zM378.1 367.4h.6v.6h-.6zM378.4 366.2h.6v.6h-.6zM378.2 368.5h.6v.6h-.6zM380.3 366.7h.6v.6h-.6zM377.9 366.1h.6v.6h-.6zM377.7 364.0h.6v.6h-.6zM378.0 365.9h.6v.6h-.6zM378.5 367.3h.6v.6h-.6zM377.6 365.0h.6v.6h-.6zM378.5 365.9h.6v.6h-.6z"/>
<path fill="#111" fill-opacity="0.85" d="M387.8 365.6h.6v.6h-.6zM394.1 361.9h.6v.6h-.6zM392.1 364.4h.6v.6h-.6zM389.9 366.1h.6v.6h-.6zM394.1 364.3h.6v.6h-.6zM394.2 366.8h.6v.6h-.6zM389.4 365.6h.6v.6h-.6zM390.5 364.6h.6v.6h-.6zM390.1 366.9h.6v.6h-.6zM385.6 365.9h.6v.6h-.6zM387.9 365.6h.6v.6h-.6zM391.1 366.5h.6v.6h-.6zM386.9 365.6h.6v.6h-.6zM386.8 367.8h.6v.6h-.6zM386.6 366.4h.6v.6h-.6zM392.5 365.0h.6v.6h-.6zM389.9 368.6h.6v.6h-.6zM391.7 365.3h.6v.6h-.6zM389.4 367.4h.6v.6h-.6zM388.0 365.6h.6v.6h-.6zM392.1 364.3h.6v.6h-.6zM387.2 366.0h.6v.6h-.6zM386.0 367.2h.6v.6h-.6zM389.1 363.1h.6v.6h-.6zM389.9 364.9h.6v.6h-.6zM390.2 364.2h.6v.6h-.6zM389.8 368.3h.6v.6h-.6zM388.0 366.4h.6v.6h-.6zM392.7 364.3h.6v.6h-.6zM386.3 367.0h.6v.6h-.6zM391.1 363.2h.6v.6h-.6zM389.3 366.6h.6v.6h-.6zM387.3 367.5h.6v.6h-.6zM389.4 366.1h.6v.6h-.6zM384.9 367.6h.6v.6h-.6zM387.6 367.1h.6v.6h-.6zM390.8 366.9h.6v.6h-.6zM388.3 368.6h.6v.6h-.6zM390.5 364.0h.6v.6h-.6zM389.7 366.9h.6v.6h-.6zM388.5 367.0h.6v.6h-.6zM389.9 366.0h.6v.6h-.6zM391.5 363.6h.6v.6h-.6zM387.1 365.8h.6v.6h-.6zM389.4 364.3h.6v.6h-.6zM392.2 364.5h.6v.6h-.6zM388.1 365.0h.6v.6h-.6zM391.1 364.1h.6v.6h-.6zM390.4 365.7h.6v.6h-.6zM392.6 366.6h.6v.6h-.6zM391.2 364.1h.6v.6h-.6zM386.9 365.6h.6v.6h-.6zM388.7 367.1h.6v.6h-.6zM393.1 365.8h.6v.6h-.6zM386.9 367.8h.6v.6h-.6zM390.1 365.5h.6v.6h-.6zM378.4 365.9h.6v.6h-.6zM380.1 367.4h.6v.6h-.6zM377.1 366.4h.6v.6h-.6zM378.2 368.6h.6v.6h-.6zM378.1 367.1h.6v.6h-.6zM377.5 368.7h.6v.6h-.6zM380.3 366.7h.6v.6h-.6zM380.0 366.3h.6v.6h-.6zM378.0 366.1h.6v.6h-.6zM379.2 366.1h.6v.6h-.6zM378.9 365.7h.6v.6h-.6zM377.9 365.7h.6v.6h-.6zM378.1 367.8h.6v.6h-.6zM379.7 366.5h.6v.6h-.6z"/>
<path fill="#111" fill-opacity="0.85" d="M392.4 364.4h.6v.6h-.6zM389.6 365.5h.6v.6h-.6zM392.5 363.9h.6v.6h-.6zM386.9 365.6h.6v.6h-.6zM389.7 365.7h.6v.6h-.6zM387.7 365.0h.6v.6h-.6zM385.7 367.3h.6v.6h-.6zM393.9 365.1h.6v.6h-.6zM389.9 365.5h.6v.6h-.6zM390.4 365.8h.6v.6h-.6zM390.5 363.8h.6v.6h-.6zM386.0 367.1h.6v.6h-.6zM388.1 366.3h.6v.6h-.6zM389.0 367.1h.6v.6h-.6zM388.4 366.4h.6v.6h-.6zM392.2 364.1h.6v.6h-.6zM389.7 364.8h.6v.6h-.6zM390.0 365.4h.6v.6h-.6zM392.1 367.0h.6v.6h-.6zM386.6 365.2h.6v.6h-.6zM392.8 364.4h.6v.6h-.6zM388.8 363.3h.6v.6h-.6zM391.4 364.6h.6v.6h-.6zM393.6 364.7h.6v.6h-.6zM390.7 366.1h.6v.6h-.6zM389.1 365.7h.6v.6h-.6zM393.1 365.6h.6v.6h-.6zM390.5 365.5h.6v.6h-.6zM390.7 365.6h.6v.6h-.6zM389.0 365.2h.6v.6h-.6zM387.4 367.5h.6v.6h-.6zM392.2 363.6h.6v.6h-.6zM390.1 365.1h.6v.6h-.6zM390.0 366.8h.6v.6h-.6zM388.2 365.0h.6v.6h-.6zM392.1 363.1h.6v.6h-.6zM392.1 363.7h.6v.6h-.6zM382.9 368.3h.6v.6h-.6zM392.7 364.7h.6v.6h-.6zM391.1 364.2h.6v.6h-.6zM389.4 367.2h.6v.6h-.6zM392.2 366.0h.6v.6h-.6zM393.0 365.7h.6v.6h-.6zM388.1 365.5h.6v.6h-.6zM391.2 365.1h.6v.6h-.6zM387.6 367.6h.6v.6h-.6zM391.9 365.4h.6v.6h-.6zM384.1 366.1h.6v.6h-.6zM388.0 366.1h.6v.6h-.6zM391.8 365.6h.6v.6h-.6zM392.0 365.1h.6v.6h-.6zM392.7 366.0h.6v.6h-.6zM389.2 364.8h.6v.6h-.6zM388.7 366.8h.6v.6h-.6zM385.7 365.2h.6v.6h-.6zM392.4 363.5h.6v.6h-.6zM379.5 365.7h.6v.6h-.6zM377.1 368.2h.6v.6h-.6zM378.5 364.7h.6v.6h-.6zM378.4 367.1h.6v.6h-.6zM378.3 367.7h.6v.6h-.6zM377.9 365.1h.6v.6h-.6zM376.7 367.9h.6v.6h-.6zM379.5 365.5h.6v.6h-.6zM378.8 364.8h.6v.6h-.6zM379.5 367.6h.6v.6h-.6zM379.2 368.7h.6v.6h-.6zM379.4 366.7h.6v.6h-.6zM379.3 367.4h.6v.6h-.6zM378.0 367.4h.6v.6h-.6z"/>
<path fill="#111" fill-opacity="0.42" d="M393.0 351.5h.6v.6h-.6zM391.8 355.4h.6v.6h-.6zM394.0 351.6h.6v.6h-.6zM397.1 349.7h.6v.6h-.6zM390.7 351.6h.6v.6h-.6zM395.2 356.3h.6v.6h-.6zM394.8 355.6h.6v.6h-.6zM392.5 353.7h.6v.6h-.6zM387.4 352.6h.6v.6h-.6zM388.4 350.4h.6v.6h-.6zM392.3 353.5h.6v.6h-.6zM399.0 354.0h.6v.6h-.6zM389.9 353.0h.6v.6h-.6zM394.4 354.4h.6v.6h-.6zM398.1 354.7h.6v.6h-.6zM398.1 353.9h.6v.6h-.6zM391.9 355.8h.6v.6h-.6zM392.5 350.8h.6v.6h-.6zM394.7 356.5h.6v.6h-.6zM395.5 352.5h.6v.6h-.6zM391.6 350.8h.6v.6h-.6zM394.1 348.9h.6v.6h-.6zM399.1 355.5h.6v.6h-.6zM396.7 349.8h.6v.6h-.6zM390.1 352.0h.6v.6h-.6zM391.6 351.4h.6v.6h-.6zM393.1 352.1h.6v.6h-.6zM393.3 352.8h.6v.6h-.6zM393.0 351.1h.6v.6h-.6zM394.4 352.0h.6v.6h-.6zM393.5 361.2h.6v.6h-.6zM397.8 358.9h.6v.6h-.6zM391.9 359.6h.6v.6h-.6zM391.6 353.4h.6v.6h-.6zM391.6 352.9h.6v.6h-.6zM388.4 353.8h.6v.6h-.6zM391.1 352.2h.6v.6h-.6zM394.0 345.7h.6v.6h-.6zM393.7 355.1h.6v.6h-.6zM391.4 350.9h.6v.6h-.6zM393.9 354.7h.6v.6h-.6zM391.8 351.3h.6v.6h-.6zM394.1 352.1h.6v.6h-.6zM396.7 356.9h.6v.6h-.6zM393.6 354.1h.6v.6h-.6zM391.2 357.6h.6v.6h-.6zM392.2 350.0h.6v.6h-.6zM395.5 354.4h.6v.6h-.6zM394.9 351.0h.6v.6h-.6zM391.7 351.1h.6v.6h-.6zM393.4 354.9h.6v.6h-.6zM389.3 354.0h.6v.6h-.6zM392.1 357.2h.6v.6h-.6zM391.6 354.7h.6v.6h-.6zM396.2 352.4h.6v.6h-.6zM392.2 354.5h.6v.6h-.6zM393.3 355.4h.6v.6h-.6zM395.9 355.9h.6v.6h-.6zM397.3 355.8h.6v.6h-.6zM393.9 352.1h.6v.6h-.6zM391.4 351.4h.6v.6h-.6zM392.1 357.6h.6v.6h-.6zM391.0 354.8h.6v.6h-.6zM390.1 350.2h.6v.6h-.6zM394.4 353.3h.6v.6h-.6zM392.7 359.2h.6v.6h-.6zM392.8 345.7h.6v.6h-.6zM397.9 360.8h.6v.6h-.6zM391.8 352.9h.6v.6h-.6zM390.7 353.6h.6v.6h-.6zM393.3 357.4h.6v.6h-.6zM394.5 355.5h.6v.6h-.6zM392.8 354.3h.6v.6h-.6zM395.6 352.9h.6v.6h-.6zM392.2 351.2h.6v.6h-.6z"/>
<path fill="#111" fill-opacity="0.42" d="M391.5 354.7h.6v.6h-.6zM395.8 350.5h.6v.6h-.6zM393.2 354.2h.6v.6h-.6zM395.7 355.3h.6v.6h-.6zM392.7 357.7h.6v.6h-.6zM395.7 351.3h.6v.6h-.6zM394.5 355.3h.6v.6h-.6zM396.9 355.6h.6v.6h-.6zM395.5 353.8h.6v.6h-.6zM392.1 359.3h.6v.6h-.6zM392.2 350.1h.6v.6h-.6zM392.2 349.7h.6v.6h-.6zM397.7 352.4h.6v.6h-.6zM392.5 354.6h.6v.6h-.6zM392.3 355.0h.6v.6h-.6zM390.3 354.5h.6v.6h-.6zM393.8 353.4h.6v.6h-.6zM391.5 355.6h.6v.6h-.6zM393.9 357.0h.6v.6h-.6zM389.3 353.3h.6v.6h-.6zM390.6 348.4h.6v.6h-.6zM392.3 348.4h.6v.6h-.6zM392.3 349.2h.6v.6h-.6zM392.1 355.1h.6v.6h-.6zM393.4 346.0h.6v.6h-.6zM392.8 355.4h.6v.6h-.6zM389.8 350.7h.6v.6h-.6zM396.5 353.3h.6v.6h-.6zM393.9 358.0h.6v.6h-.6zM389.4 347.9h.6v.6h-.6zM391.4 349.2h.6v.6h-.6zM391.3 348.5h.6v.6h-.6zM391.8 355.5h.6v.6h-.6zM393.7 353.3h.6v.6h-.6zM392.4 353.6h.6v.6h-.6zM389.6 350.9h.6v.6h-.6zM395.9 358.8h.6v.6h-.6zM389.2 351.6h.6v.6h-.6zM389.4 352.1h.6v.6h-.6zM393.7 353.9h.6v.6h-.6zM396.2 353.6h.6v.6h-.6zM393.9 355.6h.6v.6h-.6zM394.9 355.1h.6v.6h-.6zM395.8 355.5h.6v.6h-.6zM394.8 353.0h.6v.6h-.6zM393.0 352.4h.6v.6h-.6zM390.2 355.0h.6v.6h-.6zM392.2 350.6h.6v.6h-.6zM396.6 356.6h.6v.6h-.6zM392.1 353.1h.6v.6h-.6zM391.3 350.1h.6v.6h-.6zM391.0 350.9h.6v.6h-.6zM394.1 354.4h.6v.6h-.6zM393.9 359.5h.6v.6h-.6zM390.0 349.9h.6v.6h-.6zM391.0 343.3h.6v.6h-.6zM395.4 353.4h.6v.6h-.6zM390.2 353.9h.6v.6h-.6zM393.4 355.0h.6v.6h-.6zM391.1 347.7h.6v.6h-.6zM388.2 350.7h.6v.6h-.6zM394.9 357.1h.6v.6h-.6zM391.7 356.6h.6v.6h-.6zM389.3 354.7h.6v.6h-.6zM392.1 356.8h.6v.6h-.6zM390.6 358.0h.6v.6h-.6zM390.4 354.8h.6v.6h-.6zM393.1 356.6h.6v.6h-.6zM392.3 357.0h.6v.6h-.6zM393.5 352.9h.6v.6h-.6zM388.0 353.0h.6v.6h-.6zM390.1 356.7h.6v.6h-.6zM393.3 352.1h.6v.6h-.6zM396.3 352.1h.6v.6h-.6zM395.3 352.8h.6v.6h-.6z"/>
<path fill="#111" fill-opacity="0.42" d="M388.6 351.9h.6v.6h-.6zM391.0 352.3h.6v.6h-.6zM397.9 357.2h.6v.6h-.6zM396.1 357.6h.6v.6h-.6zM396.6 355.3h.6v.6h-.6zM393.9 355.0h.6v.6h-.6zM393.2 359.1h.6v.6h-.6zM397.1 355.2h.6v.6h-.6zM394.7 350.8h.6v.6h-.6zM397.2 356.9h.6v.6h-.6zM394.3 353.8h.6v.6h-.6zM389.3 348.5h.6v.6h-.6zM395.4 355.0h.6v.6h-.6zM395.7 354.5h.6v.6h-.6zM388.4 355.8h.6v.6h-.6zM394.5 358.2h.6v.6h-.6zM393.6 350.9h.6v.6h-.6zM398.9 358.5h.6v.6h-.6zM393.4 354.8h.6v.6h-.6zM390.9 353.7h.6v.6h-.6zM390.6 350.3h.6v.6h-.6zM394.4 352.7h.6v.6h-.6zM394.9 355.2h.6v.6h-.6zM393.6 354.6h.6v.6h-.6zM393.0 349.3h.6v.6h-.6zM394.1 350.2h.6v.6h-.6zM391.7 355.3h.6v.6h-.6zM391.5 356.8h.6v.6h-.6zM395.0 358.3h.6v.6h-.6zM394.7 356.4h.6v.6h-.6zM394.1 356.6h.6v.6h-.6zM392.5 352.5h.6v.6h-.6zM396.3 356.1h.6v.6h-.6zM387.6 349.8h.6v.6h-.6zM390.4 352.5h.6v.6h-.6zM391.3 353.6h.6v.6h-.6zM393.2 350.6h.6v.6h-.6zM394.0 357.6h.6v.6h-.6zM394.5 354.0h.6v.6h-.6zM392.8 349.0h.6v.6h-.6zM394.1 361.1h.6v.6h-.6zM395.0 352.0h.6v.6h-.6zM388.5 354.2h.6v.6h-.6zM396.5 354.3h.6v.6h-.6zM395.1 355.6h.6v.6h-.6zM392.1 359.9h.6v.6h-.6zM394.8 353.9h.6v.6h-.6zM395.4 353.8h.6v.6h-.6zM397.2 360.5h.6v.6h-.6zM395.9 354.2h.6v.6h-.6zM397.2 360.5h.6v.6h-.6zM396.1 358.7h.6v.6h-.6zM394.1 347.3h.6v.6h-.6zM391.3 356.3h.6v.6h-.6zM393.9 351.7h.6v.6h-.6zM393.9 356.8h.6v.6h-.6zM391.4 358.5h.6v.6h-.6zM393.1 354.1h.6v.6h-.6zM393.9 352.8h.6v.6h-.6zM392.5 352.4h.6v.6h-.6zM393.0 350.6h.6v.6h-.6zM390.3 350.2h.6v.6h-.6zM396.7 355.9h.6v.6h-.6zM390.1 355.3h.6v.6h-.6zM391.9 355.4h.6v.6h-.6zM389.1 351.1h.6v.6h-.6zM396.0 348.7h.6v.6h-.6zM393.6 354.1h.6v.6h-.6zM392.4 353.6h.6v.6h-.6zM392.4 354.0h.6v.6h-.6zM393.4 356.0h.6v.6h-.6zM398.1 351.8h.6v.6h-.6zM392.6 354.7h.6v.6h-.6zM394.9 352.2h.6v.6h-.6zM397.2 353.5h.6v.6h-.6z"/>
<path fill="#111" fill-opacity="0.42" d="M396.0 355.9h.6v.6h-.6zM389.2 353.8h.6v.6h-.6zM392.0 349.5h.6v.6h-.6zM391.0 357.5h.6v.6h-.6zM396.7 353.1h.6v.6h-.6zM392.2 354.3h.6v.6h-.6zM391.1 356.0h.6v.6h-.6zM392.2 357.1h.6v.6h-.6zM391.1 350.9h.6v.6h-.6zM392.3 356.0h.6v.6h-.6zM393.0 359.3h.6v.6h-.6zM390.1 354.9h.6v.6h-.6zM395.9 351.9h.6v.6h-.6zM391.8 355.6h.6v.6h-.6zM395.3 353.8h.6v.6h-.6zM398.3 361.0h.6v.6h-.6zM392.6 355.4h.6v.6h-.6zM394.7 361.8h.6v.6h-.6zM391.0 349.7h.6v.6h-.6zM391.0 354.5h.6v.6h-.6zM392.2 352.7h.6v.6h-.6zM391.2 351.7h.6v.6h-.6zM387.0 354.8h.6v.6h-.6zM397.1 356.5h.6v.6h-.6zM391.9 352.1h.6v.6h-.6zM394.0 353.4h.6v.6h-.6zM390.9 346.5h.6v.6h-.6zM392.2 356.3h.6v.6h-.6zM392.8 358.3h.6v.6h-.6zM395.7 353.9h.6v.6h-.6zM393.3 359.1h.6v.6h-.6zM390.3 352.7h.6v.6h-.6zM389.7 355.2h.6v.6h-.6zM395.2 355.7h.6v.6h-.6zM394.8 355.1h.6v.6h-.6zM395.4 355.1h.6v.6h-.6zM395.1 357.1h.6v.6h-.6zM390.5 351.7h.6v.6h-.6zM394.2 352.4h.6v.6h-.6zM394.4 356.5h.6v.6h-.6zM391.4 351.4h.6v.6h-.6zM388.9 349.7h.6v.6h-.6zM395.3 351.4h.6v.6h-.6zM394.1 356.3h.6v.6h-.6zM389.8 348.8h.6v.6h-.6zM393.2 358.8h.6v.6h-.6zM391.2 357.2h.6v.6h-.6zM393.9 354.9h.6v.6h-.6zM393.3 354.8h.6v.6h-.6zM392.9 353.8h.6v.6h-.6zM394.8 355.7h.6v.6h-.6zM395.0 356.8h.6v.6h-.6zM396.1 353.2h.6v.6h-.6zM394.8 358.8h.6v.6h-.6zM391.8 345.7h.6v.6h-.6zM393.8 357.8h.6v.6h-.6zM393.1 355.3h.6v.6h-.6zM390.8 354.7h.6v.6h-.6zM397.9 358.8h.6v.6h-.6zM392.1 353.1h.6v.6h-.6zM396.4 352.3h.6v.6h-.6zM388.9 349.4h.6v.6h-.6zM394.5 352.8h.6v.6h-.6zM392.7 352.5h.6v.6h-.6zM396.4 357.4h.6v.6h-.6zM391.6 353.2h.6v.6h-.6zM388.4 353.5h.6v.6h-.6zM397.9 354.9h.6v.6h-.6zM393.9 358.1h.6v.6h-.6zM394.5 356.1h.6v.6h-.6zM394.7 356.3h.6v.6h-.6zM394.1 358.8h.6v.6h-.6zM391.1 355.9h.6v.6h-.6zM389.3 356.2h.6v.6h-.6zM395.0 352.3h.6v.6h-.6z"/>
<path fill="#111" fill-opacity="0.42" d="M395.0 351.7h.6v.6h-.6zM393.7 361.0h.6v.6h-.6zM394.8 353.1h.6v.6h-.6zM388.6 355.1h.6v.6h-.6zM390.0 352.4h.6v.6h-.6zM392.7 348.3h.6v.6h-.6zM390.7 348.6h.6v.6h-.6zM395.0 352.8h.6v.6h-.6zM391.8 355.8h.6v.6h-.6zM390.0 352.7h.6v.6h-.6zM394.3 355.9h.6v.6h-.6zM392.7 350.7h.6v.6h-.6zM392.0 357.5h.6v.6h-.6zM393.0 354.8h.6v.6h-.6zM391.1 357.5h.6v.6h-.6zM391.1 352.8h.6v.6h-.6zM397.3 352.4h.6v.6h-.6zM389.7 351.8h.6v.6h-.6zM393.1 355.4h.6v.6h-.6zM393.4 351.7h.6v.6h-.6zM394.2 353.8h.6v.6h-.6zM392.5 353.9h.6v.6h-.6zM393.9 353.6h.6v.6h-.6zM394.0 353.6h.6v.6h-.6zM389.3 349.7h.6v.6h-.6zM395.1 351.8h.6v.6h-.6zM392.5 352.9h.6v.6h-.6zM394.4 357.6h.6v.6h-.6zM389.4 354.2h.6v.6h-.6zM398.5 354.9h.6v.6h-.6zM390.9 353.7h.6v.6h-.6zM392.9 354.0h.6v.6h-.6zM395.4 352.7h.6v.6h-.6zM390.9 357.6h.6v.6h-.6zM389.6 353.0h.6v.6h-.6zM390.6 359.6h.6v.6h-.6zM394.5 355.6h.6v.6h-.6zM396.0 354.3h.6v.6h-.6zM392.0 356.8h.6v.6h-.6zM395.2 355.4h.6v.6h-.6zM394.6 351.9h.6v.6h-.6zM390.5 345.8h.6v.6h-.6zM393.2 353.3h.6v.6h-.6zM388.5 346.2h.6v.6h-.6zM391.3 353.4h.6v.6h-.6zM386.5 351.4h.6v.6h-.6zM394.0 356.2h.6v.6h-.6zM392.3 355.4h.6v.6h-.6zM396.1 354.4h.6v.6h-.6zM390.4 352.3h.6v.6h-.6zM397.2 348.4h.6v.6h-.6zM394.6 353.1h.6v.6h-.6zM396.1 357.8h.6v.6h-.6zM390.4 352.9h.6v.6h-.6zM392.7 356.1h.6v.6h-.6zM392.9 360.5h.6v.6h-.6zM392.2 353.6h.6v.6h-.6zM396.4 357.2h.6v.6h-.6zM394.3 351.5h.6v.6h-.6zM392.4 354.3h.6v.6h-.6zM392.0 353.5h.6v.6h-.6zM390.5 359.9h.6v.6h-.6zM394.4 350.6h.6v.6h-.6zM388.3 353.3h.6v.6h-.6zM397.5 356.1h.6v.6h-.6zM390.7 356.6h.6v.6h-.6zM397.7 358.0h.6v.6h-.6zM396.7 353.8h.6v.6h-.6zM393.3 358.6h.6v.6h-.6zM395.9 351.9h.6v.6h-.6zM392.4 353.1h.6v.6h-.6zM393.5 356.6h.6v.6h-.6zM388.9 357.2h.6v.6h-.6zM394.4 354.8h.6v.6h-.6zM391.1 352.5h.6v.6h-.6z"/>
<path fill="#111" fill-opacity="0.42" d="M391.4 353.3h.6v.6h-.6zM389.9 347.4h.6v.6h-.6zM395.5 353.2h.6v.6h-.6zM394.7 356.8h.6v.6h-.6zM394.4 356.8h.6v.6h-.6zM393.8 361.3h.6v.6h-.6zM394.7 352.4h.6v.6h-.6zM393.7 352.5h.6v.6h-.6zM392.8 352.2h.6v.6h-.6zM392.0 348.6h.6v.6h-.6zM396.5 351.1h.6v.6h-.6zM391.7 351.4h.6v.6h-.6zM394.3 351.1h.6v.6h-.6zM390.4 347.1h.6v.6h-.6zM391.3 352.3h.6v.6h-.6zM397.2 349.6h.6v.6h-.6zM394.4 357.8h.6v.6h-.6zM393.5 348.4h.6v.6h-.6zM389.4 348.1h.6v.6h-.6zM392.4 353.4h.6v.6h-.6zM393.9 353.3h.6v.6h-.6zM390.9 354.5h.6v.6h-.6zM393.0 353.2h.6v.6h-.6zM392.6 353.1h.6v.6h-.6zM390.2 344.4h.6v.6h-.6zM391.7 351.2h.6v.6h-.6zM390.7 354.3h.6v.6h-.6zM391.5 356.6h.6v.6h-.6zM391.9 352.4h.6v.6h-.6zM387.0 352.4h.6v.6h-.6zM394.8 352.5h.6v.6h-.6zM394.1 350.3h.6v.6h-.6zM392.9 354.1h.6v.6h-.6zM390.0 362.7h.6v.6h-.6zM397.2 355.1h.6v.6h-.6zM391.3 350.8h.6v.6h-.6zM391.9 353.9h.6v.6h-.6zM395.0 356.1h.6v.6h-.6zM391.5 344.3h.6v.6h-.6zM394.8 350.4h.6v.6h-.6zM390.2 350.9h.6v.6h-.6zM396.0 353.1h.6v.6h-.6zM392.5 361.5h.6v.6h-.6zM395.0 353.8h.6v.6h-.6zM394.1 361.2h.6v.6h-.6zM398.8 358.4h.6v.6h-.6zM392.1 353.1h.6v.6h-.6zM394.0 356.0h.6v.6h-.6zM395.1 352.8h.6v.6h-.6zM391.8 353.3h.6v.6h-.6zM393.8 352.4h.6v.6h-.6zM395.6 357.7h.6v.6h-.6zM390.4 351.5h.6v.6h-.6zM396.2 350.6h.6v.6h-.6zM391.1 344.3h.6v.6h-.6zM394.7 351.9h.6v.6h-.6zM390.7 356.8h.6v.6h-.6zM397.0 355.4h.6v.6h-.6zM394.6 356.8h.6v.6h-.6zM392.6 351.8h.6v.6h-.6zM391.2 352.1h.6v.6h-.6zM392.2 354.7h.6v.6h-.6zM390.2 353.7h.6v.6h-.6zM392.2 347.8h.6v.6h-.6zM393.1 353.1h.6v.6h-.6zM394.1 358.2h.6v.6h-.6zM389.4 352.6h.6v.6h-.6zM395.4 354.9h.6v.6h-.6zM392.7 359.2h.6v.6h-.6zM399.1 351.0h.6v.6h-.6zM397.4 358.6h.6v.6h-.6zM396.1 348.9h.6v.6h-.6zM391.6 350.1h.6v.6h-.6zM395.9 350.5h.6v.6h-.6zM391.5 355.8h.6v.6h-.6z"/>
<path fill="#111" fill-opacity="0.42" d="M393.2 358.1h.6v.6h-.6zM395.9 356.2h.6v.6h-.6zM394.0 355.7h.6v.6h-.6zM394.4 350.2h.6v.6h-.6zM394.7 350.3h.6v.6h-.6zM393.4 351.8h.6v.6h-.6zM395.8 357.3h.6v.6h-.6zM390.2 354.2h.6v.6h-.6zM392.4 349.5h.6v.6h-.6zM394.0 355.5h.6v.6h-.6zM390.8 348.5h.6v.6h-.6zM394.9 355.4h.6v.6h-.6zM395.3 353.1h.6v.6h-.6zM389.1 353.5h.6v.6h-.6zM393.1 352.7h.6v.6h-.6zM395.3 358.6h.6v.6h-.6zM394.4 357.8h.6v.6h-.6zM395.3 354.4h.6v.6h-.6zM390.9 358.8h.6v.6h-.6zM394.1 351.0h.6v.6h-.6zM392.5 350.0h.6v.6h-.6zM394.1 355.3h.6v.6h-.6zM396.4 354.1h.6v.6h-.6zM394.0 349.2h.6v.6h-.6zM387.9 353.8h.6v.6h-.6zM390.3 355.4h.6v.6h-.6zM393.1 350.2h.6v.6h-.6zM393.0 350.7h.6v.6h-.6zM395.1 351.1h.6v.6h-.6zM394.4 352.0h.6v.6h-.6zM391.7 354.1h.6v.6h-.6zM395.6 353.2h.6v.6h-.6zM396.1 351.1h.6v.6h-.6zM392.6 348.1h.6v.6h-.6zM395.3 348.5h.6v.6h-.6zM392.5 352.5h.6v.6h-.6zM388.6 352.5h.6v.6h-.6zM391.6 355.0h.6v.6h-.6zM394.1 350.8h.6v.6h-.6zM395.9 353.7h.6v.6h-.6zM394.6 349.7h.6v.6h-.6zM391.9 349.2h.6v.6h-.6zM393.4 355.9h.6v.6h-.6zM391.2 353.4h.6v.6h-.6zM392.0 355.7h.6v.6h-.6zM394.1 357.0h.6v.6h-.6zM396.7 357.6h.6v.6h-.6zM392.6 349.4h.6v.6h-.6zM396.5 354.1h.6v.6h-.6zM390.1 353.2h.6v.6h-.6zM390.8 348.6h.6v.6h-.6zM392.0 353.6h.6v.6h-.6zM393.9 353.4h.6v.6h-.6zM391.8 352.8h.6v.6h-.6zM393.8 354.0h.6v.6h-.6zM400.5 356.8h.6v.6h-.6zM389.9 348.5h.6v.6h-.6zM387.3 354.4h.6v.6h-.6zM393.9 351.2h.6v.6h-.6zM392.6 353.6h.6v.6h-.6zM391.7 349.1h.6v.6h-.6zM391.7 353.6h.6v.6h-.6zM393.7 357.9h.6v.6h-.6zM394.5 353.4h.6v.6h-.6zM394.0 355.4h.6v.6h-.6zM389.0 348.6h.6v.6h-.6zM388.2 352.2h.6v.6h-.6zM392.1 351.6h.6v.6h-.6zM393.9 351.9h.6v.6h-.6zM396.8 352.3h.6v.6h-.6zM394.0 354.1h.6v.6h-.6zM391.9 356.5h.6v.6h-.6zM394.8 349.3h.6v.6h-.6zM390.2 355.5h.6v.6h-.6zM392.2 350.3h.6v.6h-.6z"/>
<path fill="#111" fill-opacity="0.42" d="M393.8 358.1h.6v.6h-.6zM393.2 354.7h.6v.6h-.6zM390.8 352.1h.6v.6h-.6zM392.2 353.4h.6v.6h-.6zM394.5 351.5h.6v.6h-.6zM388.1 351.9h.6v.6h-.6zM392.7 351.6h.6v.6h-.6zM394.3 352.2h.6v.6h-.6zM390.7 349.3h.6v.6h-.6zM386.1 347.4h.6v.6h-.6zM392.9 355.2h.6v.6h-.6zM391.3 352.7h.6v.6h-.6zM394.7 359.5h.6v.6h-.6zM386.7 350.4h.6v.6h-.6zM397.3 352.1h.6v.6h-.6zM390.4 353.3h.6v.6h-.6zM394.6 357.2h.6v.6h-.6zM393.2 349.6h.6v.6h-.6zM391.7 351.5h.6v.6h-.6zM395.9 357.2h.6v.6h-.6zM395.7 357.4h.6v.6h-.6zM392.9 353.8h.6v.6h-.6zM392.1 353.2h.6v.6h-.6zM390.3 352.9h.6v.6h-.6zM397.2 358.9h.6v.6h-.6zM395.7 356.9h.6v.6h-.6zM389.7 353.6h.6v.6h-.6zM396.8 360.5h.6v.6h-.6zM395.6 359.4h.6v.6h-.6zM397.4 361.4h.6v.6h-.6zM396.2 358.9h.6v.6h-.6zM395.8 357.3h.6v.6h-.6zM389.8 350.8h.6v.6h-.6zM394.1 353.4h.6v.6h-.6zM388.5 347.5h.6v.6h-.6zM391.5 359.6h.6v.6h-.6zM390.5 354.5h.6v.6h-.6zM390.8 351.9h.6v.6h-.6zM396.0 358.4h.6v.6h-.6zM390.5 353.4h.6v.6h-.6zM392.8 352.3h.6v.6h-.6zM390.8 351.8h.6v.6h-.6zM393.4 358.6h.6v.6h-.6zM390.1 351.7h.6v.6h-.6zM392.0 356.5h.6v.6h-.6zM394.0 352.3h.6v.6h-.6zM389.3 351.0h.6v.6h-.6zM391.2 353.4h.6v.6h-.6zM389.9 358.4h.6v.6h-.6zM395.7 354.6h.6v.6h-.6zM393.3 355.1h.6v.6h-.6zM388.1 348.6h.6v.6h-.6zM391.6 353.7h.6v.6h-.6zM392.1 358.3h.6v.6h-.6zM392.6 352.7h.6v.6h-.6zM395.3 349.0h.6v.6h-.6zM393.9 353.4h.6v.6h-.6zM388.9 344.8h.6v.6h-.6zM395.8 355.6h.6v.6h-.6zM394.5 354.9h.6v.6h-.6zM393.2 353.4h.6v.6h-.6zM394.7 347.3h.6v.6h-.6zM392.0 358.1h.6v.6h-.6zM392.0 354.8h.6v.6h-.6zM400.2 354.1h.6v.6h-.6zM394.3 352.7h.6v.6h-.6zM391.3 355.7h.6v.6h-.6zM392.1 354.1h.6v.6h-.6zM395.1 357.2h.6v.6h-.6zM389.4 353.3h.6v.6h-.6zM393.3 361.1h.6v.6h-.6zM393.3 353.9h.6v.6h-.6zM396.8 350.3h.6v.6h-.6zM391.4 353.9h.6v.6h-.6zM388.8 352.0h.6v.6h-.6z"/>
<path fill="#111" fill-opacity="0.22" d="M412.6 362.5h.6v.6h-.6zM393.7 357.7h.6v.6h-.6zM414.0 356.3h.6v.6h-.6zM418.4 346.5h.6v.6h-.6zM421.6 351.8h.6v.6h-.6zM420.7 367.9h.6v.6h-.6zM417.0 360.6h.6v.6h-.6zM413.9 364.7h.6v.6h-.6zM396.8 346.4h.6v.6h-.6zM413.5 359.0h.6v.6h-.6zM398.1 352.9h.6v.6h-.6zM424.3 361.5h.6v.6h-.6zM401.3 354.5h.6v.6h-.6zM399.3 346.3h.6v.6h-.6zM403.6 344.8h.6v.6h-.6zM401.5 344.3h.6v.6h-.6zM394.1 349.0h.6v.6h-.6zM388.0 355.0h.6v.6h-.6z"/>
<path fill="#111" fill-opacity="0.22" d="M419.5 357.9h.6v.6h-.6zM393.9 344.6h.6v.6h-.6zM399.2 346.8h.6v.6h-.6zM407.5 363.3h.6v.6h-.6zM391.2 347.4h.6v.6h-.6zM405.3 353.6h.6v.6h-.6zM410.4 347.4h.6v.6h-.6zM423.2 349.8h.6v.6h-.6zM407.4 350.1h.6v.6h-.6zM406.5 347.9h.6v.6h-.6zM411.7 353.2h.6v.6h-.6zM424.8 351.7h.6v.6h-.6zM387.4 351.5h.6v.6h-.6zM416.4 356.5h.6v.6h-.6zM405.0 346.7h.6v.6h-.6zM391.9 362.8h.6v.6h-.6zM391.7 348.2h.6v.6h-.6zM421.6 358.4h.6v.6h-.6z"/>
<path fill="#111" fill-opacity="0.22" d="M407.3 347.0h.6v.6h-.6zM394.8 348.1h.6v.6h-.6zM390.6 360.8h.6v.6h-.6zM408.8 351.7h.6v.6h-.6zM395.8 345.4h.6v.6h-.6zM419.0 353.6h.6v.6h-.6zM406.1 363.8h.6v.6h-.6zM396.0 346.1h.6v.6h-.6zM408.9 360.9h.6v.6h-.6zM422.6 356.3h.6v.6h-.6zM420.4 346.9h.6v.6h-.6zM397.9 365.1h.6v.6h-.6zM406.3 344.4h.6v.6h-.6zM404.7 346.2h.6v.6h-.6zM386.6 344.3h.6v.6h-.6zM412.5 350.4h.6v.6h-.6zM395.0 353.4h.6v.6h-.6zM398.2 353.1h.6v.6h-.6z"/>
<path fill="#111" fill-opacity="0.22" d="M395.4 345.1h.6v.6h-.6zM386.3 343.6h.6v.6h-.6zM422.2 344.0h.6v.6h-.6zM423.1 362.5h.6v.6h-.6zM425.1 356.9h.6v.6h-.6zM394.1 354.9h.6v.6h-.6zM417.4 357.8h.6v.6h-.6zM399.2 345.6h.6v.6h-.6zM395.0 346.3h.6v.6h-.6zM404.3 349.5h.6v.6h-.6zM420.2 353.9h.6v.6h-.6zM419.4 365.2h.6v.6h-.6zM405.3 365.6h.6v.6h-.6zM408.2 357.3h.6v.6h-.6zM401.2 354.3h.6v.6h-.6zM392.5 359.0h.6v.6h-.6zM395.5 359.6h.6v.6h-.6zM403.1 351.0h.6v.6h-.6z"/>
<path fill="#111" fill-opacity="0.22" d="M390.4 352.8h.6v.6h-.6zM418.3 364.6h.6v.6h-.6zM394.9 356.1h.6v.6h-.6zM425.9 350.5h.6v.6h-.6zM417.9 354.4h.6v.6h-.6zM398.2 349.4h.6v.6h-.6zM411.2 347.3h.6v.6h-.6zM424.4 357.4h.6v.6h-.6zM406.6 353.0h.6v.6h-.6zM401.1 367.5h.6v.6h-.6zM417.7 352.9h.6v.6h-.6zM403.4 353.3h.6v.6h-.6zM412.1 366.6h.6v.6h-.6zM414.4 365.6h.6v.6h-.6zM386.0 346.4h.6v.6h-.6zM423.2 349.2h.6v.6h-.6zM395.6 349.7h.6v.6h-.6z"/>
<path fill="#111" fill-opacity="0.22" d="M397.7 357.1h.6v.6h-.6zM420.5 344.8h.6v.6h-.6zM396.7 355.2h.6v.6h-.6zM405.4 354.3h.6v.6h-.6zM406.9 348.6h.6v.6h-.6zM416.9 351.7h.6v.6h-.6zM388.2 364.2h.6v.6h-.6zM405.6 344.4h.6v.6h-.6zM403.9 352.2h.6v.6h-.6zM402.2 363.1h.6v.6h-.6zM396.3 365.4h.6v.6h-.6zM423.9 348.1h.6v.6h-.6zM420.4 355.3h.6v.6h-.6zM389.0 363.8h.6v.6h-.6zM422.1 356.6h.6v.6h-.6zM425.9 356.4h.6v.6h-.6zM402.7 347.2h.6v.6h-.6z"/>
<path fill="#111" fill-opacity="0.22" d="M419.1 349.7h.6v.6h-.6zM386.9 364.4h.6v.6h-.6zM406.1 349.6h.6v.6h-.6zM419.6 358.5h.6v.6h-.6zM421.6 353.5h.6v.6h-.6zM411.0 350.6h.6v.6h-.6zM386.7 349.3h.6v.6h-.6zM422.5 349.1h.6v.6h-.6zM392.6 346.1h.6v.6h-.6zM391.0 358.0h.6v.6h-.6zM411.5 361.1h.6v.6h-.6zM392.7 347.3h.6v.6h-.6zM386.8 344.5h.6v.6h-.6zM398.9 353.4h.6v.6h-.6zM425.2 356.6h.6v.6h-.6zM394.3 347.6h.6v.6h-.6zM388.0 345.3h.6v.6h-.6z"/>
<path fill="#111" fill-opacity="0.22" d="M421.8 363.9h.6v.6h-.6zM401.0 351.6h.6v.6h-.6zM390.7 353.5h.6v.6h-.6zM408.0 355.9h.6v.6h-.6zM402.2 361.6h.6v.6h-.6zM390.6 362.5h.6v.6h-.6zM402.0 360.5h.6v.6h-.6zM416.8 348.1h.6v.6h-.6zM415.1 358.9h.6v.6h-.6zM396.9 348.9h.6v.6h-.6zM406.9 360.8h.6v.6h-.6zM398.1 353.4h.6v.6h-.6zM409.0 364.1h.6v.6h-.6zM399.8 363.2h.6v.6h-.6zM424.2 360.3h.6v.6h-.6zM414.5 366.2h.6v.6h-.6zM386.2 359.9h.6v.6h-.6z"/>
<path fill="#111" fill-opacity="0.15" d="M386.9 328.1h.6v.6h-.6zM409.2 332.4h.6v.6h-.6zM399.9 344.1h.6v.6h-.6zM394.5 344.9h.6v.6h-.6zM417.1 336.4h.6v.6h-.6z"/>
<path fill="#111" fill-opacity="0.15" d="M390.0 329.2h.6v.6h-.6zM395.2 326.7h.6v.6h-.6zM415.2 343.5h.6v.6h-.6zM417.9 332.0h.6v.6h-.6zM412.8 341.2h.6v.6h-.6z"/>
<path fill="#111" fill-opacity="0.15" d="M396.6 327.1h.6v.6h-.6zM391.3 342.8h.6v.6h-.6zM409.7 329.5h.6v.6h-.6zM401.9 341.5h.6v.6h-.6zM400.5 338.8h.6v.6h-.6z"/>
<path fill="#111" fill-opacity="0.15" d="M406.6 329.0h.6v.6h-.6zM401.5 341.9h.6v.6h-.6zM386.7 325.4h.6v.6h-.6zM413.1 342.9h.6v.6h-.6zM409.2 333.8h.6v.6h-.6z"/>
<path fill="#111" fill-opacity="0.15" d="M402.9 338.9h.6v.6h-.6zM414.6 330.0h.6v.6h-.6zM417.3 335.9h.6v.6h-.6zM397.7 329.6h.6v.6h-.6zM403.2 341.2h.6v.6h-.6z"/>
<path fill="#111" fill-opacity="0.15" d="M402.4 339.8h.6v.6h-.6zM392.9 342.7h.6v.6h-.6zM415.9 344.2h.6v.6h-.6zM402.9 343.7h.6v.6h-.6zM415.9 344.7h.6v.6h-.6z"/>
<path fill="#111" fill-opacity="0.15" d="M412.3 334.0h.6v.6h-.6zM393.3 337.0h.6v.6h-.6zM393.3 344.4h.6v.6h-.6zM406.5 342.4h.6v.6h-.6zM397.9 338.5h.6v.6h-.6z"/>
<path fill="#111" fill-opacity="0.15" d="M392.4 325.9h.6v.6h-.6zM417.8 334.3h.6v.6h-.6zM394.6 328.6h.6v.6h-.6zM391.9 335.1h.6v.6h-.6zM404.3 342.0h.6v.6h-.6z"/>
<text x="404.4" y="344.4" font-size="2.4" fill="#bbb" stroke="none">R2</text>
<path d="M387.5,317.6 L428.1,317.6 L427.5,361.1 L395.3,368.9 L383.9,368.9 Z" fill="none" stroke="#949dcc" stroke-width="0.9"/>
<text x="367.9" y="345.7" font-size="7.4" text-anchor="middle" textLength="12" lengthAdjust="spacingAndGlyphs" transform="rotate(-90 367.9 345.7)">SSC</text>
<text x="395.8" y="383.7" font-size="7.2" textLength="11.9" lengthAdjust="spacingAndGlyphs">FSC</text>
<line x1="413.3" y1="365.0" x2="413.30" y2="384.20" stroke="#3848a8" stroke-width="1.3"/>
<path d="M413.3,388.2 L411.20,383.20 L415.40,383.20 Z" fill="#3848a8"/>
<line x1="397.7" y1="410.9" x2="437.98" y2="376.02" stroke="#3848a8" stroke-width="1.3"/>
<path d="M441,373.4 L438.60,378.26 L435.85,375.09 Z" fill="#3848a8"/>
<line x1="414.4" y1="431.8" x2="434.50" y2="431.80" stroke="#3848a8" stroke-width="1.3"/>
<path d="M438.5,431.8 L433.50,433.90 L433.50,429.70 Z" fill="#3848a8"/>
<path d="M377.4,393.6 H428.1 V445.5" fill="none" stroke="#c4c4c4" stroke-width="0.6"/>
<path d="M377.4,393.6 V445.5 H428.1" fill="none" stroke="#707070" stroke-width="0.7"/>
<path d="M377.4,445.5 v1.2 M379.9,445.5 v1.2 M382.5,445.5 v1.2 M385.0,445.5 v1.2 M387.5,445.5 v1.2 M390.1,445.5 v1.2 M392.6,445.5 v1.2 M395.1,445.5 v1.2 M397.7,445.5 v1.2 M400.2,445.5 v1.2 M402.8,445.5 v1.2 M405.3,445.5 v1.2 M407.8,445.5 v1.2 M410.4,445.5 v1.2 M412.9,445.5 v1.2 M415.4,445.5 v1.2 M418.0,445.5 v1.2 M420.5,445.5 v1.2 M423.0,445.5 v1.2 M425.6,445.5 v1.2 M428.1,445.5 v1.2 " stroke="#777" stroke-width="0.35"/>
<rect x="371.79999999999995" y="398.09999999999997" width="3.4" height="1.2" fill="#777"/>
<line x1="376.2" y1="398.7" x2="377.4" y2="398.7" stroke="#666" stroke-width="0.4"/>
<rect x="371.79999999999995" y="409.4" width="3.4" height="1.2" fill="#777"/>
<line x1="376.2" y1="410" x2="377.4" y2="410" stroke="#666" stroke-width="0.4"/>
<rect x="371.79999999999995" y="420.2" width="3.4" height="1.2" fill="#777"/>
<line x1="376.2" y1="420.8" x2="377.4" y2="420.8" stroke="#666" stroke-width="0.4"/>
<rect x="371.79999999999995" y="431.4" width="3.4" height="1.2" fill="#777"/>
<line x1="376.2" y1="432" x2="377.4" y2="432" stroke="#666" stroke-width="0.4"/>
<rect x="371.79999999999995" y="439.9" width="3.4" height="1.2" fill="#777"/>
<line x1="376.2" y1="440.5" x2="377.4" y2="440.5" stroke="#666" stroke-width="0.4"/>
<rect x="380.2" y="447.3" width="2.6" height="1.0" fill="#999"/>
<rect x="385.2" y="447.3" width="2.6" height="1.0" fill="#999"/>
<rect x="398.2" y="447.3" width="2.6" height="1.0" fill="#999"/>
<rect x="410.7" y="447.3" width="2.6" height="1.0" fill="#999"/>
<rect x="423.2" y="447.3" width="2.6" height="1.0" fill="#999"/>
<path fill="#111" fill-opacity="0.6" d="M380.4 422.8h.6v.6h-.6zM388.6 416.6h.6v.6h-.6zM390.9 415.0h.6v.6h-.6zM390.6 416.0h.6v.6h-.6zM384.2 417.9h.6v.6h-.6zM397.6 414.6h.6v.6h-.6zM386.5 414.2h.6v.6h-.6zM389.7 417.0h.6v.6h-.6zM387.1 417.9h.6v.6h-.6zM388.8 415.1h.6v.6h-.6zM388.0 416.6h.6v.6h-.6zM391.5 417.3h.6v.6h-.6zM400.8 407.8h.6v.6h-.6zM386.7 416.6h.6v.6h-.6zM385.7 416.6h.6v.6h-.6zM386.2 420.0h.6v.6h-.6zM383.2 418.6h.6v.6h-.6zM382.7 422.5h.6v.6h-.6zM386.6 417.8h.6v.6h-.6zM390.9 413.4h.6v.6h-.6zM387.2 423.1h.6v.6h-.6zM387.1 421.7h.6v.6h-.6zM387.6 419.0h.6v.6h-.6zM387.9 419.4h.6v.6h-.6zM390.7 416.3h.6v.6h-.6zM390.9 415.1h.6v.6h-.6zM382.6 421.7h.6v.6h-.6zM391.2 413.0h.6v.6h-.6zM386.8 418.6h.6v.6h-.6zM387.8 418.2h.6v.6h-.6zM384.6 421.5h.6v.6h-.6zM387.7 417.4h.6v.6h-.6zM388.0 418.1h.6v.6h-.6zM390.4 415.7h.6v.6h-.6zM392.7 416.7h.6v.6h-.6zM389.4 415.9h.6v.6h-.6zM384.5 418.4h.6v.6h-.6zM386.6 416.0h.6v.6h-.6zM388.1 416.6h.6v.6h-.6zM387.8 421.0h.6v.6h-.6zM377.8 422.8h.6v.6h-.6zM385.7 420.4h.6v.6h-.6zM390.4 417.4h.6v.6h-.6zM388.7 415.2h.6v.6h-.6zM388.3 414.4h.6v.6h-.6zM383.6 418.3h.6v.6h-.6zM384.0 420.2h.6v.6h-.6zM387.6 418.3h.6v.6h-.6zM398.3 413.6h.6v.6h-.6zM384.7 418.0h.6v.6h-.6zM389.0 417.0h.6v.6h-.6zM391.2 418.6h.6v.6h-.6zM386.8 419.1h.6v.6h-.6zM393.1 409.1h.6v.6h-.6zM384.5 421.0h.6v.6h-.6zM381.6 422.0h.6v.6h-.6zM383.4 422.9h.6v.6h-.6zM387.9 417.1h.6v.6h-.6zM388.9 421.8h.6v.6h-.6zM384.8 422.2h.6v.6h-.6zM383.2 421.6h.6v.6h-.6zM380.2 421.6h.6v.6h-.6zM387.8 418.7h.6v.6h-.6zM390.3 415.4h.6v.6h-.6zM390.6 416.8h.6v.6h-.6zM388.5 416.9h.6v.6h-.6zM386.3 417.4h.6v.6h-.6zM391.9 414.2h.6v.6h-.6zM390.1 413.1h.6v.6h-.6zM383.5 416.5h.6v.6h-.6zM389.5 417.3h.6v.6h-.6zM383.0 419.9h.6v.6h-.6zM393.2 413.8h.6v.6h-.6zM386.7 418.2h.6v.6h-.6zM389.1 414.5h.6v.6h-.6zM384.2 417.8h.6v.6h-.6zM385.8 415.7h.6v.6h-.6zM388.6 416.8h.6v.6h-.6zM384.3 416.5h.6v.6h-.6zM390.2 420.1h.6v.6h-.6zM385.7 414.2h.6v.6h-.6zM385.9 419.0h.6v.6h-.6zM395.3 412.9h.6v.6h-.6zM392.1 417.0h.6v.6h-.6zM389.9 416.4h.6v.6h-.6zM385.6 421.4h.6v.6h-.6zM386.9 418.1h.6v.6h-.6zM388.4 416.9h.6v.6h-.6zM390.7 418.2h.6v.6h-.6zM389.9 416.1h.6v.6h-.6zM386.1 421.7h.6v.6h-.6zM391.2 411.8h.6v.6h-.6zM392.2 414.1h.6v.6h-.6zM388.4 420.5h.6v.6h-.6zM395.0 414.4h.6v.6h-.6zM387.2 420.2h.6v.6h-.6zM387.0 416.5h.6v.6h-.6zM384.7 420.6h.6v.6h-.6zM389.2 416.6h.6v.6h-.6zM395.8 413.6h.6v.6h-.6zM393.0 413.4h.6v.6h-.6zM390.1 417.5h.6v.6h-.6zM380.2 421.5h.6v.6h-.6zM391.7 419.1h.6v.6h-.6zM390.6 415.4h.6v.6h-.6zM382.5 422.3h.6v.6h-.6zM384.0 418.8h.6v.6h-.6zM389.3 420.1h.6v.6h-.6zM394.1 416.7h.6v.6h-.6zM388.1 421.1h.6v.6h-.6zM394.3 410.5h.6v.6h-.6zM384.7 422.1h.6v.6h-.6zM385.7 418.6h.6v.6h-.6z"/>
<path fill="#111" fill-opacity="0.6" d="M392.0 415.0h.6v.6h-.6zM390.3 416.9h.6v.6h-.6zM378.4 423.1h.6v.6h-.6zM385.6 416.6h.6v.6h-.6zM392.2 417.0h.6v.6h-.6zM385.8 417.0h.6v.6h-.6zM392.4 419.2h.6v.6h-.6zM387.4 422.8h.6v.6h-.6zM388.3 416.5h.6v.6h-.6zM381.4 422.6h.6v.6h-.6zM380.9 424.0h.6v.6h-.6zM385.2 417.9h.6v.6h-.6zM384.4 417.9h.6v.6h-.6zM389.2 418.0h.6v.6h-.6zM388.8 419.5h.6v.6h-.6zM391.9 415.7h.6v.6h-.6zM384.4 418.4h.6v.6h-.6zM386.1 420.2h.6v.6h-.6zM388.5 418.3h.6v.6h-.6zM392.3 415.8h.6v.6h-.6zM390.8 417.3h.6v.6h-.6zM385.7 416.6h.6v.6h-.6zM390.7 414.2h.6v.6h-.6zM390.0 415.1h.6v.6h-.6zM393.1 414.3h.6v.6h-.6zM381.3 422.8h.6v.6h-.6zM379.9 419.2h.6v.6h-.6zM398.7 410.1h.6v.6h-.6zM389.6 418.9h.6v.6h-.6zM387.9 415.6h.6v.6h-.6zM386.7 418.3h.6v.6h-.6zM389.8 419.0h.6v.6h-.6zM390.6 419.0h.6v.6h-.6zM381.9 424.4h.6v.6h-.6zM388.4 418.6h.6v.6h-.6zM384.0 416.3h.6v.6h-.6zM391.4 413.6h.6v.6h-.6zM388.0 420.2h.6v.6h-.6zM386.4 419.7h.6v.6h-.6zM389.7 411.5h.6v.6h-.6zM385.8 419.0h.6v.6h-.6zM385.6 420.2h.6v.6h-.6zM394.5 415.4h.6v.6h-.6zM384.0 420.8h.6v.6h-.6zM388.4 420.3h.6v.6h-.6zM387.7 416.1h.6v.6h-.6zM388.1 416.0h.6v.6h-.6zM382.4 421.0h.6v.6h-.6zM378.2 421.9h.6v.6h-.6zM389.0 417.9h.6v.6h-.6zM387.2 418.8h.6v.6h-.6zM386.6 414.9h.6v.6h-.6zM386.4 417.5h.6v.6h-.6zM384.3 422.5h.6v.6h-.6zM386.9 418.8h.6v.6h-.6zM386.0 419.3h.6v.6h-.6zM389.1 418.8h.6v.6h-.6zM389.5 415.1h.6v.6h-.6zM383.4 419.6h.6v.6h-.6zM396.1 414.0h.6v.6h-.6zM389.0 414.5h.6v.6h-.6zM385.5 418.3h.6v.6h-.6zM383.6 422.8h.6v.6h-.6zM386.8 417.3h.6v.6h-.6zM388.0 415.6h.6v.6h-.6zM390.1 416.7h.6v.6h-.6zM381.5 420.3h.6v.6h-.6zM388.3 417.7h.6v.6h-.6zM382.1 420.3h.6v.6h-.6zM386.2 415.9h.6v.6h-.6zM383.7 422.6h.6v.6h-.6zM384.0 419.9h.6v.6h-.6zM391.4 416.1h.6v.6h-.6zM391.1 418.7h.6v.6h-.6zM377.1 426.9h.6v.6h-.6zM384.5 417.6h.6v.6h-.6zM387.4 418.7h.6v.6h-.6zM387.2 417.2h.6v.6h-.6zM388.5 418.7h.6v.6h-.6zM384.6 419.7h.6v.6h-.6zM391.7 415.8h.6v.6h-.6zM392.9 414.6h.6v.6h-.6zM388.2 417.0h.6v.6h-.6zM389.6 415.4h.6v.6h-.6zM392.9 415.8h.6v.6h-.6zM381.0 421.6h.6v.6h-.6zM384.5 423.9h.6v.6h-.6zM391.8 416.9h.6v.6h-.6zM392.3 416.3h.6v.6h-.6zM385.6 420.4h.6v.6h-.6zM386.8 418.4h.6v.6h-.6zM389.9 418.5h.6v.6h-.6zM381.8 421.1h.6v.6h-.6zM393.5 416.0h.6v.6h-.6zM386.9 419.6h.6v.6h-.6zM383.7 417.7h.6v.6h-.6zM387.2 422.4h.6v.6h-.6zM383.2 422.5h.6v.6h-.6zM392.1 414.1h.6v.6h-.6zM388.3 422.4h.6v.6h-.6zM392.1 412.4h.6v.6h-.6zM388.4 414.0h.6v.6h-.6zM387.6 420.5h.6v.6h-.6zM385.2 421.4h.6v.6h-.6zM388.9 413.1h.6v.6h-.6zM389.0 418.8h.6v.6h-.6zM382.3 419.6h.6v.6h-.6zM387.9 419.0h.6v.6h-.6zM390.2 417.9h.6v.6h-.6zM387.6 418.8h.6v.6h-.6zM389.3 416.0h.6v.6h-.6zM386.1 419.4h.6v.6h-.6zM389.5 415.3h.6v.6h-.6z"/>
<path fill="#111" fill-opacity="0.6" d="M394.8 413.3h.6v.6h-.6zM383.7 420.0h.6v.6h-.6zM386.0 418.3h.6v.6h-.6zM379.2 423.1h.6v.6h-.6zM384.7 422.9h.6v.6h-.6zM393.7 414.3h.6v.6h-.6zM386.8 420.2h.6v.6h-.6zM393.0 414.7h.6v.6h-.6zM385.7 416.8h.6v.6h-.6zM389.3 415.6h.6v.6h-.6zM387.7 419.8h.6v.6h-.6zM385.1 418.5h.6v.6h-.6zM386.3 418.3h.6v.6h-.6zM386.8 416.4h.6v.6h-.6zM384.5 421.5h.6v.6h-.6zM388.3 418.8h.6v.6h-.6zM397.3 412.8h.6v.6h-.6zM385.2 419.1h.6v.6h-.6zM386.9 416.9h.6v.6h-.6zM388.4 414.7h.6v.6h-.6zM385.6 418.9h.6v.6h-.6zM391.0 415.6h.6v.6h-.6zM389.2 417.7h.6v.6h-.6zM385.0 419.4h.6v.6h-.6zM387.7 418.0h.6v.6h-.6zM389.5 416.1h.6v.6h-.6zM384.2 417.9h.6v.6h-.6zM386.2 418.6h.6v.6h-.6zM387.6 421.1h.6v.6h-.6zM386.8 419.4h.6v.6h-.6zM387.6 420.9h.6v.6h-.6zM386.0 421.7h.6v.6h-.6zM391.2 418.6h.6v.6h-.6zM386.4 417.5h.6v.6h-.6zM391.2 418.8h.6v.6h-.6zM384.8 421.9h.6v.6h-.6zM388.5 416.3h.6v.6h-.6zM384.5 419.0h.6v.6h-.6zM401.0 407.8h.6v.6h-.6zM383.0 419.1h.6v.6h-.6zM391.1 417.0h.6v.6h-.6zM389.0 417.4h.6v.6h-.6zM386.8 418.0h.6v.6h-.6zM391.5 418.3h.6v.6h-.6zM389.7 417.9h.6v.6h-.6zM391.3 419.0h.6v.6h-.6zM389.3 419.7h.6v.6h-.6zM387.9 414.5h.6v.6h-.6zM388.5 419.2h.6v.6h-.6zM392.5 417.5h.6v.6h-.6zM386.8 419.1h.6v.6h-.6zM384.7 418.4h.6v.6h-.6zM381.8 418.3h.6v.6h-.6zM383.1 420.7h.6v.6h-.6zM391.8 415.1h.6v.6h-.6zM394.7 414.3h.6v.6h-.6zM384.1 421.9h.6v.6h-.6zM383.4 421.4h.6v.6h-.6zM387.7 416.0h.6v.6h-.6zM385.5 422.0h.6v.6h-.6zM384.5 417.9h.6v.6h-.6zM395.1 412.8h.6v.6h-.6zM384.2 422.9h.6v.6h-.6zM386.3 416.1h.6v.6h-.6zM379.6 426.1h.6v.6h-.6zM385.5 418.6h.6v.6h-.6zM385.7 419.5h.6v.6h-.6zM388.6 418.2h.6v.6h-.6zM385.8 419.0h.6v.6h-.6zM389.9 418.5h.6v.6h-.6zM383.6 419.4h.6v.6h-.6zM384.9 415.4h.6v.6h-.6zM384.9 421.6h.6v.6h-.6zM382.7 418.2h.6v.6h-.6zM391.2 415.1h.6v.6h-.6zM385.4 418.4h.6v.6h-.6zM392.4 416.9h.6v.6h-.6zM395.5 414.1h.6v.6h-.6zM389.4 420.0h.6v.6h-.6zM388.4 416.7h.6v.6h-.6zM383.0 420.3h.6v.6h-.6zM383.2 420.3h.6v.6h-.6zM384.5 421.2h.6v.6h-.6zM389.7 416.7h.6v.6h-.6zM382.7 424.3h.6v.6h-.6zM387.9 417.9h.6v.6h-.6zM389.3 417.1h.6v.6h-.6zM384.8 422.0h.6v.6h-.6zM388.5 417.1h.6v.6h-.6zM383.3 422.2h.6v.6h-.6zM385.0 421.9h.6v.6h-.6zM388.9 418.7h.6v.6h-.6zM392.6 418.1h.6v.6h-.6zM389.0 416.9h.6v.6h-.6zM384.3 419.7h.6v.6h-.6zM382.7 419.0h.6v.6h-.6zM388.5 420.5h.6v.6h-.6zM385.4 416.7h.6v.6h-.6zM378.2 424.2h.6v.6h-.6zM386.2 416.0h.6v.6h-.6zM390.2 416.1h.6v.6h-.6zM381.4 421.0h.6v.6h-.6zM389.9 418.8h.6v.6h-.6zM390.8 415.5h.6v.6h-.6zM382.5 420.8h.6v.6h-.6zM380.4 423.0h.6v.6h-.6zM393.0 415.8h.6v.6h-.6zM387.2 421.8h.6v.6h-.6zM385.5 416.8h.6v.6h-.6zM383.9 420.0h.6v.6h-.6zM375.4 423.4h.6v.6h-.6zM387.2 419.5h.6v.6h-.6zM386.2 417.4h.6v.6h-.6z"/>
<path fill="#111" fill-opacity="0.6" d="M387.5 418.8h.6v.6h-.6zM382.8 421.3h.6v.6h-.6zM388.9 416.7h.6v.6h-.6zM388.2 420.8h.6v.6h-.6zM385.2 420.9h.6v.6h-.6zM388.6 418.9h.6v.6h-.6zM390.4 416.8h.6v.6h-.6zM386.6 419.7h.6v.6h-.6zM396.0 410.9h.6v.6h-.6zM384.9 414.1h.6v.6h-.6zM394.1 410.7h.6v.6h-.6zM390.4 417.6h.6v.6h-.6zM389.9 412.9h.6v.6h-.6zM387.5 417.9h.6v.6h-.6zM382.8 421.6h.6v.6h-.6zM386.4 417.9h.6v.6h-.6zM386.7 416.1h.6v.6h-.6zM385.0 418.7h.6v.6h-.6zM385.3 422.6h.6v.6h-.6zM386.5 418.2h.6v.6h-.6zM392.3 415.7h.6v.6h-.6zM388.6 416.6h.6v.6h-.6zM390.7 414.8h.6v.6h-.6zM382.2 422.0h.6v.6h-.6zM382.5 425.8h.6v.6h-.6zM387.6 421.3h.6v.6h-.6zM383.8 420.2h.6v.6h-.6zM388.3 415.2h.6v.6h-.6zM379.0 427.0h.6v.6h-.6zM392.8 416.0h.6v.6h-.6zM387.0 419.4h.6v.6h-.6zM387.1 417.6h.6v.6h-.6zM387.7 418.5h.6v.6h-.6zM390.2 414.1h.6v.6h-.6zM382.6 423.2h.6v.6h-.6zM382.6 418.1h.6v.6h-.6zM388.6 414.6h.6v.6h-.6zM384.7 420.2h.6v.6h-.6zM386.6 417.8h.6v.6h-.6zM390.3 418.7h.6v.6h-.6zM389.0 415.7h.6v.6h-.6zM388.7 415.3h.6v.6h-.6zM383.5 421.1h.6v.6h-.6zM380.2 426.3h.6v.6h-.6zM390.5 416.5h.6v.6h-.6zM377.8 424.0h.6v.6h-.6zM379.7 419.9h.6v.6h-.6zM384.5 421.8h.6v.6h-.6zM386.7 413.4h.6v.6h-.6zM391.1 418.0h.6v.6h-.6zM384.0 417.4h.6v.6h-.6zM388.3 418.1h.6v.6h-.6zM382.8 422.0h.6v.6h-.6zM385.9 420.5h.6v.6h-.6zM394.9 414.9h.6v.6h-.6zM383.3 422.6h.6v.6h-.6zM383.3 421.4h.6v.6h-.6zM394.0 414.4h.6v.6h-.6zM387.4 419.7h.6v.6h-.6zM388.8 415.7h.6v.6h-.6zM381.7 419.8h.6v.6h-.6zM392.0 414.8h.6v.6h-.6zM391.5 415.4h.6v.6h-.6zM390.3 416.3h.6v.6h-.6zM390.6 416.5h.6v.6h-.6zM385.7 418.7h.6v.6h-.6zM385.2 417.3h.6v.6h-.6zM384.4 415.9h.6v.6h-.6zM385.4 419.6h.6v.6h-.6zM389.9 417.7h.6v.6h-.6zM384.8 420.9h.6v.6h-.6zM392.5 413.3h.6v.6h-.6zM385.6 420.0h.6v.6h-.6zM387.2 419.7h.6v.6h-.6zM388.0 418.6h.6v.6h-.6zM388.7 415.4h.6v.6h-.6zM385.9 416.6h.6v.6h-.6zM387.5 418.9h.6v.6h-.6zM390.6 415.4h.6v.6h-.6zM387.2 421.6h.6v.6h-.6zM382.4 421.2h.6v.6h-.6zM384.0 419.9h.6v.6h-.6zM381.0 419.7h.6v.6h-.6zM382.2 423.9h.6v.6h-.6zM388.8 416.2h.6v.6h-.6zM390.2 417.1h.6v.6h-.6zM387.0 420.8h.6v.6h-.6zM391.6 415.0h.6v.6h-.6zM386.4 417.2h.6v.6h-.6zM377.8 423.2h.6v.6h-.6zM386.9 417.5h.6v.6h-.6zM381.1 420.9h.6v.6h-.6zM387.6 416.9h.6v.6h-.6zM388.7 416.7h.6v.6h-.6zM387.8 418.0h.6v.6h-.6zM386.7 418.1h.6v.6h-.6zM392.2 418.1h.6v.6h-.6zM382.3 421.7h.6v.6h-.6zM390.0 418.0h.6v.6h-.6zM394.4 416.5h.6v.6h-.6zM388.9 416.4h.6v.6h-.6zM387.5 421.3h.6v.6h-.6zM388.1 417.8h.6v.6h-.6zM388.1 417.6h.6v.6h-.6zM387.0 415.8h.6v.6h-.6zM385.0 419.4h.6v.6h-.6zM391.4 416.3h.6v.6h-.6zM383.5 421.8h.6v.6h-.6zM390.7 414.7h.6v.6h-.6zM384.7 417.4h.6v.6h-.6zM387.2 418.5h.6v.6h-.6zM391.5 414.5h.6v.6h-.6zM387.7 420.0h.6v.6h-.6z"/>
<path fill="#111" fill-opacity="0.6" d="M387.7 415.2h.6v.6h-.6zM390.0 414.7h.6v.6h-.6zM392.2 413.9h.6v.6h-.6zM389.5 417.6h.6v.6h-.6zM386.5 418.1h.6v.6h-.6zM389.1 417.2h.6v.6h-.6zM386.2 420.1h.6v.6h-.6zM393.5 415.1h.6v.6h-.6zM382.3 420.4h.6v.6h-.6zM388.0 419.7h.6v.6h-.6zM383.5 422.7h.6v.6h-.6zM387.4 417.5h.6v.6h-.6zM391.8 416.5h.6v.6h-.6zM388.5 416.6h.6v.6h-.6zM394.9 413.4h.6v.6h-.6zM389.5 418.8h.6v.6h-.6zM378.7 424.6h.6v.6h-.6zM386.4 421.6h.6v.6h-.6zM393.1 412.1h.6v.6h-.6zM390.7 417.2h.6v.6h-.6zM395.5 415.1h.6v.6h-.6zM385.8 415.6h.6v.6h-.6zM386.4 417.8h.6v.6h-.6zM386.9 415.9h.6v.6h-.6zM386.5 418.1h.6v.6h-.6zM381.1 421.2h.6v.6h-.6zM388.8 416.0h.6v.6h-.6zM387.3 417.1h.6v.6h-.6zM393.7 417.0h.6v.6h-.6zM389.0 416.6h.6v.6h-.6zM388.8 418.6h.6v.6h-.6zM384.3 416.2h.6v.6h-.6zM385.7 420.3h.6v.6h-.6zM385.9 421.2h.6v.6h-.6zM390.8 415.3h.6v.6h-.6zM385.4 416.6h.6v.6h-.6zM382.2 422.4h.6v.6h-.6zM386.4 420.4h.6v.6h-.6zM389.7 416.6h.6v.6h-.6zM388.0 418.0h.6v.6h-.6zM395.5 415.1h.6v.6h-.6zM396.7 410.7h.6v.6h-.6zM390.6 415.3h.6v.6h-.6zM388.4 417.7h.6v.6h-.6zM388.3 416.0h.6v.6h-.6zM379.6 422.9h.6v.6h-.6zM385.8 418.8h.6v.6h-.6zM395.8 413.9h.6v.6h-.6zM382.6 423.8h.6v.6h-.6zM385.8 417.3h.6v.6h-.6zM388.2 421.2h.6v.6h-.6zM385.8 418.6h.6v.6h-.6zM398.7 407.7h.6v.6h-.6zM382.3 422.0h.6v.6h-.6zM381.4 420.9h.6v.6h-.6zM386.0 419.3h.6v.6h-.6zM387.0 417.3h.6v.6h-.6zM389.8 419.9h.6v.6h-.6zM378.9 423.1h.6v.6h-.6zM389.4 415.7h.6v.6h-.6zM392.3 413.7h.6v.6h-.6zM387.8 418.8h.6v.6h-.6zM387.2 419.8h.6v.6h-.6zM384.7 418.7h.6v.6h-.6zM388.9 417.6h.6v.6h-.6zM386.8 420.4h.6v.6h-.6zM387.5 420.9h.6v.6h-.6zM384.0 420.6h.6v.6h-.6zM386.9 416.3h.6v.6h-.6zM388.8 417.9h.6v.6h-.6zM384.3 421.0h.6v.6h-.6zM384.2 416.5h.6v.6h-.6zM385.8 418.7h.6v.6h-.6zM383.5 422.8h.6v.6h-.6zM390.3 415.9h.6v.6h-.6zM380.0 421.8h.6v.6h-.6zM386.7 419.8h.6v.6h-.6zM390.4 415.2h.6v.6h-.6zM385.4 420.3h.6v.6h-.6zM382.3 422.1h.6v.6h-.6zM387.4 418.4h.6v.6h-.6zM388.8 415.1h.6v.6h-.6zM389.4 416.1h.6v.6h-.6zM391.0 418.3h.6v.6h-.6zM387.0 422.1h.6v.6h-.6zM388.9 416.9h.6v.6h-.6zM385.9 418.2h.6v.6h-.6zM383.5 422.7h.6v.6h-.6zM393.9 413.7h.6v.6h-.6zM381.9 421.2h.6v.6h-.6zM383.4 419.5h.6v.6h-.6zM391.4 415.4h.6v.6h-.6zM390.2 416.9h.6v.6h-.6zM391.5 414.9h.6v.6h-.6zM391.1 416.8h.6v.6h-.6zM382.5 419.9h.6v.6h-.6zM387.7 419.7h.6v.6h-.6zM381.7 422.5h.6v.6h-.6zM384.7 422.5h.6v.6h-.6zM384.6 418.2h.6v.6h-.6zM385.2 420.1h.6v.6h-.6zM386.3 419.2h.6v.6h-.6zM384.4 417.9h.6v.6h-.6zM395.7 417.5h.6v.6h-.6zM392.9 413.9h.6v.6h-.6zM385.8 418.5h.6v.6h-.6zM388.0 416.7h.6v.6h-.6zM386.9 418.9h.6v.6h-.6zM395.5 414.2h.6v.6h-.6zM395.5 414.0h.6v.6h-.6zM386.3 422.1h.6v.6h-.6zM385.9 422.7h.6v.6h-.6z"/>
<path fill="#111" fill-opacity="0.6" d="M383.6 420.1h.6v.6h-.6zM381.1 423.2h.6v.6h-.6zM387.3 417.6h.6v.6h-.6zM390.7 414.4h.6v.6h-.6zM385.8 420.5h.6v.6h-.6zM393.8 410.5h.6v.6h-.6zM390.0 419.1h.6v.6h-.6zM391.6 415.9h.6v.6h-.6zM385.0 417.7h.6v.6h-.6zM388.4 417.8h.6v.6h-.6zM393.6 414.9h.6v.6h-.6zM380.2 422.0h.6v.6h-.6zM384.9 418.5h.6v.6h-.6zM391.9 417.3h.6v.6h-.6zM383.2 421.4h.6v.6h-.6zM386.1 419.9h.6v.6h-.6zM386.1 420.9h.6v.6h-.6zM385.6 415.6h.6v.6h-.6zM385.1 419.6h.6v.6h-.6zM389.1 414.6h.6v.6h-.6zM382.0 418.7h.6v.6h-.6zM389.1 415.7h.6v.6h-.6zM393.0 416.5h.6v.6h-.6zM386.1 417.7h.6v.6h-.6zM383.2 420.6h.6v.6h-.6zM383.9 417.4h.6v.6h-.6zM387.2 419.6h.6v.6h-.6zM391.5 412.2h.6v.6h-.6zM388.6 417.8h.6v.6h-.6zM385.1 418.6h.6v.6h-.6zM391.3 418.6h.6v.6h-.6zM387.7 415.4h.6v.6h-.6zM384.8 420.6h.6v.6h-.6zM386.0 421.1h.6v.6h-.6zM387.4 417.5h.6v.6h-.6zM388.6 415.7h.6v.6h-.6zM391.8 412.6h.6v.6h-.6zM383.2 418.1h.6v.6h-.6zM391.2 418.7h.6v.6h-.6zM396.1 413.1h.6v.6h-.6zM387.3 417.1h.6v.6h-.6zM390.4 416.2h.6v.6h-.6zM390.3 416.5h.6v.6h-.6zM388.8 416.5h.6v.6h-.6zM388.5 420.9h.6v.6h-.6zM389.3 417.3h.6v.6h-.6zM380.7 418.1h.6v.6h-.6zM386.4 416.7h.6v.6h-.6zM392.2 419.8h.6v.6h-.6zM391.3 417.5h.6v.6h-.6zM385.4 421.2h.6v.6h-.6zM385.0 420.8h.6v.6h-.6zM384.5 420.0h.6v.6h-.6zM389.0 418.2h.6v.6h-.6zM391.9 414.3h.6v.6h-.6zM391.8 414.7h.6v.6h-.6zM388.8 417.3h.6v.6h-.6zM384.4 425.9h.6v.6h-.6zM386.0 418.1h.6v.6h-.6zM390.6 417.8h.6v.6h-.6zM387.0 420.3h.6v.6h-.6zM389.8 417.5h.6v.6h-.6zM385.3 417.2h.6v.6h-.6zM397.4 410.8h.6v.6h-.6zM387.4 417.6h.6v.6h-.6zM398.9 410.5h.6v.6h-.6zM384.2 420.3h.6v.6h-.6zM382.0 421.0h.6v.6h-.6zM384.1 418.0h.6v.6h-.6zM392.4 417.3h.6v.6h-.6zM389.9 416.7h.6v.6h-.6zM379.0 421.7h.6v.6h-.6zM389.4 419.3h.6v.6h-.6zM391.9 416.7h.6v.6h-.6zM384.7 418.0h.6v.6h-.6zM382.9 422.4h.6v.6h-.6zM385.2 422.0h.6v.6h-.6zM388.5 417.8h.6v.6h-.6zM384.7 416.8h.6v.6h-.6zM381.1 422.9h.6v.6h-.6zM390.1 415.2h.6v.6h-.6zM391.9 418.5h.6v.6h-.6zM384.8 420.8h.6v.6h-.6zM388.0 419.1h.6v.6h-.6zM388.4 418.4h.6v.6h-.6zM388.3 416.5h.6v.6h-.6zM386.9 421.3h.6v.6h-.6zM386.1 418.6h.6v.6h-.6zM384.5 421.6h.6v.6h-.6zM389.5 414.4h.6v.6h-.6zM386.6 417.3h.6v.6h-.6zM388.4 418.7h.6v.6h-.6zM392.6 415.8h.6v.6h-.6zM383.3 417.8h.6v.6h-.6zM395.5 414.4h.6v.6h-.6zM386.4 419.5h.6v.6h-.6zM385.5 417.4h.6v.6h-.6zM388.9 416.0h.6v.6h-.6zM385.1 420.9h.6v.6h-.6zM392.0 415.3h.6v.6h-.6zM390.0 412.5h.6v.6h-.6zM392.9 417.7h.6v.6h-.6zM389.9 417.3h.6v.6h-.6zM388.6 416.9h.6v.6h-.6zM388.2 417.6h.6v.6h-.6zM386.0 421.0h.6v.6h-.6zM384.5 421.2h.6v.6h-.6zM390.2 418.8h.6v.6h-.6zM387.0 417.3h.6v.6h-.6zM386.4 416.9h.6v.6h-.6zM389.1 415.9h.6v.6h-.6zM392.9 418.1h.6v.6h-.6z"/>
<path fill="#111" fill-opacity="0.6" d="M387.9 415.6h.6v.6h-.6zM386.4 418.7h.6v.6h-.6zM395.2 411.3h.6v.6h-.6zM382.4 420.7h.6v.6h-.6zM390.8 417.4h.6v.6h-.6zM389.3 415.1h.6v.6h-.6zM390.3 414.9h.6v.6h-.6zM387.9 415.5h.6v.6h-.6zM379.3 426.4h.6v.6h-.6zM388.1 413.8h.6v.6h-.6zM389.7 418.0h.6v.6h-.6zM383.1 419.9h.6v.6h-.6zM388.8 418.2h.6v.6h-.6zM391.1 416.2h.6v.6h-.6zM387.7 419.4h.6v.6h-.6zM384.4 418.7h.6v.6h-.6zM384.9 417.3h.6v.6h-.6zM395.4 415.3h.6v.6h-.6zM389.8 416.3h.6v.6h-.6zM392.6 414.9h.6v.6h-.6zM392.7 415.8h.6v.6h-.6zM386.4 419.3h.6v.6h-.6zM385.8 418.9h.6v.6h-.6zM385.8 417.5h.6v.6h-.6zM393.1 413.0h.6v.6h-.6zM384.3 418.6h.6v.6h-.6zM387.7 419.3h.6v.6h-.6zM389.8 415.9h.6v.6h-.6zM385.0 422.2h.6v.6h-.6zM387.7 418.9h.6v.6h-.6zM384.1 418.7h.6v.6h-.6zM384.7 418.2h.6v.6h-.6zM384.9 419.0h.6v.6h-.6zM386.3 418.4h.6v.6h-.6zM391.3 413.4h.6v.6h-.6zM391.1 415.5h.6v.6h-.6zM386.0 418.0h.6v.6h-.6zM386.5 412.7h.6v.6h-.6zM386.4 418.2h.6v.6h-.6zM395.0 411.5h.6v.6h-.6zM387.3 417.8h.6v.6h-.6zM387.6 421.3h.6v.6h-.6zM384.8 417.5h.6v.6h-.6zM387.5 420.0h.6v.6h-.6zM382.9 420.8h.6v.6h-.6zM392.4 415.2h.6v.6h-.6zM391.5 416.2h.6v.6h-.6zM385.9 418.6h.6v.6h-.6zM391.1 416.6h.6v.6h-.6zM392.6 414.4h.6v.6h-.6zM392.3 413.9h.6v.6h-.6zM388.7 417.9h.6v.6h-.6zM401.1 408.8h.6v.6h-.6zM389.4 417.1h.6v.6h-.6zM391.7 414.3h.6v.6h-.6zM391.5 415.8h.6v.6h-.6zM383.6 419.2h.6v.6h-.6zM383.3 420.7h.6v.6h-.6zM385.5 416.0h.6v.6h-.6zM391.1 413.7h.6v.6h-.6zM392.8 417.2h.6v.6h-.6zM381.3 423.0h.6v.6h-.6zM387.6 415.7h.6v.6h-.6zM385.2 418.4h.6v.6h-.6zM379.5 424.4h.6v.6h-.6zM390.2 412.6h.6v.6h-.6zM390.8 414.4h.6v.6h-.6zM393.7 414.5h.6v.6h-.6zM389.0 417.6h.6v.6h-.6zM395.2 412.6h.6v.6h-.6zM386.8 419.6h.6v.6h-.6zM389.3 418.5h.6v.6h-.6zM380.1 420.8h.6v.6h-.6zM383.2 418.5h.6v.6h-.6zM391.7 415.5h.6v.6h-.6zM385.3 416.4h.6v.6h-.6zM382.9 419.0h.6v.6h-.6zM384.7 418.4h.6v.6h-.6zM387.8 417.3h.6v.6h-.6zM379.1 421.3h.6v.6h-.6zM378.0 422.0h.6v.6h-.6zM394.9 416.3h.6v.6h-.6zM392.8 414.1h.6v.6h-.6zM387.5 418.4h.6v.6h-.6zM389.4 415.7h.6v.6h-.6zM395.2 413.2h.6v.6h-.6zM388.7 417.0h.6v.6h-.6zM386.3 418.4h.6v.6h-.6zM393.6 414.6h.6v.6h-.6zM392.2 413.8h.6v.6h-.6zM390.6 416.0h.6v.6h-.6zM389.4 417.7h.6v.6h-.6zM390.9 416.8h.6v.6h-.6zM392.9 413.2h.6v.6h-.6zM386.8 419.0h.6v.6h-.6zM391.1 418.2h.6v.6h-.6zM383.6 421.5h.6v.6h-.6zM394.2 416.4h.6v.6h-.6zM390.6 416.5h.6v.6h-.6zM383.6 419.8h.6v.6h-.6zM387.5 417.4h.6v.6h-.6zM389.4 417.6h.6v.6h-.6zM389.4 416.0h.6v.6h-.6zM391.7 416.3h.6v.6h-.6zM390.0 415.5h.6v.6h-.6zM379.7 420.2h.6v.6h-.6zM396.7 411.5h.6v.6h-.6zM391.9 417.2h.6v.6h-.6zM387.2 416.5h.6v.6h-.6zM386.9 416.6h.6v.6h-.6zM381.5 422.3h.6v.6h-.6zM391.4 415.8h.6v.6h-.6z"/>
<path fill="#111" fill-opacity="0.6" d="M384.1 418.9h.6v.6h-.6zM389.8 417.3h.6v.6h-.6zM383.3 420.1h.6v.6h-.6zM394.4 415.4h.6v.6h-.6zM385.7 417.7h.6v.6h-.6zM387.7 417.6h.6v.6h-.6zM377.3 427.5h.6v.6h-.6zM388.1 417.7h.6v.6h-.6zM391.3 414.9h.6v.6h-.6zM381.3 419.7h.6v.6h-.6zM389.1 414.7h.6v.6h-.6zM389.1 417.3h.6v.6h-.6zM386.8 418.2h.6v.6h-.6zM392.4 414.8h.6v.6h-.6zM384.0 417.1h.6v.6h-.6zM387.1 415.8h.6v.6h-.6zM383.7 417.6h.6v.6h-.6zM391.9 415.0h.6v.6h-.6zM388.9 417.8h.6v.6h-.6zM391.2 415.6h.6v.6h-.6zM386.3 418.3h.6v.6h-.6zM390.6 412.0h.6v.6h-.6zM387.6 416.2h.6v.6h-.6zM392.0 413.3h.6v.6h-.6zM390.2 418.2h.6v.6h-.6zM390.8 412.6h.6v.6h-.6zM385.8 420.0h.6v.6h-.6zM384.9 420.0h.6v.6h-.6zM382.5 419.8h.6v.6h-.6zM387.6 421.9h.6v.6h-.6zM395.2 415.4h.6v.6h-.6zM389.2 418.3h.6v.6h-.6zM392.4 415.1h.6v.6h-.6zM387.5 417.1h.6v.6h-.6zM391.1 418.1h.6v.6h-.6zM381.6 420.4h.6v.6h-.6zM385.0 421.5h.6v.6h-.6zM384.3 420.6h.6v.6h-.6zM391.0 419.7h.6v.6h-.6zM393.4 413.2h.6v.6h-.6zM385.0 419.6h.6v.6h-.6zM391.6 414.9h.6v.6h-.6zM394.1 418.5h.6v.6h-.6zM381.0 422.1h.6v.6h-.6zM382.4 420.4h.6v.6h-.6zM382.5 424.2h.6v.6h-.6zM383.1 422.0h.6v.6h-.6zM389.1 416.5h.6v.6h-.6zM393.1 413.6h.6v.6h-.6zM385.5 418.7h.6v.6h-.6zM386.6 414.4h.6v.6h-.6zM386.2 419.9h.6v.6h-.6zM383.5 421.4h.6v.6h-.6zM380.5 422.0h.6v.6h-.6zM388.1 419.6h.6v.6h-.6zM383.9 419.8h.6v.6h-.6zM383.8 423.0h.6v.6h-.6zM381.3 419.8h.6v.6h-.6zM385.4 418.4h.6v.6h-.6zM387.1 418.3h.6v.6h-.6zM380.2 424.2h.6v.6h-.6zM389.4 418.0h.6v.6h-.6zM387.4 421.5h.6v.6h-.6zM386.9 421.0h.6v.6h-.6zM388.7 419.2h.6v.6h-.6zM374.6 425.6h.6v.6h-.6zM388.0 423.2h.6v.6h-.6zM385.2 419.8h.6v.6h-.6zM389.4 415.2h.6v.6h-.6zM391.6 417.0h.6v.6h-.6zM392.3 414.1h.6v.6h-.6zM380.8 422.9h.6v.6h-.6zM388.9 419.0h.6v.6h-.6zM390.4 416.7h.6v.6h-.6zM374.7 427.0h.6v.6h-.6zM384.2 420.2h.6v.6h-.6zM390.7 415.8h.6v.6h-.6zM386.5 418.1h.6v.6h-.6zM387.3 419.4h.6v.6h-.6zM393.4 417.1h.6v.6h-.6zM382.4 420.7h.6v.6h-.6zM386.7 416.0h.6v.6h-.6zM387.6 419.1h.6v.6h-.6zM391.2 415.8h.6v.6h-.6zM396.2 416.3h.6v.6h-.6zM392.5 415.0h.6v.6h-.6zM386.3 421.3h.6v.6h-.6zM389.8 414.5h.6v.6h-.6zM385.4 417.4h.6v.6h-.6zM386.7 420.5h.6v.6h-.6zM385.7 420.1h.6v.6h-.6zM385.5 418.9h.6v.6h-.6zM388.4 415.8h.6v.6h-.6zM384.7 420.7h.6v.6h-.6zM383.9 419.3h.6v.6h-.6zM387.2 419.5h.6v.6h-.6zM381.9 422.5h.6v.6h-.6zM389.2 417.8h.6v.6h-.6zM391.5 414.6h.6v.6h-.6zM388.8 419.1h.6v.6h-.6zM382.4 419.0h.6v.6h-.6zM394.6 412.8h.6v.6h-.6zM386.4 419.6h.6v.6h-.6zM387.6 419.5h.6v.6h-.6zM389.7 415.2h.6v.6h-.6zM390.7 419.7h.6v.6h-.6zM391.8 414.0h.6v.6h-.6zM388.1 415.8h.6v.6h-.6zM387.6 421.0h.6v.6h-.6zM383.8 420.2h.6v.6h-.6zM386.0 421.0h.6v.6h-.6zM393.3 413.2h.6v.6h-.6z"/>
<path fill="#111" fill-opacity="0.2" d="M383.8 425.0h.6v.6h-.6zM387.1 414.2h.6v.6h-.6zM379.9 425.6h.6v.6h-.6zM392.7 412.1h.6v.6h-.6zM398.2 416.4h.6v.6h-.6zM381.1 424.6h.6v.6h-.6zM389.3 406.5h.6v.6h-.6zM380.8 415.1h.6v.6h-.6z"/>
<path fill="#111" fill-opacity="0.2" d="M386.9 411.2h.6v.6h-.6zM386.0 409.8h.6v.6h-.6zM387.4 412.6h.6v.6h-.6zM380.8 417.6h.6v.6h-.6zM399.1 409.3h.6v.6h-.6zM397.0 424.7h.6v.6h-.6zM390.0 409.3h.6v.6h-.6zM379.9 409.0h.6v.6h-.6z"/>
<path fill="#111" fill-opacity="0.2" d="M393.8 424.0h.6v.6h-.6zM390.0 419.3h.6v.6h-.6zM396.6 411.9h.6v.6h-.6zM382.2 421.1h.6v.6h-.6zM386.4 406.3h.6v.6h-.6zM396.1 416.9h.6v.6h-.6zM399.1 412.4h.6v.6h-.6zM389.5 417.5h.6v.6h-.6z"/>
<path fill="#111" fill-opacity="0.2" d="M386.1 420.7h.6v.6h-.6zM378.6 423.6h.6v.6h-.6zM395.4 414.5h.6v.6h-.6zM391.1 410.4h.6v.6h-.6zM379.1 420.2h.6v.6h-.6zM393.4 408.5h.6v.6h-.6zM389.5 411.2h.6v.6h-.6zM382.7 409.6h.6v.6h-.6z"/>
<path fill="#111" fill-opacity="0.2" d="M385.3 425.9h.6v.6h-.6zM383.7 415.5h.6v.6h-.6zM380.6 417.5h.6v.6h-.6zM395.1 425.4h.6v.6h-.6zM378.7 410.4h.6v.6h-.6zM392.2 413.1h.6v.6h-.6zM397.9 406.2h.6v.6h-.6z"/>
<path fill="#111" fill-opacity="0.2" d="M384.6 406.7h.6v.6h-.6zM382.8 419.5h.6v.6h-.6zM384.2 410.0h.6v.6h-.6zM388.6 425.4h.6v.6h-.6zM387.6 424.4h.6v.6h-.6zM385.4 412.3h.6v.6h-.6zM384.7 410.5h.6v.6h-.6z"/>
<path fill="#111" fill-opacity="0.2" d="M378.1 416.9h.6v.6h-.6zM386.9 417.6h.6v.6h-.6zM399.8 424.7h.6v.6h-.6zM387.9 406.3h.6v.6h-.6zM383.2 406.1h.6v.6h-.6zM379.8 422.2h.6v.6h-.6zM394.4 413.4h.6v.6h-.6z"/>
<path fill="#111" fill-opacity="0.2" d="M391.7 411.7h.6v.6h-.6zM387.0 416.2h.6v.6h-.6zM388.4 422.2h.6v.6h-.6zM388.2 413.0h.6v.6h-.6zM393.4 419.9h.6v.6h-.6zM394.8 406.2h.6v.6h-.6zM397.0 412.6h.6v.6h-.6z"/>
<path fill="#111" fill-opacity="0.12" d="M405.4 436.1h.6v.6h-.6zM396.7 432.6h.6v.6h-.6zM397.4 436.4h.6v.6h-.6zM397.8 437.2h.6v.6h-.6zM397.8 441.9h.6v.6h-.6z"/>
<path fill="#111" fill-opacity="0.12" d="M404.7 439.7h.6v.6h-.6zM407.5 436.1h.6v.6h-.6zM407.2 435.5h.6v.6h-.6zM406.3 440.0h.6v.6h-.6zM396.0 435.2h.6v.6h-.6z"/>
<path fill="#111" fill-opacity="0.12" d="M398.5 429.2h.6v.6h-.6zM411.7 442.2h.6v.6h-.6zM404.5 439.1h.6v.6h-.6zM397.3 440.6h.6v.6h-.6zM396.8 441.2h.6v.6h-.6z"/>
<path fill="#111" fill-opacity="0.12" d="M397.2 441.7h.6v.6h-.6zM408.0 445.0h.6v.6h-.6zM408.6 440.3h.6v.6h-.6zM400.9 435.2h.6v.6h-.6zM413.8 429.5h.6v.6h-.6z"/>
<path fill="#111" fill-opacity="0.12" d="M408.6 431.5h.6v.6h-.6zM413.3 443.1h.6v.6h-.6zM403.5 431.7h.6v.6h-.6zM398.2 442.5h.6v.6h-.6zM402.5 444.6h.6v.6h-.6z"/>
<path fill="#111" fill-opacity="0.12" d="M401.9 433.9h.6v.6h-.6zM397.6 435.4h.6v.6h-.6zM411.7 429.7h.6v.6h-.6zM407.1 442.0h.6v.6h-.6zM400.5 434.0h.6v.6h-.6z"/>
<path fill="#111" fill-opacity="0.12" d="M412.6 435.6h.6v.6h-.6zM398.6 438.8h.6v.6h-.6zM399.7 432.0h.6v.6h-.6zM405.3 430.8h.6v.6h-.6zM413.8 443.7h.6v.6h-.6z"/>
<path fill="#111" fill-opacity="0.12" d="M408.9 430.4h.6v.6h-.6zM405.1 430.5h.6v.6h-.6zM406.7 438.9h.6v.6h-.6zM403.2 430.3h.6v.6h-.6zM403.0 439.7h.6v.6h-.6z"/>
<rect x="378" y="406.1" width="20.5" height="16.7" fill="none" stroke="#949dcc" stroke-width="0.8"/>
<rect x="395.3" y="428.4" width="19.1" height="17.1" fill="none" stroke="#949dcc" stroke-width="0.8"/>
<text x="380.4" y="404.5" font-size="6.6" textLength="10.3" lengthAdjust="spacingAndGlyphs">92%</text>
<text x="405.4" y="439.6" font-size="6.6" textLength="8.8" lengthAdjust="spacingAndGlyphs">4%</text>
<text x="369.5" y="422.5" font-size="7.0" text-anchor="middle" textLength="29.8" lengthAdjust="spacingAndGlyphs" transform="rotate(-90 369.5 422.5)">CD45.1 PE</text>
<text x="380.8" y="459.6" font-size="6.9" textLength="48.2" lengthAdjust="spacingAndGlyphs">CD45.2 Pac. Blue</text>
<path d="M452.8,317.4 H501.1 V368.1" fill="none" stroke="#c4c4c4" stroke-width="0.6"/>
<path d="M452.8,317.4 V368.1 H501.1" fill="none" stroke="#707070" stroke-width="0.7"/>
<path d="M452.8,368.1 v1.2 M455.5,368.1 v1.2 M458.2,368.1 v1.2 M460.9,368.1 v1.2 M463.5,368.1 v1.2 M466.2,368.1 v1.2 M468.9,368.1 v1.2 M471.6,368.1 v1.2 M474.3,368.1 v1.2 M477.0,368.1 v1.2 M479.6,368.1 v1.2 M482.3,368.1 v1.2 M485.0,368.1 v1.2 M487.7,368.1 v1.2 M490.4,368.1 v1.2 M493.1,368.1 v1.2 M495.7,368.1 v1.2 M498.4,368.1 v1.2 M501.1,368.1 v1.2 " stroke="#777" stroke-width="0.35"/>
<rect x="447.2" y="321.9" width="3.4" height="1.2" fill="#777"/>
<line x1="451.6" y1="322.5" x2="452.8" y2="322.5" stroke="#666" stroke-width="0.4"/>
<rect x="447.2" y="332.9" width="3.4" height="1.2" fill="#777"/>
<line x1="451.6" y1="333.5" x2="452.8" y2="333.5" stroke="#666" stroke-width="0.4"/>
<rect x="447.2" y="345.4" width="3.4" height="1.2" fill="#777"/>
<line x1="451.6" y1="346" x2="452.8" y2="346" stroke="#666" stroke-width="0.4"/>
<rect x="447.2" y="356.7" width="3.4" height="1.2" fill="#777"/>
<line x1="451.6" y1="357.3" x2="452.8" y2="357.3" stroke="#666" stroke-width="0.4"/>
<rect x="447.2" y="363.29999999999995" width="3.4" height="1.2" fill="#777"/>
<line x1="451.6" y1="363.9" x2="452.8" y2="363.9" stroke="#666" stroke-width="0.4"/>
<rect x="456.7" y="369.90000000000003" width="2.6" height="1.0" fill="#999"/>
<rect x="461.2" y="369.90000000000003" width="2.6" height="1.0" fill="#999"/>
<rect x="474.2" y="369.90000000000003" width="2.6" height="1.0" fill="#999"/>
<rect x="486.7" y="369.90000000000003" width="2.6" height="1.0" fill="#999"/>
<rect x="496.7" y="369.90000000000003" width="2.6" height="1.0" fill="#999"/>
<rect x="454.5" y="317.6" width="46.6" height="32.8" fill="none" stroke="#dca4a4" stroke-width="0.8"/>
<path fill="#1c48e6" fill-opacity="0.7" d="M477.0 334.4h.7v.7h-.7zM475.8 335.2h.7v.7h-.7zM476.9 333.0h.7v.7h-.7zM475.8 335.3h.7v.7h-.7zM476.2 332.0h.7v.7h-.7zM476.9 334.9h.7v.7h-.7zM475.0 334.3h.7v.7h-.7zM474.0 334.9h.7v.7h-.7zM476.4 334.2h.7v.7h-.7zM474.5 333.9h.7v.7h-.7zM476.2 332.6h.7v.7h-.7zM476.1 333.2h.7v.7h-.7zM475.1 334.2h.7v.7h-.7zM477.6 333.7h.7v.7h-.7zM476.5 332.1h.7v.7h-.7zM475.7 335.0h.7v.7h-.7zM476.4 334.5h.7v.7h-.7zM476.1 332.0h.7v.7h-.7zM474.3 332.8h.7v.7h-.7zM477.0 336.1h.7v.7h-.7zM476.2 334.2h.7v.7h-.7zM475.0 334.9h.7v.7h-.7zM473.5 335.7h.7v.7h-.7zM476.2 333.9h.7v.7h-.7zM475.6 333.8h.7v.7h-.7zM473.0 333.3h.7v.7h-.7zM475.0 335.3h.7v.7h-.7zM474.2 333.0h.7v.7h-.7zM477.0 335.1h.7v.7h-.7zM475.6 335.2h.7v.7h-.7zM475.9 335.4h.7v.7h-.7zM473.7 335.0h.7v.7h-.7zM475.2 332.4h.7v.7h-.7zM476.0 333.5h.7v.7h-.7zM474.9 335.1h.7v.7h-.7zM475.4 332.6h.7v.7h-.7zM477.4 334.1h.7v.7h-.7zM476.3 335.7h.7v.7h-.7z"/>
<path fill="#1c48e6" fill-opacity="0.7" d="M474.8 335.2h.7v.7h-.7zM477.3 335.0h.7v.7h-.7zM474.2 334.5h.7v.7h-.7zM475.4 335.2h.7v.7h-.7zM475.5 333.7h.7v.7h-.7zM475.6 334.5h.7v.7h-.7zM476.8 333.4h.7v.7h-.7zM475.8 333.8h.7v.7h-.7zM474.1 333.0h.7v.7h-.7zM476.4 336.0h.7v.7h-.7zM475.3 335.0h.7v.7h-.7zM472.9 334.1h.7v.7h-.7zM475.9 333.1h.7v.7h-.7zM474.7 334.7h.7v.7h-.7zM474.2 335.0h.7v.7h-.7zM476.7 334.2h.7v.7h-.7zM475.6 334.3h.7v.7h-.7zM475.8 333.9h.7v.7h-.7zM475.9 333.9h.7v.7h-.7zM476.0 333.3h.7v.7h-.7zM476.4 333.1h.7v.7h-.7zM474.6 336.2h.7v.7h-.7zM475.1 333.2h.7v.7h-.7zM475.8 334.4h.7v.7h-.7zM476.2 334.4h.7v.7h-.7zM475.0 333.1h.7v.7h-.7zM477.6 331.4h.7v.7h-.7zM478.0 332.2h.7v.7h-.7zM476.5 334.7h.7v.7h-.7zM475.7 334.5h.7v.7h-.7zM474.3 332.6h.7v.7h-.7zM477.3 333.9h.7v.7h-.7zM476.1 335.2h.7v.7h-.7zM476.0 334.9h.7v.7h-.7zM473.5 334.3h.7v.7h-.7zM473.9 332.5h.7v.7h-.7zM478.2 333.1h.7v.7h-.7zM475.5 336.0h.7v.7h-.7z"/>
<path fill="#1c48e6" fill-opacity="0.7" d="M475.8 333.1h.7v.7h-.7zM474.8 334.8h.7v.7h-.7zM475.7 334.5h.7v.7h-.7zM474.6 332.1h.7v.7h-.7zM474.8 333.0h.7v.7h-.7zM475.7 335.1h.7v.7h-.7zM475.2 334.6h.7v.7h-.7zM473.6 331.9h.7v.7h-.7zM477.1 334.0h.7v.7h-.7zM477.0 334.2h.7v.7h-.7zM475.5 334.1h.7v.7h-.7zM475.0 333.4h.7v.7h-.7zM477.5 333.3h.7v.7h-.7zM477.3 334.5h.7v.7h-.7zM474.9 333.7h.7v.7h-.7zM475.5 332.8h.7v.7h-.7zM474.6 333.3h.7v.7h-.7zM474.5 335.0h.7v.7h-.7zM475.1 333.0h.7v.7h-.7zM478.4 333.8h.7v.7h-.7zM476.4 332.9h.7v.7h-.7zM474.8 333.7h.7v.7h-.7zM475.8 336.0h.7v.7h-.7zM474.7 333.9h.7v.7h-.7zM475.2 335.0h.7v.7h-.7zM475.8 334.8h.7v.7h-.7zM474.9 333.4h.7v.7h-.7zM475.9 334.9h.7v.7h-.7zM476.6 333.8h.7v.7h-.7zM474.5 332.9h.7v.7h-.7zM477.0 332.6h.7v.7h-.7zM476.7 333.0h.7v.7h-.7zM475.9 332.9h.7v.7h-.7zM475.8 332.7h.7v.7h-.7zM475.4 332.9h.7v.7h-.7zM474.9 332.2h.7v.7h-.7zM476.7 332.3h.7v.7h-.7zM476.9 334.2h.7v.7h-.7z"/>
<path fill="#1c48e6" fill-opacity="0.7" d="M473.1 333.0h.7v.7h-.7zM475.5 334.5h.7v.7h-.7zM476.8 335.3h.7v.7h-.7zM475.0 334.9h.7v.7h-.7zM475.7 334.8h.7v.7h-.7zM475.8 334.4h.7v.7h-.7zM478.0 335.3h.7v.7h-.7zM475.2 334.8h.7v.7h-.7zM477.1 334.5h.7v.7h-.7zM474.0 335.0h.7v.7h-.7zM476.2 334.2h.7v.7h-.7zM476.8 333.3h.7v.7h-.7zM475.7 332.7h.7v.7h-.7zM476.9 334.8h.7v.7h-.7zM477.2 335.3h.7v.7h-.7zM477.0 333.5h.7v.7h-.7zM475.6 335.0h.7v.7h-.7zM475.7 333.7h.7v.7h-.7zM475.1 333.7h.7v.7h-.7zM476.3 333.7h.7v.7h-.7zM475.0 333.5h.7v.7h-.7zM476.6 331.7h.7v.7h-.7zM475.1 334.1h.7v.7h-.7zM476.6 333.5h.7v.7h-.7zM475.3 335.1h.7v.7h-.7zM474.6 333.4h.7v.7h-.7zM475.3 335.8h.7v.7h-.7zM476.3 334.2h.7v.7h-.7zM476.2 334.2h.7v.7h-.7zM477.5 334.3h.7v.7h-.7zM475.4 334.2h.7v.7h-.7zM477.3 333.4h.7v.7h-.7zM475.5 332.0h.7v.7h-.7zM476.3 333.8h.7v.7h-.7zM476.5 333.6h.7v.7h-.7zM476.1 334.1h.7v.7h-.7zM476.4 333.3h.7v.7h-.7zM474.3 335.4h.7v.7h-.7z"/>
<path fill="#1c48e6" fill-opacity="0.7" d="M476.2 333.0h.7v.7h-.7zM476.8 333.4h.7v.7h-.7zM475.4 333.7h.7v.7h-.7zM476.2 332.1h.7v.7h-.7zM475.1 334.4h.7v.7h-.7zM475.7 333.2h.7v.7h-.7zM476.8 333.1h.7v.7h-.7zM476.2 334.9h.7v.7h-.7zM476.7 333.7h.7v.7h-.7zM475.2 334.3h.7v.7h-.7zM476.1 334.6h.7v.7h-.7zM476.2 334.2h.7v.7h-.7zM476.0 334.5h.7v.7h-.7zM476.7 335.6h.7v.7h-.7zM476.2 334.7h.7v.7h-.7zM476.1 335.8h.7v.7h-.7zM475.5 333.9h.7v.7h-.7zM476.6 333.1h.7v.7h-.7zM477.0 334.8h.7v.7h-.7zM475.1 334.6h.7v.7h-.7zM474.4 332.0h.7v.7h-.7zM477.2 333.1h.7v.7h-.7zM475.4 333.1h.7v.7h-.7zM477.2 333.8h.7v.7h-.7zM477.2 334.5h.7v.7h-.7zM473.9 333.3h.7v.7h-.7zM477.4 334.1h.7v.7h-.7zM474.1 333.6h.7v.7h-.7zM475.5 334.8h.7v.7h-.7zM475.7 332.6h.7v.7h-.7zM477.7 331.9h.7v.7h-.7zM475.0 333.3h.7v.7h-.7zM475.7 335.4h.7v.7h-.7zM475.3 334.7h.7v.7h-.7zM476.3 333.6h.7v.7h-.7zM475.8 334.4h.7v.7h-.7zM476.8 334.2h.7v.7h-.7z"/>
<path fill="#1c48e6" fill-opacity="0.7" d="M476.8 336.5h.7v.7h-.7zM476.0 335.7h.7v.7h-.7zM473.8 333.1h.7v.7h-.7zM476.0 334.8h.7v.7h-.7zM476.5 334.1h.7v.7h-.7zM473.5 334.7h.7v.7h-.7zM476.5 335.4h.7v.7h-.7zM474.0 334.3h.7v.7h-.7zM476.0 333.7h.7v.7h-.7zM476.2 332.6h.7v.7h-.7zM475.8 332.9h.7v.7h-.7zM476.0 336.3h.7v.7h-.7zM476.9 335.2h.7v.7h-.7zM475.5 332.6h.7v.7h-.7zM473.0 334.7h.7v.7h-.7zM476.6 332.7h.7v.7h-.7zM476.1 335.7h.7v.7h-.7zM475.1 335.0h.7v.7h-.7zM477.2 335.0h.7v.7h-.7zM474.6 333.9h.7v.7h-.7zM476.2 334.7h.7v.7h-.7zM476.0 335.2h.7v.7h-.7zM474.4 334.7h.7v.7h-.7zM474.7 333.8h.7v.7h-.7zM476.8 332.7h.7v.7h-.7zM473.6 332.5h.7v.7h-.7zM476.5 332.4h.7v.7h-.7zM474.2 336.2h.7v.7h-.7zM478.0 331.9h.7v.7h-.7zM474.7 333.0h.7v.7h-.7zM472.8 334.0h.7v.7h-.7zM474.0 334.8h.7v.7h-.7zM477.0 334.0h.7v.7h-.7zM474.9 335.1h.7v.7h-.7zM475.5 334.7h.7v.7h-.7zM475.7 333.8h.7v.7h-.7zM476.8 334.8h.7v.7h-.7z"/>
<path fill="#1c48e6" fill-opacity="0.7" d="M476.1 334.4h.7v.7h-.7zM474.9 333.9h.7v.7h-.7zM476.1 334.4h.7v.7h-.7zM477.6 335.0h.7v.7h-.7zM477.8 333.8h.7v.7h-.7zM474.5 334.6h.7v.7h-.7zM474.5 334.1h.7v.7h-.7zM477.2 332.4h.7v.7h-.7zM476.7 333.5h.7v.7h-.7zM476.9 335.1h.7v.7h-.7zM475.5 335.2h.7v.7h-.7zM473.8 335.2h.7v.7h-.7zM475.3 335.9h.7v.7h-.7zM475.7 333.3h.7v.7h-.7zM476.2 332.6h.7v.7h-.7zM475.7 333.3h.7v.7h-.7zM474.5 334.7h.7v.7h-.7zM476.7 336.3h.7v.7h-.7zM476.6 335.4h.7v.7h-.7zM477.3 334.2h.7v.7h-.7zM476.5 336.5h.7v.7h-.7zM476.0 335.1h.7v.7h-.7zM476.5 333.3h.7v.7h-.7zM474.4 334.8h.7v.7h-.7zM476.4 332.5h.7v.7h-.7zM476.3 335.1h.7v.7h-.7zM475.5 333.8h.7v.7h-.7zM476.2 334.9h.7v.7h-.7zM477.3 333.6h.7v.7h-.7zM475.7 334.0h.7v.7h-.7zM476.9 334.3h.7v.7h-.7zM477.9 332.6h.7v.7h-.7zM476.3 333.5h.7v.7h-.7zM476.4 333.4h.7v.7h-.7zM476.8 335.2h.7v.7h-.7zM475.5 334.1h.7v.7h-.7zM476.3 333.8h.7v.7h-.7z"/>
<path fill="#1c48e6" fill-opacity="0.7" d="M475.7 335.1h.7v.7h-.7zM476.6 333.9h.7v.7h-.7zM474.2 335.0h.7v.7h-.7zM476.3 332.4h.7v.7h-.7zM475.0 332.1h.7v.7h-.7zM476.5 336.2h.7v.7h-.7zM475.6 334.8h.7v.7h-.7zM476.5 333.3h.7v.7h-.7zM477.0 335.8h.7v.7h-.7zM476.4 334.8h.7v.7h-.7zM475.1 334.6h.7v.7h-.7zM475.7 333.8h.7v.7h-.7zM475.7 335.8h.7v.7h-.7zM474.6 333.9h.7v.7h-.7zM476.0 334.6h.7v.7h-.7zM474.1 333.2h.7v.7h-.7zM476.0 334.0h.7v.7h-.7zM475.3 332.5h.7v.7h-.7zM476.3 335.8h.7v.7h-.7zM476.7 334.8h.7v.7h-.7zM476.0 334.9h.7v.7h-.7zM475.3 334.8h.7v.7h-.7zM476.0 334.6h.7v.7h-.7zM474.2 334.1h.7v.7h-.7zM475.6 334.9h.7v.7h-.7zM475.0 334.5h.7v.7h-.7zM475.6 334.4h.7v.7h-.7zM476.0 333.7h.7v.7h-.7zM477.0 333.0h.7v.7h-.7zM475.2 333.4h.7v.7h-.7zM475.0 334.3h.7v.7h-.7zM475.6 334.6h.7v.7h-.7zM475.9 333.5h.7v.7h-.7zM475.1 334.0h.7v.7h-.7zM475.8 335.7h.7v.7h-.7zM474.6 335.5h.7v.7h-.7zM477.5 334.5h.7v.7h-.7z"/>
<path fill="#1c48e6" fill-opacity="0.2" d="M473.5 335.3h.7v.7h-.7zM476.8 334.0h.7v.7h-.7zM472.9 334.8h.7v.7h-.7zM477.0 337.5h.7v.7h-.7zM473.4 339.0h.7v.7h-.7zM472.5 335.6h.7v.7h-.7zM475.2 339.3h.7v.7h-.7zM475.2 332.1h.7v.7h-.7zM475.7 334.9h.7v.7h-.7zM477.7 340.0h.7v.7h-.7zM474.8 334.4h.7v.7h-.7zM467.9 329.9h.7v.7h-.7z"/>
<path fill="#1c48e6" fill-opacity="0.2" d="M474.9 338.0h.7v.7h-.7zM476.9 334.4h.7v.7h-.7zM473.5 330.2h.7v.7h-.7zM477.0 336.9h.7v.7h-.7zM484.9 337.5h.7v.7h-.7zM473.8 333.4h.7v.7h-.7zM475.6 338.7h.7v.7h-.7zM478.0 341.3h.7v.7h-.7zM479.2 334.9h.7v.7h-.7zM474.1 336.4h.7v.7h-.7zM470.6 341.1h.7v.7h-.7zM472.8 336.5h.7v.7h-.7z"/>
<path fill="#1c48e6" fill-opacity="0.2" d="M476.6 329.3h.7v.7h-.7zM476.9 332.6h.7v.7h-.7zM473.0 338.6h.7v.7h-.7zM476.7 338.8h.7v.7h-.7zM473.0 336.2h.7v.7h-.7zM467.9 332.7h.7v.7h-.7zM479.0 339.9h.7v.7h-.7zM477.6 335.9h.7v.7h-.7zM471.3 334.8h.7v.7h-.7zM481.1 337.7h.7v.7h-.7zM467.9 334.9h.7v.7h-.7z"/>
<path fill="#1c48e6" fill-opacity="0.2" d="M472.3 336.1h.7v.7h-.7zM478.4 330.2h.7v.7h-.7zM470.1 344.0h.7v.7h-.7zM475.9 337.0h.7v.7h-.7zM473.8 335.9h.7v.7h-.7zM474.2 336.0h.7v.7h-.7zM475.2 337.1h.7v.7h-.7zM468.8 336.0h.7v.7h-.7zM476.0 332.7h.7v.7h-.7zM473.3 336.3h.7v.7h-.7zM476.8 334.4h.7v.7h-.7z"/>
<path fill="#1c48e6" fill-opacity="0.2" d="M475.1 337.5h.7v.7h-.7zM472.3 334.9h.7v.7h-.7zM477.7 340.5h.7v.7h-.7zM475.9 335.5h.7v.7h-.7zM481.4 340.0h.7v.7h-.7zM471.0 334.6h.7v.7h-.7zM487.5 331.2h.7v.7h-.7zM474.4 332.5h.7v.7h-.7zM471.9 335.9h.7v.7h-.7zM469.8 328.5h.7v.7h-.7zM474.2 336.0h.7v.7h-.7z"/>
<path fill="#1c48e6" fill-opacity="0.2" d="M476.4 340.1h.7v.7h-.7zM475.3 332.5h.7v.7h-.7zM475.1 327.8h.7v.7h-.7zM471.6 329.4h.7v.7h-.7zM478.7 335.9h.7v.7h-.7zM480.5 335.5h.7v.7h-.7zM475.2 336.5h.7v.7h-.7zM468.2 336.4h.7v.7h-.7zM477.4 334.3h.7v.7h-.7zM472.0 332.8h.7v.7h-.7zM475.3 334.0h.7v.7h-.7z"/>
<path fill="#1c48e6" fill-opacity="0.2" d="M472.1 339.1h.7v.7h-.7zM473.2 335.8h.7v.7h-.7zM476.0 340.0h.7v.7h-.7zM471.2 331.1h.7v.7h-.7zM480.4 337.6h.7v.7h-.7zM468.0 334.4h.7v.7h-.7zM472.2 337.6h.7v.7h-.7zM477.7 337.3h.7v.7h-.7zM476.1 333.5h.7v.7h-.7zM470.1 338.3h.7v.7h-.7zM478.1 336.6h.7v.7h-.7z"/>
<path fill="#1c48e6" fill-opacity="0.2" d="M475.8 336.0h.7v.7h-.7zM478.0 339.1h.7v.7h-.7zM472.6 339.0h.7v.7h-.7zM469.6 337.2h.7v.7h-.7zM477.5 331.3h.7v.7h-.7zM474.5 339.0h.7v.7h-.7zM474.0 337.5h.7v.7h-.7zM482.1 329.1h.7v.7h-.7zM473.4 335.6h.7v.7h-.7zM473.0 335.3h.7v.7h-.7zM479.5 335.3h.7v.7h-.7z"/>
<text x="483" y="328.7" font-size="6.6" textLength="12.1" lengthAdjust="spacingAndGlyphs">98%</text>
<text x="442.6" y="343.9" font-size="7.2" text-anchor="middle" textLength="11.6" lengthAdjust="spacingAndGlyphs" transform="rotate(-90 442.6 343.9)">GFP</text>
<text x="463.1" y="384.6" font-size="7.2" textLength="30.4" lengthAdjust="spacingAndGlyphs">CD45.1 PE</text>
<path d="M451.6,394.5 H500.8 V446.1" fill="none" stroke="#c4c4c4" stroke-width="0.6"/>
<path d="M451.6,394.5 V446.1 H500.8" fill="none" stroke="#707070" stroke-width="0.7"/>
<path d="M451.6,446.1 v1.2 M454.3,446.1 v1.2 M457.1,446.1 v1.2 M459.8,446.1 v1.2 M462.5,446.1 v1.2 M465.3,446.1 v1.2 M468.0,446.1 v1.2 M470.7,446.1 v1.2 M473.5,446.1 v1.2 M476.2,446.1 v1.2 M478.9,446.1 v1.2 M481.7,446.1 v1.2 M484.4,446.1 v1.2 M487.1,446.1 v1.2 M489.9,446.1 v1.2 M492.6,446.1 v1.2 M495.3,446.1 v1.2 M498.1,446.1 v1.2 M500.8,446.1 v1.2 " stroke="#777" stroke-width="0.35"/>
<rect x="446.0" y="398.4" width="3.4" height="1.2" fill="#777"/>
<line x1="450.40000000000003" y1="399" x2="451.6" y2="399" stroke="#666" stroke-width="0.4"/>
<rect x="446.0" y="410.9" width="3.4" height="1.2" fill="#777"/>
<line x1="450.40000000000003" y1="411.5" x2="451.6" y2="411.5" stroke="#666" stroke-width="0.4"/>
<rect x="446.0" y="422.4" width="3.4" height="1.2" fill="#777"/>
<line x1="450.40000000000003" y1="423" x2="451.6" y2="423" stroke="#666" stroke-width="0.4"/>
<rect x="446.0" y="434.9" width="3.4" height="1.2" fill="#777"/>
<line x1="450.40000000000003" y1="435.5" x2="451.6" y2="435.5" stroke="#666" stroke-width="0.4"/>
<rect x="446.0" y="440.4" width="3.4" height="1.2" fill="#777"/>
<line x1="450.40000000000003" y1="441" x2="451.6" y2="441" stroke="#666" stroke-width="0.4"/>
<rect x="455.7" y="447.90000000000003" width="2.6" height="1.0" fill="#999"/>
<rect x="460.2" y="447.90000000000003" width="2.6" height="1.0" fill="#999"/>
<rect x="472.7" y="447.90000000000003" width="2.6" height="1.0" fill="#999"/>
<rect x="485.2" y="447.90000000000003" width="2.6" height="1.0" fill="#999"/>
<rect x="495.2" y="447.90000000000003" width="2.6" height="1.0" fill="#999"/>
<rect x="452.4" y="394.7" width="48.4" height="33.5" fill="none" stroke="#949dcc" stroke-width="0.8"/>
<path fill="#e8281a" fill-opacity="0.7" d="M471.5 410.9h.7v.7h-.7zM471.8 409.7h.7v.7h-.7zM475.4 410.1h.7v.7h-.7zM473.6 411.2h.7v.7h-.7zM473.9 411.6h.7v.7h-.7zM473.4 409.6h.7v.7h-.7zM473.1 410.3h.7v.7h-.7zM472.6 412.3h.7v.7h-.7zM474.9 411.6h.7v.7h-.7zM473.6 411.1h.7v.7h-.7zM472.8 410.2h.7v.7h-.7zM472.6 410.2h.7v.7h-.7zM472.3 413.0h.7v.7h-.7zM472.7 412.6h.7v.7h-.7zM471.3 412.2h.7v.7h-.7zM473.9 413.1h.7v.7h-.7zM474.9 411.8h.7v.7h-.7zM471.6 412.5h.7v.7h-.7zM471.4 412.9h.7v.7h-.7zM471.9 409.9h.7v.7h-.7zM472.2 411.3h.7v.7h-.7zM474.4 411.3h.7v.7h-.7zM473.4 409.8h.7v.7h-.7zM473.7 410.5h.7v.7h-.7zM472.3 412.3h.7v.7h-.7zM475.5 412.8h.7v.7h-.7zM474.8 413.6h.7v.7h-.7zM473.2 410.7h.7v.7h-.7zM475.6 411.9h.7v.7h-.7zM471.6 411.6h.7v.7h-.7zM474.7 412.0h.7v.7h-.7zM476.5 409.4h.7v.7h-.7zM474.8 412.8h.7v.7h-.7zM473.5 408.8h.7v.7h-.7zM471.5 411.3h.7v.7h-.7zM472.6 410.4h.7v.7h-.7zM472.9 410.9h.7v.7h-.7zM470.3 412.0h.7v.7h-.7z"/>
<path fill="#e8281a" fill-opacity="0.7" d="M475.1 412.0h.7v.7h-.7zM473.7 411.9h.7v.7h-.7zM473.3 411.0h.7v.7h-.7zM470.5 410.7h.7v.7h-.7zM473.8 412.1h.7v.7h-.7zM474.3 411.6h.7v.7h-.7zM475.2 412.3h.7v.7h-.7zM473.8 411.9h.7v.7h-.7zM473.8 410.4h.7v.7h-.7zM471.7 410.3h.7v.7h-.7zM473.0 410.6h.7v.7h-.7zM474.3 411.6h.7v.7h-.7zM473.5 410.9h.7v.7h-.7zM474.2 412.4h.7v.7h-.7zM473.5 412.8h.7v.7h-.7zM475.3 411.6h.7v.7h-.7zM472.3 413.0h.7v.7h-.7zM475.7 412.8h.7v.7h-.7zM470.7 413.9h.7v.7h-.7zM474.3 414.6h.7v.7h-.7zM471.2 410.5h.7v.7h-.7zM474.3 410.4h.7v.7h-.7zM472.9 413.3h.7v.7h-.7zM476.4 410.7h.7v.7h-.7zM473.7 410.7h.7v.7h-.7zM473.1 409.8h.7v.7h-.7zM472.0 412.3h.7v.7h-.7zM474.2 412.5h.7v.7h-.7zM475.0 410.8h.7v.7h-.7zM474.1 412.0h.7v.7h-.7zM475.1 411.6h.7v.7h-.7zM474.8 411.7h.7v.7h-.7zM472.8 408.7h.7v.7h-.7zM473.1 411.6h.7v.7h-.7zM474.2 411.5h.7v.7h-.7zM472.0 411.3h.7v.7h-.7zM474.5 410.9h.7v.7h-.7zM474.7 413.3h.7v.7h-.7z"/>
<path fill="#e8281a" fill-opacity="0.7" d="M472.6 411.5h.7v.7h-.7zM472.7 410.6h.7v.7h-.7zM472.9 410.6h.7v.7h-.7zM475.5 412.7h.7v.7h-.7zM472.7 409.9h.7v.7h-.7zM471.3 410.9h.7v.7h-.7zM472.4 414.1h.7v.7h-.7zM472.3 411.9h.7v.7h-.7zM471.9 411.9h.7v.7h-.7zM475.4 412.9h.7v.7h-.7zM473.0 412.2h.7v.7h-.7zM472.7 412.2h.7v.7h-.7zM471.2 411.8h.7v.7h-.7zM475.6 411.3h.7v.7h-.7zM473.1 411.5h.7v.7h-.7zM472.6 410.3h.7v.7h-.7zM474.9 410.9h.7v.7h-.7zM473.4 412.1h.7v.7h-.7zM472.2 410.3h.7v.7h-.7zM474.2 411.4h.7v.7h-.7zM474.1 409.1h.7v.7h-.7zM472.3 411.4h.7v.7h-.7zM473.4 412.7h.7v.7h-.7zM475.0 409.9h.7v.7h-.7zM475.1 410.9h.7v.7h-.7zM473.5 411.7h.7v.7h-.7zM473.8 411.8h.7v.7h-.7zM471.5 410.0h.7v.7h-.7zM471.5 411.4h.7v.7h-.7zM473.9 410.7h.7v.7h-.7zM471.4 411.4h.7v.7h-.7zM474.7 411.7h.7v.7h-.7zM473.4 409.5h.7v.7h-.7zM473.4 414.8h.7v.7h-.7zM474.4 410.6h.7v.7h-.7zM473.7 411.0h.7v.7h-.7zM472.7 409.7h.7v.7h-.7zM475.7 409.3h.7v.7h-.7z"/>
<path fill="#e8281a" fill-opacity="0.7" d="M473.6 411.1h.7v.7h-.7zM473.2 412.0h.7v.7h-.7zM474.5 412.6h.7v.7h-.7zM472.0 412.6h.7v.7h-.7zM473.4 413.2h.7v.7h-.7zM473.8 412.1h.7v.7h-.7zM472.6 410.5h.7v.7h-.7zM471.7 412.8h.7v.7h-.7zM473.0 412.3h.7v.7h-.7zM473.9 412.0h.7v.7h-.7zM472.1 411.7h.7v.7h-.7zM474.9 413.0h.7v.7h-.7zM473.4 410.3h.7v.7h-.7zM472.9 409.3h.7v.7h-.7zM475.3 410.9h.7v.7h-.7zM471.1 411.0h.7v.7h-.7zM471.9 412.6h.7v.7h-.7zM471.6 410.9h.7v.7h-.7zM476.1 412.3h.7v.7h-.7zM474.3 410.1h.7v.7h-.7zM473.1 412.5h.7v.7h-.7zM471.3 413.2h.7v.7h-.7zM473.4 410.3h.7v.7h-.7zM474.5 410.1h.7v.7h-.7zM471.1 413.2h.7v.7h-.7zM472.3 411.4h.7v.7h-.7zM475.8 411.3h.7v.7h-.7zM473.2 411.1h.7v.7h-.7zM474.1 411.4h.7v.7h-.7zM471.7 412.8h.7v.7h-.7zM473.0 412.0h.7v.7h-.7zM473.8 412.1h.7v.7h-.7zM475.0 413.5h.7v.7h-.7zM473.3 411.4h.7v.7h-.7zM473.1 411.8h.7v.7h-.7zM473.4 411.8h.7v.7h-.7zM473.9 411.5h.7v.7h-.7zM472.1 410.9h.7v.7h-.7z"/>
<path fill="#e8281a" fill-opacity="0.7" d="M473.1 410.8h.7v.7h-.7zM474.3 412.3h.7v.7h-.7zM473.9 410.0h.7v.7h-.7zM473.7 410.6h.7v.7h-.7zM473.9 411.9h.7v.7h-.7zM474.5 411.2h.7v.7h-.7zM473.1 412.3h.7v.7h-.7zM473.5 410.8h.7v.7h-.7zM474.8 411.5h.7v.7h-.7zM473.3 412.5h.7v.7h-.7zM475.2 411.9h.7v.7h-.7zM473.6 412.2h.7v.7h-.7zM473.4 409.3h.7v.7h-.7zM472.2 412.3h.7v.7h-.7zM474.0 412.4h.7v.7h-.7zM474.2 411.5h.7v.7h-.7zM472.8 410.2h.7v.7h-.7zM472.9 414.2h.7v.7h-.7zM474.0 412.7h.7v.7h-.7zM473.6 409.5h.7v.7h-.7zM475.3 408.5h.7v.7h-.7zM473.2 410.4h.7v.7h-.7zM472.4 410.2h.7v.7h-.7zM472.9 411.8h.7v.7h-.7zM473.0 413.4h.7v.7h-.7zM475.4 411.0h.7v.7h-.7zM472.8 412.2h.7v.7h-.7zM475.2 413.6h.7v.7h-.7zM472.9 411.7h.7v.7h-.7zM473.1 409.9h.7v.7h-.7zM473.3 412.3h.7v.7h-.7zM474.1 410.1h.7v.7h-.7zM474.3 412.4h.7v.7h-.7zM473.4 411.2h.7v.7h-.7zM473.4 411.8h.7v.7h-.7zM476.5 413.1h.7v.7h-.7zM474.2 410.5h.7v.7h-.7z"/>
<path fill="#e8281a" fill-opacity="0.7" d="M473.8 413.6h.7v.7h-.7zM470.6 410.9h.7v.7h-.7zM472.7 411.5h.7v.7h-.7zM474.5 410.9h.7v.7h-.7zM472.6 410.2h.7v.7h-.7zM473.3 411.3h.7v.7h-.7zM475.4 413.3h.7v.7h-.7zM472.9 415.1h.7v.7h-.7zM474.2 411.8h.7v.7h-.7zM474.7 411.3h.7v.7h-.7zM472.0 410.9h.7v.7h-.7zM474.1 409.8h.7v.7h-.7zM474.3 410.1h.7v.7h-.7zM472.5 410.5h.7v.7h-.7zM473.4 412.7h.7v.7h-.7zM471.7 411.5h.7v.7h-.7zM473.4 412.3h.7v.7h-.7zM473.5 410.4h.7v.7h-.7zM472.3 412.7h.7v.7h-.7zM473.7 412.5h.7v.7h-.7zM474.0 410.9h.7v.7h-.7zM472.4 410.4h.7v.7h-.7zM473.9 411.9h.7v.7h-.7zM473.7 411.6h.7v.7h-.7zM474.1 410.5h.7v.7h-.7zM474.9 410.5h.7v.7h-.7zM471.0 412.1h.7v.7h-.7zM474.1 413.0h.7v.7h-.7zM473.3 413.3h.7v.7h-.7zM475.5 412.5h.7v.7h-.7zM472.0 410.9h.7v.7h-.7zM473.3 413.9h.7v.7h-.7zM474.2 413.9h.7v.7h-.7zM471.7 413.0h.7v.7h-.7zM475.3 411.1h.7v.7h-.7zM476.4 411.8h.7v.7h-.7zM471.9 413.0h.7v.7h-.7z"/>
<path fill="#e8281a" fill-opacity="0.7" d="M475.3 410.0h.7v.7h-.7zM473.8 412.1h.7v.7h-.7zM474.0 410.9h.7v.7h-.7zM473.1 411.6h.7v.7h-.7zM472.0 410.5h.7v.7h-.7zM474.2 410.8h.7v.7h-.7zM474.2 411.7h.7v.7h-.7zM477.4 410.7h.7v.7h-.7zM473.8 411.0h.7v.7h-.7zM473.9 412.8h.7v.7h-.7zM475.0 411.3h.7v.7h-.7zM475.6 410.8h.7v.7h-.7zM474.1 411.7h.7v.7h-.7zM474.7 408.5h.7v.7h-.7zM474.2 412.7h.7v.7h-.7zM473.6 410.7h.7v.7h-.7zM472.6 411.7h.7v.7h-.7zM475.6 413.2h.7v.7h-.7zM473.2 412.3h.7v.7h-.7zM475.6 411.0h.7v.7h-.7zM470.7 410.4h.7v.7h-.7zM473.7 411.2h.7v.7h-.7zM477.2 413.7h.7v.7h-.7zM473.4 410.6h.7v.7h-.7zM474.9 412.2h.7v.7h-.7zM472.3 412.8h.7v.7h-.7zM472.4 412.0h.7v.7h-.7zM473.1 409.9h.7v.7h-.7zM471.9 408.9h.7v.7h-.7zM470.0 414.8h.7v.7h-.7zM472.9 412.1h.7v.7h-.7zM475.3 410.6h.7v.7h-.7zM474.9 413.4h.7v.7h-.7zM473.5 412.1h.7v.7h-.7zM473.7 410.8h.7v.7h-.7zM473.8 414.0h.7v.7h-.7zM473.5 412.6h.7v.7h-.7z"/>
<path fill="#e8281a" fill-opacity="0.7" d="M476.4 411.5h.7v.7h-.7zM474.5 409.7h.7v.7h-.7zM473.2 414.9h.7v.7h-.7zM473.8 411.1h.7v.7h-.7zM473.0 409.7h.7v.7h-.7zM473.3 411.8h.7v.7h-.7zM474.3 410.6h.7v.7h-.7zM475.2 408.0h.7v.7h-.7zM473.8 412.2h.7v.7h-.7zM471.6 410.4h.7v.7h-.7zM472.7 412.6h.7v.7h-.7zM472.8 410.6h.7v.7h-.7zM470.9 410.2h.7v.7h-.7zM475.2 413.2h.7v.7h-.7zM471.4 410.3h.7v.7h-.7zM475.3 412.2h.7v.7h-.7zM474.7 412.6h.7v.7h-.7zM471.5 411.4h.7v.7h-.7zM473.8 413.4h.7v.7h-.7zM474.7 413.3h.7v.7h-.7zM474.2 411.6h.7v.7h-.7zM474.6 410.2h.7v.7h-.7zM474.6 410.4h.7v.7h-.7zM473.4 411.5h.7v.7h-.7zM474.7 411.7h.7v.7h-.7zM473.3 411.9h.7v.7h-.7zM472.6 412.3h.7v.7h-.7zM473.9 409.4h.7v.7h-.7zM473.4 412.0h.7v.7h-.7zM473.7 409.6h.7v.7h-.7zM471.4 411.6h.7v.7h-.7zM472.3 411.4h.7v.7h-.7zM472.1 411.0h.7v.7h-.7zM473.6 410.6h.7v.7h-.7zM474.2 411.9h.7v.7h-.7zM474.0 412.4h.7v.7h-.7zM472.1 410.0h.7v.7h-.7z"/>
<path fill="#e8281a" fill-opacity="0.2" d="M470.6 409.8h.7v.7h-.7zM476.2 407.3h.7v.7h-.7zM476.4 410.2h.7v.7h-.7zM473.0 410.5h.7v.7h-.7zM477.1 413.9h.7v.7h-.7zM472.2 410.4h.7v.7h-.7zM475.1 413.2h.7v.7h-.7zM468.0 411.2h.7v.7h-.7zM475.0 411.4h.7v.7h-.7zM468.3 409.6h.7v.7h-.7zM482.5 408.7h.7v.7h-.7zM476.0 414.8h.7v.7h-.7z"/>
<path fill="#e8281a" fill-opacity="0.2" d="M470.6 405.6h.7v.7h-.7zM470.1 417.2h.7v.7h-.7zM480.7 406.2h.7v.7h-.7zM465.4 407.3h.7v.7h-.7zM474.9 414.4h.7v.7h-.7zM473.3 416.2h.7v.7h-.7zM471.8 409.4h.7v.7h-.7zM479.0 406.0h.7v.7h-.7zM473.9 410.4h.7v.7h-.7zM473.0 409.2h.7v.7h-.7zM474.0 410.4h.7v.7h-.7zM466.2 404.8h.7v.7h-.7z"/>
<path fill="#e8281a" fill-opacity="0.2" d="M473.4 410.9h.7v.7h-.7zM472.6 409.2h.7v.7h-.7zM474.8 413.8h.7v.7h-.7zM474.9 408.4h.7v.7h-.7zM477.2 409.0h.7v.7h-.7zM473.3 411.3h.7v.7h-.7zM472.1 415.8h.7v.7h-.7zM473.1 406.6h.7v.7h-.7zM471.5 409.7h.7v.7h-.7zM477.3 412.0h.7v.7h-.7zM471.2 410.3h.7v.7h-.7z"/>
<path fill="#e8281a" fill-opacity="0.2" d="M470.7 410.6h.7v.7h-.7zM470.3 415.5h.7v.7h-.7zM476.8 409.3h.7v.7h-.7zM471.2 410.7h.7v.7h-.7zM476.4 411.0h.7v.7h-.7zM477.4 415.6h.7v.7h-.7zM468.0 408.8h.7v.7h-.7zM476.0 407.6h.7v.7h-.7zM477.9 412.0h.7v.7h-.7zM474.0 411.3h.7v.7h-.7zM466.9 414.2h.7v.7h-.7z"/>
<path fill="#e8281a" fill-opacity="0.2" d="M468.7 409.4h.7v.7h-.7zM475.4 411.4h.7v.7h-.7zM472.0 409.0h.7v.7h-.7zM481.9 407.9h.7v.7h-.7zM476.3 411.4h.7v.7h-.7zM470.0 411.5h.7v.7h-.7zM479.2 410.3h.7v.7h-.7zM472.3 409.1h.7v.7h-.7zM478.2 408.0h.7v.7h-.7zM471.9 408.1h.7v.7h-.7zM471.4 410.4h.7v.7h-.7z"/>
<path fill="#e8281a" fill-opacity="0.2" d="M472.3 409.0h.7v.7h-.7zM479.4 406.5h.7v.7h-.7zM476.0 409.2h.7v.7h-.7zM470.0 404.5h.7v.7h-.7zM481.4 406.3h.7v.7h-.7zM468.6 412.2h.7v.7h-.7zM469.5 411.3h.7v.7h-.7zM475.2 406.1h.7v.7h-.7zM473.9 408.3h.7v.7h-.7zM472.5 407.1h.7v.7h-.7zM466.8 412.4h.7v.7h-.7z"/>
<path fill="#e8281a" fill-opacity="0.2" d="M473.2 406.3h.7v.7h-.7zM467.3 414.2h.7v.7h-.7zM473.0 414.0h.7v.7h-.7zM475.2 410.3h.7v.7h-.7zM474.8 406.9h.7v.7h-.7zM478.7 408.7h.7v.7h-.7zM472.7 410.1h.7v.7h-.7zM468.3 411.1h.7v.7h-.7zM468.6 413.5h.7v.7h-.7zM472.9 410.1h.7v.7h-.7zM468.7 415.1h.7v.7h-.7z"/>
<path fill="#e8281a" fill-opacity="0.2" d="M468.6 407.7h.7v.7h-.7zM475.1 408.8h.7v.7h-.7zM473.1 411.3h.7v.7h-.7zM470.4 409.1h.7v.7h-.7zM482.0 408.8h.7v.7h-.7zM472.5 414.5h.7v.7h-.7zM475.3 413.2h.7v.7h-.7zM478.5 408.8h.7v.7h-.7zM472.5 411.3h.7v.7h-.7zM477.7 409.0h.7v.7h-.7zM469.6 408.0h.7v.7h-.7z"/>
<path fill="#e8a040" fill-opacity="0.3" d="M478.7 406.6h.6v.6h-.6zM475.1 407.2h.6v.6h-.6zM481.7 408.1h.6v.6h-.6z"/>
<path fill="#e8a040" fill-opacity="0.3" d="M469.5 405.4h.6v.6h-.6zM471.0 404.3h.6v.6h-.6zM473.6 406.8h.6v.6h-.6z"/>
<path fill="#e8a040" fill-opacity="0.3" d="M476.0 405.4h.6v.6h-.6zM474.1 408.9h.6v.6h-.6zM472.4 405.3h.6v.6h-.6z"/>
<path fill="#e8a040" fill-opacity="0.3" d="M478.4 405.0h.6v.6h-.6zM474.7 406.2h.6v.6h-.6zM474.6 401.5h.6v.6h-.6z"/>
<path fill="#e8a040" fill-opacity="0.3" d="M474.5 407.7h.6v.6h-.6zM473.9 403.6h.6v.6h-.6z"/>
<path fill="#e8a040" fill-opacity="0.3" d="M478.3 406.3h.6v.6h-.6zM471.9 408.2h.6v.6h-.6z"/>
<path fill="#e8a040" fill-opacity="0.3" d="M475.7 405.5h.6v.6h-.6zM467.8 408.6h.6v.6h-.6z"/>
<path fill="#e8a040" fill-opacity="0.3" d="M473.8 405.2h.6v.6h-.6zM470.5 408.9h.6v.6h-.6z"/>
<text x="483" y="404.6" font-size="6.6" textLength="11.5" lengthAdjust="spacingAndGlyphs">97%</text>
<text x="441.6" y="419.1" font-size="7.2" text-anchor="middle" textLength="9.8" lengthAdjust="spacingAndGlyphs" transform="rotate(-90 441.6 419.1)">GFP</text>
<text x="452.9" y="459.8" font-size="6.9" textLength="48.3" lengthAdjust="spacingAndGlyphs">CD45.2 Pac. Blue</text>
</svg></body></html>
